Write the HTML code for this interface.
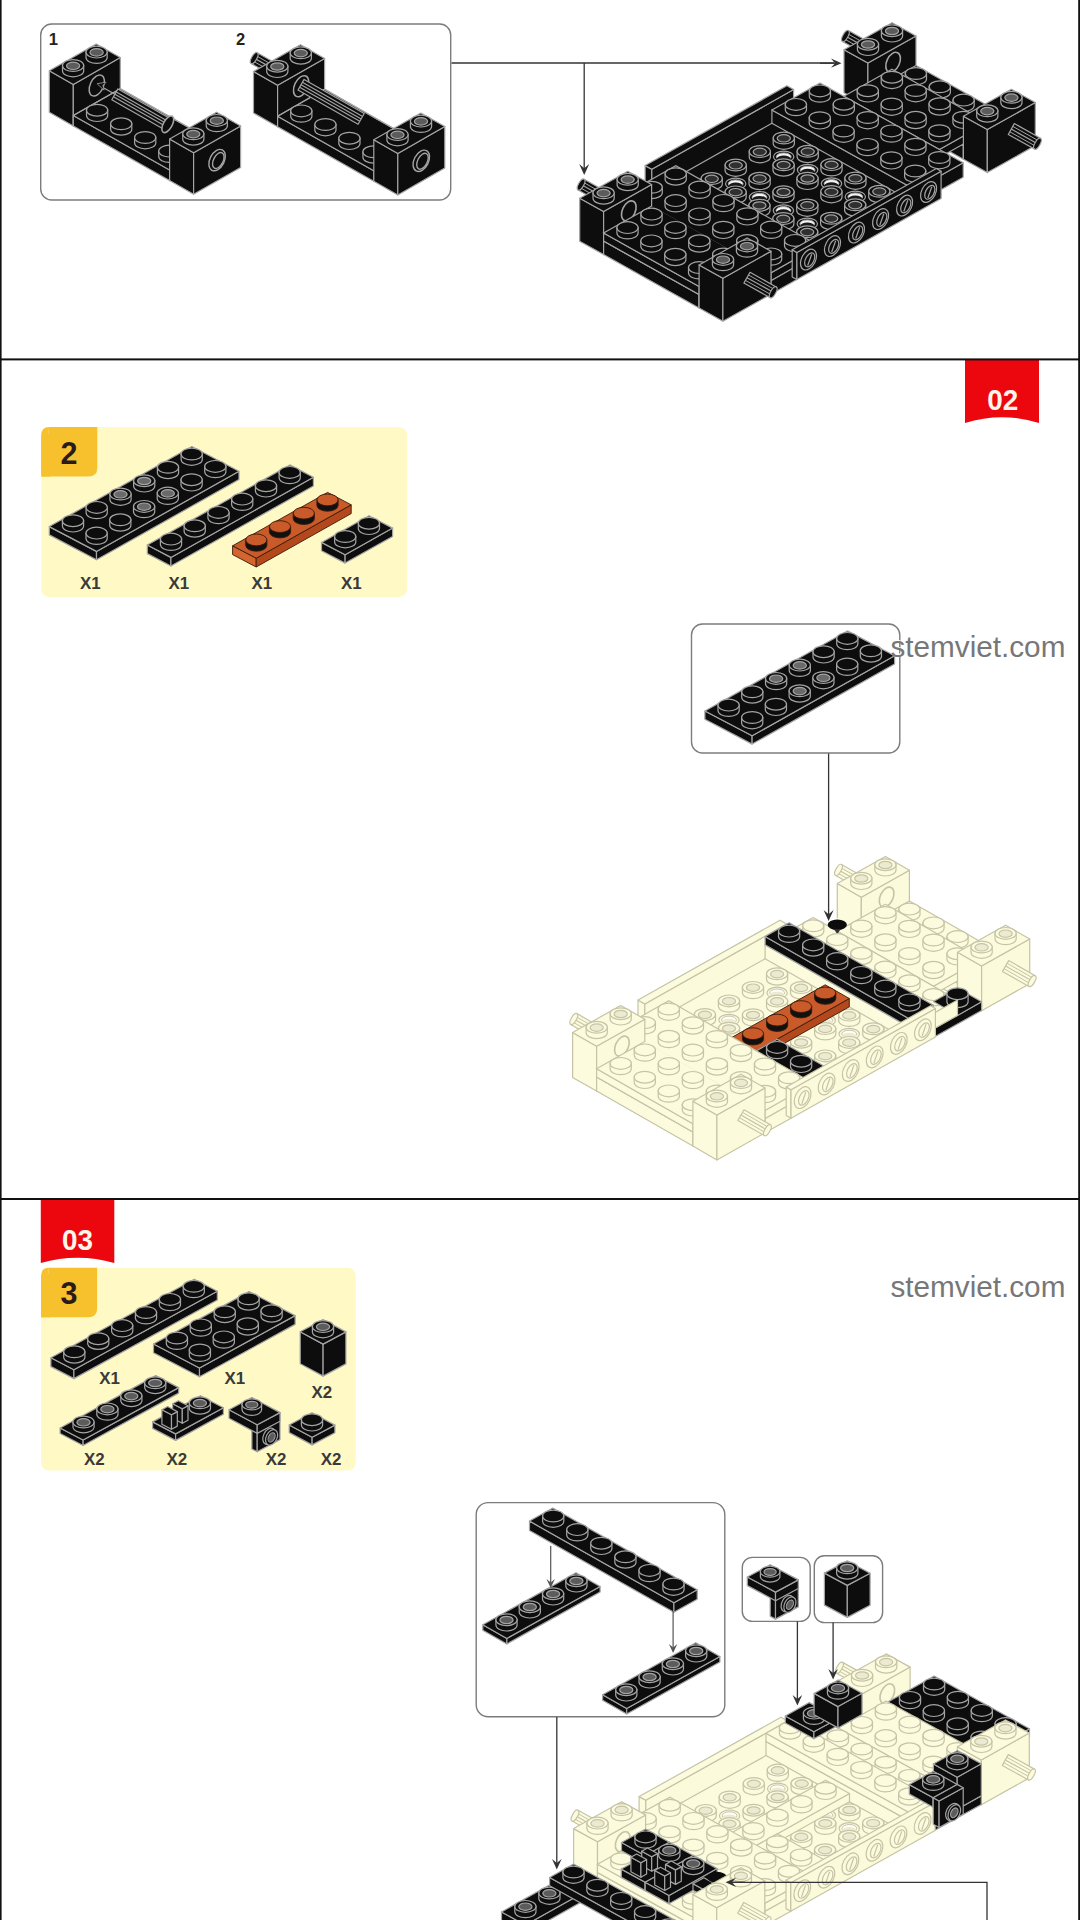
<!DOCTYPE html>
<html><head><meta charset="utf-8"><title>Build steps</title>
<style>
html,body{margin:0;padding:0;background:#fff;}
body{width:1080px;height:1920px;overflow:hidden;font-family:"Liberation Sans",sans-serif;}
svg{display:block;font-family:"Liberation Sans",sans-serif;}
</style></head><body>
<svg width="1080" height="1920" viewBox="0 0 1080 1920">
<rect x="0" y="0" width="1080" height="1920" fill="#fff"/>
<rect x="40.7" y="24" width="410" height="176" rx="11" fill="none" stroke="#7c7c7c" stroke-width="1.4"/>
<text x="48.8" y="45.3" font-size="16.5" font-weight="bold" fill="#222" text-anchor="start">1</text>
<text x="236" y="45.3" font-size="16.5" font-weight="bold" fill="#222" text-anchor="start">2</text>
<polygon points="49.3,70.8 73.3,84.5 73.3,126 49.3,112.3" fill="#0d0d0d" stroke="#a4a4a4" stroke-width="1.2" stroke-linejoin="round"/><polygon points="73.3,84.5 120.3,57.6 120.3,99.2 73.3,126" fill="#0d0d0d" stroke="#a4a4a4" stroke-width="1.2" stroke-linejoin="round"/><polygon points="49.3,70.8 96.3,44 120.3,57.6 73.3,84.5" fill="#0d0d0d" stroke="#a4a4a4" stroke-width="1.2" stroke-linejoin="round"/><path d="M86,52.1 L86,57.5 A10.6,5.9 0 0 0 107.2,57.5 L107.2,52.1 Z" fill="#0d0d0d" stroke="#a4a4a4" stroke-width="1.2"/><ellipse cx="96.6" cy="52.1" rx="10.6" ry="5.9" fill="#0d0d0d" stroke="#a4a4a4" stroke-width="1.2"/><ellipse cx="96.6" cy="52.4" rx="6.6" ry="3.7" fill="#5c5c5c" stroke="#a4a4a4" stroke-width="1.2"/><path d="M62.5,65.5 L62.5,70.9 A10.6,5.9 0 0 0 83.7,70.9 L83.7,65.5 Z" fill="#0d0d0d" stroke="#a4a4a4" stroke-width="1.2"/><ellipse cx="73.1" cy="65.5" rx="10.6" ry="5.9" fill="#0d0d0d" stroke="#a4a4a4" stroke-width="1.2"/><ellipse cx="73.1" cy="65.8" rx="6.6" ry="3.7" fill="#5c5c5c" stroke="#a4a4a4" stroke-width="1.2"/><ellipse cx="96.8" cy="85.5" rx="6.6" ry="11.2" transform="rotate(25 96.8 85.5)" fill="#0d0d0d" stroke="#a4a4a4" stroke-width="1.5"/><polygon points="73.3,115.5 169.6,170.1 169.6,180.6 73.3,126" fill="#0d0d0d" stroke="#a4a4a4" stroke-width="1.2" stroke-linejoin="round"/><polygon points="169.6,170.1 216.6,143.2 216.6,153.8 169.6,180.6" fill="#0d0d0d" stroke="#a4a4a4" stroke-width="1.2" stroke-linejoin="round"/><polygon points="73.3,115.5 120.3,88.7 216.6,143.2 169.6,170.1" fill="#0d0d0d" stroke="#a4a4a4" stroke-width="1.2" stroke-linejoin="round"/><polyline points="73.3,115.5 120.3,88.7 216.6,143.2" fill="none" stroke="#a4a4a4" stroke-width="1.2"/><path d="M86.5,110.2 L86.5,115.6 A10.6,5.9 0 0 0 107.7,115.6 L107.7,110.2 Z" fill="#0d0d0d" stroke="#a4a4a4" stroke-width="1.2"/><ellipse cx="97.1" cy="110.2" rx="10.6" ry="5.9" fill="#0d0d0d" stroke="#a4a4a4" stroke-width="1.2"/><path d="M110.6,123.8 L110.6,129.2 A10.6,5.9 0 0 0 131.8,129.2 L131.8,123.8 Z" fill="#0d0d0d" stroke="#a4a4a4" stroke-width="1.2"/><ellipse cx="121.2" cy="123.8" rx="10.6" ry="5.9" fill="#0d0d0d" stroke="#a4a4a4" stroke-width="1.2"/><path d="M134.6,137.5 L134.6,142.9 A10.6,5.9 0 0 0 155.8,142.9 L155.8,137.5 Z" fill="#0d0d0d" stroke="#a4a4a4" stroke-width="1.2"/><ellipse cx="145.2" cy="137.5" rx="10.6" ry="5.9" fill="#0d0d0d" stroke="#a4a4a4" stroke-width="1.2"/><path d="M158.7,151.1 L158.7,156.5 A10.6,5.9 0 0 0 179.9,156.5 L179.9,151.1 Z" fill="#0d0d0d" stroke="#a4a4a4" stroke-width="1.2"/><ellipse cx="169.3" cy="151.1" rx="10.6" ry="5.9" fill="#0d0d0d" stroke="#a4a4a4" stroke-width="1.2"/><polygon points="111.8,99.7 164.7,129.7 170.9,118.9 117.9,88.9" fill="#0d0d0d" stroke="#a4a4a4" stroke-width="1.2" stroke-linejoin="round"/><polyline points="116.3,91.9 169.2,121.9" fill="none" stroke="#a4a4a4" stroke-width="1.1"/><polyline points="114.9,94.3 167.8,124.3" fill="none" stroke="#a4a4a4" stroke-width="1.1"/><polyline points="113.5,96.7 166.4,126.7" fill="none" stroke="#a4a4a4" stroke-width="1.1"/><ellipse cx="167.8" cy="124.3" rx="4.4" ry="9.2" transform="rotate(29.6 167.8 124.3)" fill="#0d0d0d" stroke="#a4a4a4" stroke-width="1.6"/><polyline points="114.9,94.3 101.7,86.8" fill="none" stroke="#a4a4a4" stroke-width="1.2"/><path d="M97.1,83.7 l9,-1.5 l-3.2,3.2 l1.2,4.8 Z" fill="#0d0d0d" stroke="#a4a4a4" stroke-width="0.8"/><polygon points="169.6,139.1 193.6,152.7 193.6,194.2 169.6,180.6" fill="#0d0d0d" stroke="#a4a4a4" stroke-width="1.2" stroke-linejoin="round"/><polygon points="193.6,152.7 240.6,125.9 240.6,167.4 193.6,194.2" fill="#0d0d0d" stroke="#a4a4a4" stroke-width="1.2" stroke-linejoin="round"/><polygon points="169.6,139.1 216.6,112.2 240.6,125.9 193.6,152.7" fill="#0d0d0d" stroke="#a4a4a4" stroke-width="1.2" stroke-linejoin="round"/><path d="M206.2,120.4 L206.2,125.8 A10.6,5.9 0 0 0 227.4,125.8 L227.4,120.4 Z" fill="#0d0d0d" stroke="#a4a4a4" stroke-width="1.2"/><ellipse cx="216.8" cy="120.4" rx="10.6" ry="5.9" fill="#0d0d0d" stroke="#a4a4a4" stroke-width="1.2"/><ellipse cx="216.8" cy="120.7" rx="6.6" ry="3.7" fill="#5c5c5c" stroke="#a4a4a4" stroke-width="1.2"/><path d="M182.7,133.8 L182.7,139.2 A10.6,5.9 0 0 0 203.9,139.2 L203.9,133.8 Z" fill="#0d0d0d" stroke="#a4a4a4" stroke-width="1.2"/><ellipse cx="193.3" cy="133.8" rx="10.6" ry="5.9" fill="#0d0d0d" stroke="#a4a4a4" stroke-width="1.2"/><ellipse cx="193.3" cy="134.1" rx="6.6" ry="3.7" fill="#5c5c5c" stroke="#a4a4a4" stroke-width="1.2"/><ellipse cx="217.1" cy="160.1" rx="7.2" ry="11.4" transform="rotate(27 217.1 160.1)" fill="#0d0d0d" stroke="#a4a4a4" stroke-width="1.4"/><ellipse cx="218.3" cy="160.5" rx="4.8" ry="8.6" transform="rotate(27 218.3 160.5)" fill="#0d0d0d" stroke="#a4a4a4" stroke-width="1.4"/>
<polygon points="273.9,76.5 251.1,63.5 257.2,52.7 280.1,65.7" fill="#0d0d0d" stroke="#a4a4a4" stroke-width="1.2" stroke-linejoin="round"/><polyline points="277,71.1 254.2,58.1" fill="none" stroke="#a4a4a4" stroke-width="1.2"/><polyline points="275.5,73.8 252.6,60.8" fill="none" stroke="#a4a4a4" stroke-width="1"/><polyline points="278.5,68.4 255.7,55.4" fill="none" stroke="#a4a4a4" stroke-width="1"/><ellipse cx="254.2" cy="58.1" rx="2.6" ry="6.2" transform="rotate(29.6 254.2 58.1)" fill="#0d0d0d" stroke="#a4a4a4" stroke-width="1.2"/><polygon points="253.5,71.5 277.6,85.2 277.6,126.7 253.5,113" fill="#0d0d0d" stroke="#a4a4a4" stroke-width="1.2" stroke-linejoin="round"/><polygon points="277.6,85.2 324.6,58.4 324.6,99.8 277.6,126.7" fill="#0d0d0d" stroke="#a4a4a4" stroke-width="1.2" stroke-linejoin="round"/><polygon points="253.5,71.5 300.5,44.7 324.6,58.4 277.6,85.2" fill="#0d0d0d" stroke="#a4a4a4" stroke-width="1.2" stroke-linejoin="round"/><path d="M290.2,52.8 L290.2,58.2 A10.6,5.9 0 0 0 311.4,58.2 L311.4,52.8 Z" fill="#0d0d0d" stroke="#a4a4a4" stroke-width="1.2"/><ellipse cx="300.8" cy="52.8" rx="10.6" ry="5.9" fill="#0d0d0d" stroke="#a4a4a4" stroke-width="1.2"/><ellipse cx="300.8" cy="53.1" rx="6.6" ry="3.7" fill="#5c5c5c" stroke="#a4a4a4" stroke-width="1.2"/><path d="M266.7,66.2 L266.7,71.6 A10.6,5.9 0 0 0 287.9,71.6 L287.9,66.2 Z" fill="#0d0d0d" stroke="#a4a4a4" stroke-width="1.2"/><ellipse cx="277.3" cy="66.2" rx="10.6" ry="5.9" fill="#0d0d0d" stroke="#a4a4a4" stroke-width="1.2"/><ellipse cx="277.3" cy="66.5" rx="6.6" ry="3.7" fill="#5c5c5c" stroke="#a4a4a4" stroke-width="1.2"/><ellipse cx="301.1" cy="86.2" rx="6.6" ry="11.2" transform="rotate(25 301.1 86.2)" fill="#0d0d0d" stroke="#a4a4a4" stroke-width="1.5"/><polygon points="277.6,116.2 373.8,170.8 373.8,181.2 277.6,126.7" fill="#0d0d0d" stroke="#a4a4a4" stroke-width="1.2" stroke-linejoin="round"/><polygon points="373.8,170.8 420.8,143.9 420.8,154.4 373.8,181.2" fill="#0d0d0d" stroke="#a4a4a4" stroke-width="1.2" stroke-linejoin="round"/><polygon points="277.6,116.2 324.6,89.3 420.8,143.9 373.8,170.8" fill="#0d0d0d" stroke="#a4a4a4" stroke-width="1.2" stroke-linejoin="round"/><polyline points="277.6,116.2 324.6,89.3 420.8,143.9" fill="none" stroke="#a4a4a4" stroke-width="1.2"/><path d="M290.7,110.9 L290.7,116.3 A10.6,5.9 0 0 0 311.9,116.3 L311.9,110.9 Z" fill="#0d0d0d" stroke="#a4a4a4" stroke-width="1.2"/><ellipse cx="301.3" cy="110.9" rx="10.6" ry="5.9" fill="#0d0d0d" stroke="#a4a4a4" stroke-width="1.2"/><path d="M314.8,124.5 L314.8,129.9 A10.6,5.9 0 0 0 336,129.9 L336,124.5 Z" fill="#0d0d0d" stroke="#a4a4a4" stroke-width="1.2"/><ellipse cx="325.4" cy="124.5" rx="10.6" ry="5.9" fill="#0d0d0d" stroke="#a4a4a4" stroke-width="1.2"/><path d="M338.8,138.2 L338.8,143.6 A10.6,5.9 0 0 0 360,143.6 L360,138.2 Z" fill="#0d0d0d" stroke="#a4a4a4" stroke-width="1.2"/><ellipse cx="349.4" cy="138.2" rx="10.6" ry="5.9" fill="#0d0d0d" stroke="#a4a4a4" stroke-width="1.2"/><path d="M362.9,151.8 L362.9,157.2 A10.6,5.9 0 0 0 384.1,157.2 L384.1,151.8 Z" fill="#0d0d0d" stroke="#a4a4a4" stroke-width="1.2"/><ellipse cx="373.5" cy="151.8" rx="10.6" ry="5.9" fill="#0d0d0d" stroke="#a4a4a4" stroke-width="1.2"/><polygon points="298,90.1 358.1,124.3 364.2,113.5 304.1,79.4" fill="#0d0d0d" stroke="#a4a4a4" stroke-width="1.2" stroke-linejoin="round"/><polyline points="302.4,82.3 362.6,116.4" fill="none" stroke="#a4a4a4" stroke-width="1.1"/><polyline points="301.1,84.8 361.2,118.9" fill="none" stroke="#a4a4a4" stroke-width="1.1"/><polyline points="299.7,87.2 359.8,121.3" fill="none" stroke="#a4a4a4" stroke-width="1.1"/><polygon points="373.8,139.8 397.8,153.4 397.8,194.9 373.8,181.2" fill="#0d0d0d" stroke="#a4a4a4" stroke-width="1.2" stroke-linejoin="round"/><polygon points="397.8,153.4 444.8,126.6 444.8,168.1 397.8,194.9" fill="#0d0d0d" stroke="#a4a4a4" stroke-width="1.2" stroke-linejoin="round"/><polygon points="373.8,139.8 420.8,113 444.8,126.6 397.8,153.4" fill="#0d0d0d" stroke="#a4a4a4" stroke-width="1.2" stroke-linejoin="round"/><path d="M410.4,121.1 L410.4,126.5 A10.6,5.9 0 0 0 431.6,126.5 L431.6,121.1 Z" fill="#0d0d0d" stroke="#a4a4a4" stroke-width="1.2"/><ellipse cx="421" cy="121.1" rx="10.6" ry="5.9" fill="#0d0d0d" stroke="#a4a4a4" stroke-width="1.2"/><ellipse cx="421" cy="121.4" rx="6.6" ry="3.7" fill="#5c5c5c" stroke="#a4a4a4" stroke-width="1.2"/><path d="M386.9,134.5 L386.9,139.9 A10.6,5.9 0 0 0 408.1,139.9 L408.1,134.5 Z" fill="#0d0d0d" stroke="#a4a4a4" stroke-width="1.2"/><ellipse cx="397.5" cy="134.5" rx="10.6" ry="5.9" fill="#0d0d0d" stroke="#a4a4a4" stroke-width="1.2"/><ellipse cx="397.5" cy="134.8" rx="6.6" ry="3.7" fill="#5c5c5c" stroke="#a4a4a4" stroke-width="1.2"/><ellipse cx="421.3" cy="160.8" rx="7.2" ry="11.4" transform="rotate(27 421.3 160.8)" fill="#0d0d0d" stroke="#a4a4a4" stroke-width="1.4"/><ellipse cx="422.5" cy="161.2" rx="4.8" ry="8.6" transform="rotate(27 422.5 161.2)" fill="#0d0d0d" stroke="#a4a4a4" stroke-width="1.4"/>
<polyline points="451.5,63 834,63" fill="none" stroke="#333" stroke-width="1.3"/>
<polyline points="820,63.2 835.7,63.2" fill="none" stroke="#333" stroke-width="1.3"/><path d="M841.5,63.2 L831,58.6 L835,63.2 L831,67.8 Z" fill="#333"/>
<polyline points="584.2,63 584.2,168.9" fill="none" stroke="#333" stroke-width="1.3"/><path d="M584.2,175 L579.2,164 L584.2,168.2 L589.2,164 Z" fill="#333"/>
<polygon points="645.1,165.6 651.8,169.3 651.8,196.2 645.1,192.4" fill="#0d0d0d" stroke="#a4a4a4" stroke-width="1.2" stroke-linejoin="round"/><polygon points="651.8,169.3 793.6,89.6 793.6,116.5 651.8,196.2" fill="#0d0d0d" stroke="#a4a4a4" stroke-width="1.2" stroke-linejoin="round"/><polygon points="645.1,165.6 786.9,85.8 793.6,89.6 651.8,169.3" fill="#0d0d0d" stroke="#a4a4a4" stroke-width="1.2" stroke-linejoin="round"/><polygon points="865,54.1 842.4,41.4 848.4,30.6 871.1,43.2" fill="#0d0d0d" stroke="#a4a4a4" stroke-width="1.2" stroke-linejoin="round"/><polyline points="868.1,48.7 845.4,36" fill="none" stroke="#a4a4a4" stroke-width="1.2"/><polyline points="866.5,51.4 843.9,38.7" fill="none" stroke="#a4a4a4" stroke-width="1"/><polyline points="869.6,46 846.9,33.3" fill="none" stroke="#a4a4a4" stroke-width="1"/><ellipse cx="845.4" cy="36" rx="2.6" ry="6.2" transform="rotate(29.2 845.4 36)" fill="#0d0d0d" stroke="#a4a4a4" stroke-width="1.2"/><polygon points="844,49.7 867.9,63 867.9,106 844,92.7" fill="#0d0d0d" stroke="#a4a4a4" stroke-width="1.2" stroke-linejoin="round"/><polygon points="867.9,63 916,36 916,79 867.9,106" fill="#0d0d0d" stroke="#a4a4a4" stroke-width="1.2" stroke-linejoin="round"/><polygon points="844,49.7 892.1,22.7 916,36 867.9,63" fill="#0d0d0d" stroke="#a4a4a4" stroke-width="1.2" stroke-linejoin="round"/><path d="M881.4,30.7 L881.4,36.1 A10.6,5.9 0 0 0 902.6,36.1 L902.6,30.7 Z" fill="#0d0d0d" stroke="#a4a4a4" stroke-width="1.2"/><ellipse cx="892" cy="30.7" rx="10.6" ry="5.9" fill="#0d0d0d" stroke="#a4a4a4" stroke-width="1.2"/><ellipse cx="892" cy="31" rx="6.6" ry="3.7" fill="#5c5c5c" stroke="#a4a4a4" stroke-width="1.2"/><path d="M857.4,44.2 L857.4,49.6 A10.6,5.9 0 0 0 878.6,49.6 L878.6,44.2 Z" fill="#0d0d0d" stroke="#a4a4a4" stroke-width="1.2"/><ellipse cx="868" cy="44.2" rx="10.6" ry="5.9" fill="#0d0d0d" stroke="#a4a4a4" stroke-width="1.2"/><ellipse cx="868" cy="44.5" rx="6.6" ry="3.7" fill="#5c5c5c" stroke="#a4a4a4" stroke-width="1.2"/><ellipse cx="893.1" cy="62.3" rx="6.4" ry="10.6" transform="rotate(25 893.1 62.3)" fill="#0d0d0d" stroke="#a4a4a4" stroke-width="1.6"/><polygon points="867.9,92.5 963.4,145.8 963.4,159.3 867.9,106" fill="#0d0d0d" stroke="#a4a4a4" stroke-width="1.2" stroke-linejoin="round"/><polygon points="963.4,145.8 1011.4,118.7 1011.4,132.3 963.4,159.3" fill="#0d0d0d" stroke="#a4a4a4" stroke-width="1.2" stroke-linejoin="round"/><polygon points="867.9,92.5 916,65.5 1011.4,118.7 963.4,145.8" fill="#0d0d0d" stroke="#a4a4a4" stroke-width="1.2" stroke-linejoin="round"/><path d="M905.3,73.5 L905.3,78.9 A10.6,5.9 0 0 0 926.5,78.9 L926.5,73.5 Z" fill="#0d0d0d" stroke="#a4a4a4" stroke-width="1.2"/><ellipse cx="915.9" cy="73.5" rx="10.6" ry="5.9" fill="#0d0d0d" stroke="#a4a4a4" stroke-width="1.2"/><path d="M929.1,86.8 L929.1,92.2 A10.6,5.9 0 0 0 950.4,92.2 L950.4,86.8 Z" fill="#0d0d0d" stroke="#a4a4a4" stroke-width="1.2"/><ellipse cx="939.8" cy="86.8" rx="10.6" ry="5.9" fill="#0d0d0d" stroke="#a4a4a4" stroke-width="1.2"/><path d="M953,100.1 L953,105.5 A10.6,5.9 0 0 0 974.2,105.5 L974.2,100.1 Z" fill="#0d0d0d" stroke="#a4a4a4" stroke-width="1.2"/><ellipse cx="963.6" cy="100.1" rx="10.6" ry="5.9" fill="#0d0d0d" stroke="#a4a4a4" stroke-width="1.2"/><path d="M976.9,113.4 L976.9,118.8 A10.6,5.9 0 0 0 998.1,118.8 L998.1,113.4 Z" fill="#0d0d0d" stroke="#a4a4a4" stroke-width="1.2"/><ellipse cx="987.5" cy="113.4" rx="10.6" ry="5.9" fill="#0d0d0d" stroke="#a4a4a4" stroke-width="1.2"/><polygon points="843.9,96.2 939.4,149.5 939.4,157.4 843.9,104.2" fill="#0d0d0d" stroke="#a4a4a4" stroke-width="1.2" stroke-linejoin="round"/><polygon points="939.4,149.5 987.4,122.5 987.4,130.4 939.4,157.4" fill="#0d0d0d" stroke="#a4a4a4" stroke-width="1.2" stroke-linejoin="round"/><polygon points="843.9,96.2 891.9,69.2 987.4,122.5 939.4,149.5" fill="#0d0d0d" stroke="#a4a4a4" stroke-width="1.2" stroke-linejoin="round"/><polygon points="771.9,109.9 915.2,189.8 915.2,204.3 771.9,124.3" fill="#0d0d0d" stroke="#a4a4a4" stroke-width="1.2" stroke-linejoin="round"/><polygon points="915.2,189.8 963.2,162.8 963.2,177.2 915.2,204.3" fill="#0d0d0d" stroke="#a4a4a4" stroke-width="1.2" stroke-linejoin="round"/><polygon points="771.9,109.9 820,82.9 963.2,162.8 915.2,189.8" fill="#0d0d0d" stroke="#a4a4a4" stroke-width="1.2" stroke-linejoin="round"/><path d="M881.2,77.2 L881.2,82.6 A10.6,5.9 0 0 0 902.5,82.6 L902.5,77.2 Z" fill="#0d0d0d" stroke="#a4a4a4" stroke-width="1.2"/><ellipse cx="891.9" cy="77.2" rx="10.6" ry="5.9" fill="#0d0d0d" stroke="#a4a4a4" stroke-width="1.2"/><path d="M809.3,90.9 L809.3,96.3 A10.6,5.9 0 0 0 830.5,96.3 L830.5,90.9 Z" fill="#0d0d0d" stroke="#a4a4a4" stroke-width="1.2"/><ellipse cx="819.9" cy="90.9" rx="10.6" ry="5.9" fill="#0d0d0d" stroke="#a4a4a4" stroke-width="1.2"/><path d="M857.2,90.7 L857.2,96.1 A10.6,5.9 0 0 0 878.4,96.1 L878.4,90.7 Z" fill="#0d0d0d" stroke="#a4a4a4" stroke-width="1.2"/><ellipse cx="867.8" cy="90.7" rx="10.6" ry="5.9" fill="#0d0d0d" stroke="#a4a4a4" stroke-width="1.2"/><path d="M905.1,90.5 L905.1,95.9 A10.6,5.9 0 0 0 926.3,95.9 L926.3,90.5 Z" fill="#0d0d0d" stroke="#a4a4a4" stroke-width="1.2"/><ellipse cx="915.7" cy="90.5" rx="10.6" ry="5.9" fill="#0d0d0d" stroke="#a4a4a4" stroke-width="1.2"/><path d="M785.3,104.4 L785.3,109.8 A10.6,5.9 0 0 0 806.5,109.8 L806.5,104.4 Z" fill="#0d0d0d" stroke="#a4a4a4" stroke-width="1.2"/><ellipse cx="795.9" cy="104.4" rx="10.6" ry="5.9" fill="#0d0d0d" stroke="#a4a4a4" stroke-width="1.2"/><path d="M833.2,104.2 L833.2,109.6 A10.6,5.9 0 0 0 854.4,109.6 L854.4,104.2 Z" fill="#0d0d0d" stroke="#a4a4a4" stroke-width="1.2"/><ellipse cx="843.8" cy="104.2" rx="10.6" ry="5.9" fill="#0d0d0d" stroke="#a4a4a4" stroke-width="1.2"/><path d="M881.1,104 L881.1,109.4 A10.6,5.9 0 0 0 902.3,109.4 L902.3,104 Z" fill="#0d0d0d" stroke="#a4a4a4" stroke-width="1.2"/><ellipse cx="891.7" cy="104" rx="10.6" ry="5.9" fill="#0d0d0d" stroke="#a4a4a4" stroke-width="1.2"/><path d="M929,103.8 L929,109.2 A10.6,5.9 0 0 0 950.2,109.2 L950.2,103.8 Z" fill="#0d0d0d" stroke="#a4a4a4" stroke-width="1.2"/><ellipse cx="939.6" cy="103.8" rx="10.6" ry="5.9" fill="#0d0d0d" stroke="#a4a4a4" stroke-width="1.2"/><path d="M809.2,117.7 L809.2,123.1 A10.6,5.9 0 0 0 830.4,123.1 L830.4,117.7 Z" fill="#0d0d0d" stroke="#a4a4a4" stroke-width="1.2"/><ellipse cx="819.8" cy="117.7" rx="10.6" ry="5.9" fill="#0d0d0d" stroke="#a4a4a4" stroke-width="1.2"/><path d="M857.1,117.5 L857.1,122.9 A10.6,5.9 0 0 0 878.3,122.9 L878.3,117.5 Z" fill="#0d0d0d" stroke="#a4a4a4" stroke-width="1.2"/><ellipse cx="867.7" cy="117.5" rx="10.6" ry="5.9" fill="#0d0d0d" stroke="#a4a4a4" stroke-width="1.2"/><path d="M905,117.3 L905,122.7 A10.6,5.9 0 0 0 926.2,122.7 L926.2,117.3 Z" fill="#0d0d0d" stroke="#a4a4a4" stroke-width="1.2"/><ellipse cx="915.6" cy="117.3" rx="10.6" ry="5.9" fill="#0d0d0d" stroke="#a4a4a4" stroke-width="1.2"/><path d="M952.9,117.2 L952.9,122.6 A10.6,5.9 0 0 0 974.1,122.6 L974.1,117.2 Z" fill="#0d0d0d" stroke="#a4a4a4" stroke-width="1.2"/><ellipse cx="963.5" cy="117.2" rx="10.6" ry="5.9" fill="#0d0d0d" stroke="#a4a4a4" stroke-width="1.2"/><path d="M833,131 L833,136.4 A10.6,5.9 0 0 0 854.2,136.4 L854.2,131 Z" fill="#0d0d0d" stroke="#a4a4a4" stroke-width="1.2"/><ellipse cx="843.6" cy="131" rx="10.6" ry="5.9" fill="#0d0d0d" stroke="#a4a4a4" stroke-width="1.2"/><path d="M880.9,130.9 L880.9,136.3 A10.6,5.9 0 0 0 902.1,136.3 L902.1,130.9 Z" fill="#0d0d0d" stroke="#a4a4a4" stroke-width="1.2"/><ellipse cx="891.5" cy="130.9" rx="10.6" ry="5.9" fill="#0d0d0d" stroke="#a4a4a4" stroke-width="1.2"/><path d="M928.8,130.7 L928.8,136.1 A10.6,5.9 0 0 0 950,136.1 L950,130.7 Z" fill="#0d0d0d" stroke="#a4a4a4" stroke-width="1.2"/><ellipse cx="939.4" cy="130.7" rx="10.6" ry="5.9" fill="#0d0d0d" stroke="#a4a4a4" stroke-width="1.2"/><path d="M856.9,144.4 L856.9,149.8 A10.6,5.9 0 0 0 878.1,149.8 L878.1,144.4 Z" fill="#0d0d0d" stroke="#a4a4a4" stroke-width="1.2"/><ellipse cx="867.5" cy="144.4" rx="10.6" ry="5.9" fill="#0d0d0d" stroke="#a4a4a4" stroke-width="1.2"/><path d="M904.8,144.2 L904.8,149.6 A10.6,5.9 0 0 0 926,149.6 L926,144.2 Z" fill="#0d0d0d" stroke="#a4a4a4" stroke-width="1.2"/><ellipse cx="915.4" cy="144.2" rx="10.6" ry="5.9" fill="#0d0d0d" stroke="#a4a4a4" stroke-width="1.2"/><path d="M880.8,157.7 L880.8,163.1 A10.6,5.9 0 0 0 902,163.1 L902,157.7 Z" fill="#0d0d0d" stroke="#a4a4a4" stroke-width="1.2"/><ellipse cx="891.4" cy="157.7" rx="10.6" ry="5.9" fill="#0d0d0d" stroke="#a4a4a4" stroke-width="1.2"/><path d="M928.7,157.5 L928.7,162.9 A10.6,5.9 0 0 0 949.9,162.9 L949.9,157.5 Z" fill="#0d0d0d" stroke="#a4a4a4" stroke-width="1.2"/><ellipse cx="939.3" cy="157.5" rx="10.6" ry="5.9" fill="#0d0d0d" stroke="#a4a4a4" stroke-width="1.2"/><path d="M904.6,171 L904.6,176.4 A10.6,5.9 0 0 0 925.8,176.4 L925.8,171 Z" fill="#0d0d0d" stroke="#a4a4a4" stroke-width="1.2"/><ellipse cx="915.2" cy="171" rx="10.6" ry="5.9" fill="#0d0d0d" stroke="#a4a4a4" stroke-width="1.2"/><polygon points="963.4,116.3 987.3,129.6 987.3,172.6 963.4,159.3" fill="#0d0d0d" stroke="#a4a4a4" stroke-width="1.2" stroke-linejoin="round"/><polygon points="987.3,129.6 1035.3,102.6 1035.3,145.6 987.3,172.6" fill="#0d0d0d" stroke="#a4a4a4" stroke-width="1.2" stroke-linejoin="round"/><polygon points="963.4,116.3 1011.4,89.3 1035.3,102.6 987.3,129.6" fill="#0d0d0d" stroke="#a4a4a4" stroke-width="1.2" stroke-linejoin="round"/><path d="M1000.8,97.3 L1000.8,102.7 A10.6,5.9 0 0 0 1022,102.7 L1022,97.3 Z" fill="#0d0d0d" stroke="#a4a4a4" stroke-width="1.2"/><ellipse cx="1011.4" cy="97.3" rx="10.6" ry="5.9" fill="#0d0d0d" stroke="#a4a4a4" stroke-width="1.2"/><ellipse cx="1011.4" cy="97.6" rx="6.6" ry="3.7" fill="#5c5c5c" stroke="#a4a4a4" stroke-width="1.2"/><path d="M976.7,110.8 L976.7,116.2 A10.6,5.9 0 0 0 997.9,116.2 L997.9,110.8 Z" fill="#0d0d0d" stroke="#a4a4a4" stroke-width="1.2"/><ellipse cx="987.3" cy="110.8" rx="10.6" ry="5.9" fill="#0d0d0d" stroke="#a4a4a4" stroke-width="1.2"/><ellipse cx="987.3" cy="111.1" rx="6.6" ry="3.7" fill="#5c5c5c" stroke="#a4a4a4" stroke-width="1.2"/><polygon points="1008.3,134.5 1034.5,149.1 1040.6,138.3 1014.3,123.6" fill="#0d0d0d" stroke="#a4a4a4" stroke-width="1.2" stroke-linejoin="round"/><polyline points="1011.3,129.1 1037.5,143.7" fill="none" stroke="#a4a4a4" stroke-width="1.2"/><polyline points="1009.8,131.8 1036,146.4" fill="none" stroke="#a4a4a4" stroke-width="1"/><polyline points="1012.8,126.4 1039,141" fill="none" stroke="#a4a4a4" stroke-width="1"/><ellipse cx="1037.5" cy="143.7" rx="2.6" ry="6.2" transform="rotate(29.2 1037.5 143.7)" fill="#0d0d0d" stroke="#a4a4a4" stroke-width="1.2"/><polygon points="675.8,177.4 819,257.3 819,265.3 675.8,185.3" fill="#0d0d0d" stroke="#a4a4a4" stroke-width="1.2" stroke-linejoin="round"/><polygon points="819,257.3 915.2,203.3 915.2,211.2 819,265.3" fill="#0d0d0d" stroke="#a4a4a4" stroke-width="1.2" stroke-linejoin="round"/><polygon points="675.8,177.4 771.9,123.3 915.2,203.3 819,257.3" fill="#0d0d0d" stroke="#a4a4a4" stroke-width="1.2" stroke-linejoin="round"/><ellipse cx="735.7" cy="183.8" rx="10.2" ry="5.7" fill="#0d0d0d" stroke="#a4a4a4" stroke-width="1.2"/><ellipse cx="735.7" cy="183.8" rx="7.4" ry="3.9" fill="#f6f6f6" stroke="#a4a4a4" stroke-width="1"/><ellipse cx="735.7" cy="185.7" rx="6.9" ry="3.2" fill="#1a1a1a"/><ellipse cx="759.5" cy="197.2" rx="10.2" ry="5.7" fill="#0d0d0d" stroke="#a4a4a4" stroke-width="1.2"/><ellipse cx="759.5" cy="197.2" rx="7.4" ry="3.9" fill="#f6f6f6" stroke="#a4a4a4" stroke-width="1"/><ellipse cx="759.5" cy="199.1" rx="6.9" ry="3.2" fill="#1a1a1a"/><ellipse cx="783.4" cy="210.5" rx="10.2" ry="5.7" fill="#0d0d0d" stroke="#a4a4a4" stroke-width="1.2"/><ellipse cx="783.4" cy="210.5" rx="7.4" ry="3.9" fill="#f6f6f6" stroke="#a4a4a4" stroke-width="1"/><ellipse cx="783.4" cy="212.4" rx="6.9" ry="3.2" fill="#1a1a1a"/><ellipse cx="807.3" cy="223.8" rx="10.2" ry="5.7" fill="#0d0d0d" stroke="#a4a4a4" stroke-width="1.2"/><ellipse cx="807.3" cy="223.8" rx="7.4" ry="3.9" fill="#f6f6f6" stroke="#a4a4a4" stroke-width="1"/><ellipse cx="807.3" cy="225.7" rx="6.9" ry="3.2" fill="#1a1a1a"/><ellipse cx="783.7" cy="156.8" rx="10.2" ry="5.7" fill="#0d0d0d" stroke="#a4a4a4" stroke-width="1.2"/><ellipse cx="783.7" cy="156.8" rx="7.4" ry="3.9" fill="#f6f6f6" stroke="#a4a4a4" stroke-width="1"/><ellipse cx="783.7" cy="158.7" rx="6.9" ry="3.2" fill="#1a1a1a"/><ellipse cx="807.6" cy="170.1" rx="10.2" ry="5.7" fill="#0d0d0d" stroke="#a4a4a4" stroke-width="1.2"/><ellipse cx="807.6" cy="170.1" rx="7.4" ry="3.9" fill="#f6f6f6" stroke="#a4a4a4" stroke-width="1"/><ellipse cx="807.6" cy="172" rx="6.9" ry="3.2" fill="#1a1a1a"/><ellipse cx="831.5" cy="183.5" rx="10.2" ry="5.7" fill="#0d0d0d" stroke="#a4a4a4" stroke-width="1.2"/><ellipse cx="831.5" cy="183.5" rx="7.4" ry="3.9" fill="#f6f6f6" stroke="#a4a4a4" stroke-width="1"/><ellipse cx="831.5" cy="185.4" rx="6.9" ry="3.2" fill="#1a1a1a"/><ellipse cx="855.3" cy="196.8" rx="10.2" ry="5.7" fill="#0d0d0d" stroke="#a4a4a4" stroke-width="1.2"/><ellipse cx="855.3" cy="196.8" rx="7.4" ry="3.9" fill="#f6f6f6" stroke="#a4a4a4" stroke-width="1"/><ellipse cx="855.3" cy="198.7" rx="6.9" ry="3.2" fill="#1a1a1a"/><path d="M773.2,138 L773.2,143.4 A10.6,5.9 0 0 0 794.4,143.4 L794.4,138 Z" fill="#0d0d0d" stroke="#a4a4a4" stroke-width="1.2"/><ellipse cx="783.8" cy="138" rx="10.6" ry="5.9" fill="#0d0d0d" stroke="#a4a4a4" stroke-width="1.2"/><ellipse cx="783.8" cy="138.3" rx="6.6" ry="3.7" fill="#303030" stroke="#a4a4a4" stroke-width="1.2"/><path d="M749.2,151.5 L749.2,156.9 A10.6,5.9 0 0 0 770.4,156.9 L770.4,151.5 Z" fill="#0d0d0d" stroke="#a4a4a4" stroke-width="1.2"/><ellipse cx="759.8" cy="151.5" rx="10.6" ry="5.9" fill="#0d0d0d" stroke="#a4a4a4" stroke-width="1.2"/><ellipse cx="759.8" cy="151.8" rx="6.6" ry="3.7" fill="#303030" stroke="#a4a4a4" stroke-width="1.2"/><path d="M797.1,151.3 L797.1,156.7 A10.6,5.9 0 0 0 818.3,156.7 L818.3,151.3 Z" fill="#0d0d0d" stroke="#a4a4a4" stroke-width="1.2"/><ellipse cx="807.7" cy="151.3" rx="10.6" ry="5.9" fill="#0d0d0d" stroke="#a4a4a4" stroke-width="1.2"/><ellipse cx="807.7" cy="151.6" rx="6.6" ry="3.7" fill="#303030" stroke="#a4a4a4" stroke-width="1.2"/><path d="M725.1,165 L725.1,170.4 A10.6,5.9 0 0 0 746.3,170.4 L746.3,165 Z" fill="#0d0d0d" stroke="#a4a4a4" stroke-width="1.2"/><ellipse cx="735.7" cy="165" rx="10.6" ry="5.9" fill="#0d0d0d" stroke="#a4a4a4" stroke-width="1.2"/><ellipse cx="735.7" cy="165.3" rx="6.6" ry="3.7" fill="#303030" stroke="#a4a4a4" stroke-width="1.2"/><path d="M773,164.8 L773,170.2 A10.6,5.9 0 0 0 794.2,170.2 L794.2,164.8 Z" fill="#0d0d0d" stroke="#a4a4a4" stroke-width="1.2"/><ellipse cx="783.6" cy="164.8" rx="10.6" ry="5.9" fill="#0d0d0d" stroke="#a4a4a4" stroke-width="1.2"/><ellipse cx="783.6" cy="165.1" rx="6.6" ry="3.7" fill="#303030" stroke="#a4a4a4" stroke-width="1.2"/><path d="M820.9,164.6 L820.9,170 A10.6,5.9 0 0 0 842.1,170 L842.1,164.6 Z" fill="#0d0d0d" stroke="#a4a4a4" stroke-width="1.2"/><ellipse cx="831.5" cy="164.6" rx="10.6" ry="5.9" fill="#0d0d0d" stroke="#a4a4a4" stroke-width="1.2"/><ellipse cx="831.5" cy="164.9" rx="6.6" ry="3.7" fill="#303030" stroke="#a4a4a4" stroke-width="1.2"/><path d="M701.1,178.5 L701.1,183.9 A10.6,5.9 0 0 0 722.3,183.9 L722.3,178.5 Z" fill="#0d0d0d" stroke="#a4a4a4" stroke-width="1.2"/><ellipse cx="711.7" cy="178.5" rx="10.6" ry="5.9" fill="#0d0d0d" stroke="#a4a4a4" stroke-width="1.2"/><ellipse cx="711.7" cy="178.8" rx="6.6" ry="3.7" fill="#303030" stroke="#a4a4a4" stroke-width="1.2"/><path d="M749,178.3 L749,183.7 A10.6,5.9 0 0 0 770.2,183.7 L770.2,178.3 Z" fill="#0d0d0d" stroke="#a4a4a4" stroke-width="1.2"/><ellipse cx="759.6" cy="178.3" rx="10.6" ry="5.9" fill="#0d0d0d" stroke="#a4a4a4" stroke-width="1.2"/><ellipse cx="759.6" cy="178.6" rx="6.6" ry="3.7" fill="#303030" stroke="#a4a4a4" stroke-width="1.2"/><path d="M796.9,178.2 L796.9,183.6 A10.6,5.9 0 0 0 818.1,183.6 L818.1,178.2 Z" fill="#0d0d0d" stroke="#a4a4a4" stroke-width="1.2"/><ellipse cx="807.5" cy="178.2" rx="10.6" ry="5.9" fill="#0d0d0d" stroke="#a4a4a4" stroke-width="1.2"/><ellipse cx="807.5" cy="178.5" rx="6.6" ry="3.7" fill="#303030" stroke="#a4a4a4" stroke-width="1.2"/><path d="M844.8,178 L844.8,183.4 A10.6,5.9 0 0 0 866,183.4 L866,178 Z" fill="#0d0d0d" stroke="#a4a4a4" stroke-width="1.2"/><ellipse cx="855.4" cy="178" rx="10.6" ry="5.9" fill="#0d0d0d" stroke="#a4a4a4" stroke-width="1.2"/><ellipse cx="855.4" cy="178.3" rx="6.6" ry="3.7" fill="#303030" stroke="#a4a4a4" stroke-width="1.2"/><path d="M725,191.9 L725,197.3 A10.6,5.9 0 0 0 746.2,197.3 L746.2,191.9 Z" fill="#0d0d0d" stroke="#a4a4a4" stroke-width="1.2"/><ellipse cx="735.6" cy="191.9" rx="10.6" ry="5.9" fill="#0d0d0d" stroke="#a4a4a4" stroke-width="1.2"/><ellipse cx="735.6" cy="192.2" rx="6.6" ry="3.7" fill="#303030" stroke="#a4a4a4" stroke-width="1.2"/><path d="M772.9,191.7 L772.9,197.1 A10.6,5.9 0 0 0 794.1,197.1 L794.1,191.7 Z" fill="#0d0d0d" stroke="#a4a4a4" stroke-width="1.2"/><ellipse cx="783.5" cy="191.7" rx="10.6" ry="5.9" fill="#0d0d0d" stroke="#a4a4a4" stroke-width="1.2"/><ellipse cx="783.5" cy="192" rx="6.6" ry="3.7" fill="#303030" stroke="#a4a4a4" stroke-width="1.2"/><path d="M820.8,191.5 L820.8,196.9 A10.6,5.9 0 0 0 842,196.9 L842,191.5 Z" fill="#0d0d0d" stroke="#a4a4a4" stroke-width="1.2"/><ellipse cx="831.4" cy="191.5" rx="10.6" ry="5.9" fill="#0d0d0d" stroke="#a4a4a4" stroke-width="1.2"/><ellipse cx="831.4" cy="191.8" rx="6.6" ry="3.7" fill="#303030" stroke="#a4a4a4" stroke-width="1.2"/><path d="M868.7,191.3 L868.7,196.7 A10.6,5.9 0 0 0 889.9,196.7 L889.9,191.3 Z" fill="#0d0d0d" stroke="#a4a4a4" stroke-width="1.2"/><ellipse cx="879.3" cy="191.3" rx="10.6" ry="5.9" fill="#0d0d0d" stroke="#a4a4a4" stroke-width="1.2"/><ellipse cx="879.3" cy="191.6" rx="6.6" ry="3.7" fill="#303030" stroke="#a4a4a4" stroke-width="1.2"/><path d="M748.8,205.2 L748.8,210.6 A10.6,5.9 0 0 0 770,210.6 L770,205.2 Z" fill="#0d0d0d" stroke="#a4a4a4" stroke-width="1.2"/><ellipse cx="759.4" cy="205.2" rx="10.6" ry="5.9" fill="#0d0d0d" stroke="#a4a4a4" stroke-width="1.2"/><ellipse cx="759.4" cy="205.5" rx="6.6" ry="3.7" fill="#303030" stroke="#a4a4a4" stroke-width="1.2"/><path d="M796.7,205 L796.7,210.4 A10.6,5.9 0 0 0 817.9,210.4 L817.9,205 Z" fill="#0d0d0d" stroke="#a4a4a4" stroke-width="1.2"/><ellipse cx="807.3" cy="205" rx="10.6" ry="5.9" fill="#0d0d0d" stroke="#a4a4a4" stroke-width="1.2"/><ellipse cx="807.3" cy="205.3" rx="6.6" ry="3.7" fill="#303030" stroke="#a4a4a4" stroke-width="1.2"/><path d="M844.6,204.8 L844.6,210.2 A10.6,5.9 0 0 0 865.8,210.2 L865.8,204.8 Z" fill="#0d0d0d" stroke="#a4a4a4" stroke-width="1.2"/><ellipse cx="855.2" cy="204.8" rx="10.6" ry="5.9" fill="#0d0d0d" stroke="#a4a4a4" stroke-width="1.2"/><ellipse cx="855.2" cy="205.1" rx="6.6" ry="3.7" fill="#303030" stroke="#a4a4a4" stroke-width="1.2"/><path d="M772.7,218.5 L772.7,223.9 A10.6,5.9 0 0 0 793.9,223.9 L793.9,218.5 Z" fill="#0d0d0d" stroke="#a4a4a4" stroke-width="1.2"/><ellipse cx="783.3" cy="218.5" rx="10.6" ry="5.9" fill="#0d0d0d" stroke="#a4a4a4" stroke-width="1.2"/><ellipse cx="783.3" cy="218.8" rx="6.6" ry="3.7" fill="#303030" stroke="#a4a4a4" stroke-width="1.2"/><path d="M820.6,218.3 L820.6,223.7 A10.6,5.9 0 0 0 841.8,223.7 L841.8,218.3 Z" fill="#0d0d0d" stroke="#a4a4a4" stroke-width="1.2"/><ellipse cx="831.2" cy="218.3" rx="10.6" ry="5.9" fill="#0d0d0d" stroke="#a4a4a4" stroke-width="1.2"/><ellipse cx="831.2" cy="218.6" rx="6.6" ry="3.7" fill="#303030" stroke="#a4a4a4" stroke-width="1.2"/><path d="M796.6,231.8 L796.6,237.2 A10.6,5.9 0 0 0 817.8,237.2 L817.8,231.8 Z" fill="#0d0d0d" stroke="#a4a4a4" stroke-width="1.2"/><ellipse cx="807.2" cy="231.8" rx="10.6" ry="5.9" fill="#0d0d0d" stroke="#a4a4a4" stroke-width="1.2"/><ellipse cx="807.2" cy="232.1" rx="6.6" ry="3.7" fill="#303030" stroke="#a4a4a4" stroke-width="1.2"/><polygon points="627.8,192.8 771,272.7 771,280.7 627.8,200.7" fill="#0d0d0d" stroke="#a4a4a4" stroke-width="1.2" stroke-linejoin="round"/><polygon points="771,272.7 819,245.7 819,253.6 771,280.7" fill="#0d0d0d" stroke="#a4a4a4" stroke-width="1.2" stroke-linejoin="round"/><polygon points="627.8,192.8 675.8,165.8 819,245.7 771,272.7" fill="#0d0d0d"/><polyline points="651.6,206.1 627.8,192.8 675.8,165.8 819,245.7 771,272.7 747.1,259.4" fill="none" stroke="#a4a4a4" stroke-width="1.2"/><path d="M665.1,173.8 L665.1,179.2 A10.6,5.9 0 0 0 686.3,179.2 L686.3,173.8 Z" fill="#0d0d0d" stroke="#a4a4a4" stroke-width="1.2"/><ellipse cx="675.7" cy="173.8" rx="10.6" ry="5.9" fill="#0d0d0d" stroke="#a4a4a4" stroke-width="1.2"/><path d="M641.1,187.3 L641.1,192.7 A10.6,5.9 0 0 0 662.3,192.7 L662.3,187.3 Z" fill="#0d0d0d" stroke="#a4a4a4" stroke-width="1.2"/><ellipse cx="651.7" cy="187.3" rx="10.6" ry="5.9" fill="#0d0d0d" stroke="#a4a4a4" stroke-width="1.2"/><path d="M689,187.1 L689,192.5 A10.6,5.9 0 0 0 710.2,192.5 L710.2,187.1 Z" fill="#0d0d0d" stroke="#a4a4a4" stroke-width="1.2"/><ellipse cx="699.6" cy="187.1" rx="10.6" ry="5.9" fill="#0d0d0d" stroke="#a4a4a4" stroke-width="1.2"/><path d="M665,200.6 L665,206 A10.6,5.9 0 0 0 686.2,206 L686.2,200.6 Z" fill="#0d0d0d" stroke="#a4a4a4" stroke-width="1.2"/><ellipse cx="675.6" cy="200.6" rx="10.6" ry="5.9" fill="#0d0d0d" stroke="#a4a4a4" stroke-width="1.2"/><path d="M712.9,200.4 L712.9,205.8 A10.6,5.9 0 0 0 734.1,205.8 L734.1,200.4 Z" fill="#0d0d0d" stroke="#a4a4a4" stroke-width="1.2"/><ellipse cx="723.5" cy="200.4" rx="10.6" ry="5.9" fill="#0d0d0d" stroke="#a4a4a4" stroke-width="1.2"/><path d="M688.9,213.9 L688.9,219.3 A10.6,5.9 0 0 0 710.1,219.3 L710.1,213.9 Z" fill="#0d0d0d" stroke="#a4a4a4" stroke-width="1.2"/><ellipse cx="699.5" cy="213.9" rx="10.6" ry="5.9" fill="#0d0d0d" stroke="#a4a4a4" stroke-width="1.2"/><path d="M736.8,213.7 L736.8,219.1 A10.6,5.9 0 0 0 758,219.1 L758,213.7 Z" fill="#0d0d0d" stroke="#a4a4a4" stroke-width="1.2"/><ellipse cx="747.4" cy="213.7" rx="10.6" ry="5.9" fill="#0d0d0d" stroke="#a4a4a4" stroke-width="1.2"/><path d="M712.7,227.2 L712.7,232.6 A10.6,5.9 0 0 0 733.9,232.6 L733.9,227.2 Z" fill="#0d0d0d" stroke="#a4a4a4" stroke-width="1.2"/><ellipse cx="723.3" cy="227.2" rx="10.6" ry="5.9" fill="#0d0d0d" stroke="#a4a4a4" stroke-width="1.2"/><path d="M760.6,227.1 L760.6,232.5 A10.6,5.9 0 0 0 781.8,232.5 L781.8,227.1 Z" fill="#0d0d0d" stroke="#a4a4a4" stroke-width="1.2"/><ellipse cx="771.2" cy="227.1" rx="10.6" ry="5.9" fill="#0d0d0d" stroke="#a4a4a4" stroke-width="1.2"/><path d="M736.6,240.6 L736.6,246 A10.6,5.9 0 0 0 757.8,246 L757.8,240.6 Z" fill="#0d0d0d" stroke="#a4a4a4" stroke-width="1.2"/><ellipse cx="747.2" cy="240.6" rx="10.6" ry="5.9" fill="#0d0d0d" stroke="#a4a4a4" stroke-width="1.2"/><path d="M784.5,240.4 L784.5,245.8 A10.6,5.9 0 0 0 805.7,245.8 L805.7,240.4 Z" fill="#0d0d0d" stroke="#a4a4a4" stroke-width="1.2"/><ellipse cx="795.1" cy="240.4" rx="10.6" ry="5.9" fill="#0d0d0d" stroke="#a4a4a4" stroke-width="1.2"/><path d="M760.5,253.9 L760.5,259.3 A10.6,5.9 0 0 0 781.7,259.3 L781.7,253.9 Z" fill="#0d0d0d" stroke="#a4a4a4" stroke-width="1.2"/><ellipse cx="771.1" cy="253.9" rx="10.6" ry="5.9" fill="#0d0d0d" stroke="#a4a4a4" stroke-width="1.2"/><polygon points="771,280.7 796.9,266.1 796.9,279.6 771,294.2" fill="#0d0d0d" stroke="#a4a4a4" stroke-width="1.2" stroke-linejoin="round"/><polygon points="792.2,249.7 796.9,252.4 796.9,279.6 792.2,276.9" fill="#0d0d0d" stroke="#a4a4a4" stroke-width="1.2" stroke-linejoin="round"/><polygon points="796.9,252.4 941.1,171.3 941.1,198.5 796.9,279.6" fill="#0d0d0d" stroke="#a4a4a4" stroke-width="1.2" stroke-linejoin="round"/><polygon points="792.2,249.7 936.3,168.6 941.1,171.3 796.9,252.4" fill="#0d0d0d" stroke="#a4a4a4" stroke-width="1.2" stroke-linejoin="round"/><ellipse cx="808.5" cy="259.6" rx="7" ry="11.1" transform="rotate(27 808.5 259.6)" fill="#0d0d0d" stroke="#a4a4a4" stroke-width="1.2"/><ellipse cx="809.7" cy="259.9" rx="4.2" ry="7.5" transform="rotate(27 809.7 259.9)" fill="#0d0d0d" stroke="#a4a4a4" stroke-width="1.2"/><polyline points="811.7,254.3 807.7,265.5" fill="none" stroke="#a4a4a4" stroke-width="1.2"/><ellipse cx="832.5" cy="246.1" rx="7" ry="11.1" transform="rotate(27 832.5 246.1)" fill="#0d0d0d" stroke="#a4a4a4" stroke-width="1.2"/><ellipse cx="833.7" cy="246.4" rx="4.2" ry="7.5" transform="rotate(27 833.7 246.4)" fill="#0d0d0d" stroke="#a4a4a4" stroke-width="1.2"/><polyline points="835.7,240.8 831.7,252" fill="none" stroke="#a4a4a4" stroke-width="1.2"/><ellipse cx="856.5" cy="232.6" rx="7" ry="11.1" transform="rotate(27 856.5 232.6)" fill="#0d0d0d" stroke="#a4a4a4" stroke-width="1.2"/><ellipse cx="857.7" cy="232.9" rx="4.2" ry="7.5" transform="rotate(27 857.7 232.9)" fill="#0d0d0d" stroke="#a4a4a4" stroke-width="1.2"/><polyline points="859.7,227.3 855.7,238.5" fill="none" stroke="#a4a4a4" stroke-width="1.2"/><ellipse cx="880.6" cy="219.1" rx="7" ry="11.1" transform="rotate(27 880.6 219.1)" fill="#0d0d0d" stroke="#a4a4a4" stroke-width="1.2"/><ellipse cx="881.8" cy="219.4" rx="4.2" ry="7.5" transform="rotate(27 881.8 219.4)" fill="#0d0d0d" stroke="#a4a4a4" stroke-width="1.2"/><polyline points="883.8,213.8 879.8,225" fill="none" stroke="#a4a4a4" stroke-width="1.2"/><ellipse cx="904.6" cy="205.6" rx="7" ry="11.1" transform="rotate(27 904.6 205.6)" fill="#0d0d0d" stroke="#a4a4a4" stroke-width="1.2"/><ellipse cx="905.8" cy="205.9" rx="4.2" ry="7.5" transform="rotate(27 905.8 205.9)" fill="#0d0d0d" stroke="#a4a4a4" stroke-width="1.2"/><polyline points="907.8,200.3 903.8,211.5" fill="none" stroke="#a4a4a4" stroke-width="1.2"/><ellipse cx="928.6" cy="192" rx="7" ry="11.1" transform="rotate(27 928.6 192)" fill="#0d0d0d" stroke="#a4a4a4" stroke-width="1.2"/><ellipse cx="929.8" cy="192.3" rx="4.2" ry="7.5" transform="rotate(27 929.8 192.3)" fill="#0d0d0d" stroke="#a4a4a4" stroke-width="1.2"/><polyline points="931.8,186.8 927.8,198" fill="none" stroke="#a4a4a4" stroke-width="1.2"/><polygon points="600.7,202.7 578,190 584.1,179.2 606.8,191.9" fill="#0d0d0d" stroke="#a4a4a4" stroke-width="1.2" stroke-linejoin="round"/><polyline points="603.7,197.3 581.1,184.6" fill="none" stroke="#a4a4a4" stroke-width="1.2"/><polyline points="602.2,200 579.5,187.3" fill="none" stroke="#a4a4a4" stroke-width="1"/><polyline points="605.2,194.6 582.6,181.9" fill="none" stroke="#a4a4a4" stroke-width="1"/><ellipse cx="581.1" cy="184.6" rx="2.6" ry="6.2" transform="rotate(29.2 581.1 184.6)" fill="#0d0d0d" stroke="#a4a4a4" stroke-width="1.2"/><polygon points="579.7,198.3 603.6,211.6 603.6,254.6 579.7,241.3" fill="#0d0d0d" stroke="#a4a4a4" stroke-width="1.2" stroke-linejoin="round"/><polygon points="603.6,211.6 651.6,184.6 651.6,227.6 603.6,254.6" fill="#0d0d0d" stroke="#a4a4a4" stroke-width="1.2" stroke-linejoin="round"/><polygon points="579.7,198.3 627.8,171.3 651.6,184.6 603.6,211.6" fill="#0d0d0d" stroke="#a4a4a4" stroke-width="1.2" stroke-linejoin="round"/><path d="M617.1,179.3 L617.1,184.7 A10.6,5.9 0 0 0 638.3,184.7 L638.3,179.3 Z" fill="#0d0d0d" stroke="#a4a4a4" stroke-width="1.2"/><ellipse cx="627.7" cy="179.3" rx="10.6" ry="5.9" fill="#0d0d0d" stroke="#a4a4a4" stroke-width="1.2"/><ellipse cx="627.7" cy="179.6" rx="6.6" ry="3.7" fill="#5c5c5c" stroke="#a4a4a4" stroke-width="1.2"/><path d="M593,192.8 L593,198.2 A10.6,5.9 0 0 0 614.2,198.2 L614.2,192.8 Z" fill="#0d0d0d" stroke="#a4a4a4" stroke-width="1.2"/><ellipse cx="603.6" cy="192.8" rx="10.6" ry="5.9" fill="#0d0d0d" stroke="#a4a4a4" stroke-width="1.2"/><ellipse cx="603.6" cy="193.1" rx="6.6" ry="3.7" fill="#5c5c5c" stroke="#a4a4a4" stroke-width="1.2"/><ellipse cx="628.8" cy="210.9" rx="6.4" ry="10.6" transform="rotate(25 628.8 210.9)" fill="#0d0d0d" stroke="#a4a4a4" stroke-width="1.6"/><polygon points="603.6,241.1 699.1,294.4 699.1,307.9 603.6,254.6" fill="#0d0d0d" stroke="#a4a4a4" stroke-width="1.2" stroke-linejoin="round"/><polygon points="699.1,294.4 747.1,267.3 747.1,280.9 699.1,307.9" fill="#0d0d0d" stroke="#a4a4a4" stroke-width="1.2" stroke-linejoin="round"/><polygon points="603.6,241.1 651.6,214.1 747.1,267.3 699.1,294.4" fill="#0d0d0d" stroke="#a4a4a4" stroke-width="1.2" stroke-linejoin="round"/><polygon points="603.6,233.1 699.1,286.4 699.1,294.4 603.6,241.1" fill="#0d0d0d" stroke="#a4a4a4" stroke-width="1.2" stroke-linejoin="round"/><polygon points="603.6,233.1 651.6,206.1 747.1,259.4 699.1,286.4" fill="#0d0d0d"/><polyline points="651.6,206.1 603.6,233.1 699.1,286.4" fill="none" stroke="#a4a4a4" stroke-width="1.2"/><path d="M640.9,214.1 L640.9,219.5 A10.6,5.9 0 0 0 662.1,219.5 L662.1,214.1 Z" fill="#0d0d0d" stroke="#a4a4a4" stroke-width="1.2"/><ellipse cx="651.5" cy="214.1" rx="10.6" ry="5.9" fill="#0d0d0d" stroke="#a4a4a4" stroke-width="1.2"/><path d="M616.9,227.6 L616.9,233 A10.6,5.9 0 0 0 638.1,233 L638.1,227.6 Z" fill="#0d0d0d" stroke="#a4a4a4" stroke-width="1.2"/><ellipse cx="627.5" cy="227.6" rx="10.6" ry="5.9" fill="#0d0d0d" stroke="#a4a4a4" stroke-width="1.2"/><path d="M664.8,227.4 L664.8,232.8 A10.6,5.9 0 0 0 686,232.8 L686,227.4 Z" fill="#0d0d0d" stroke="#a4a4a4" stroke-width="1.2"/><ellipse cx="675.4" cy="227.4" rx="10.6" ry="5.9" fill="#0d0d0d" stroke="#a4a4a4" stroke-width="1.2"/><path d="M640.8,240.9 L640.8,246.3 A10.6,5.9 0 0 0 662,246.3 L662,240.9 Z" fill="#0d0d0d" stroke="#a4a4a4" stroke-width="1.2"/><ellipse cx="651.4" cy="240.9" rx="10.6" ry="5.9" fill="#0d0d0d" stroke="#a4a4a4" stroke-width="1.2"/><path d="M688.7,240.8 L688.7,246.2 A10.6,5.9 0 0 0 709.9,246.2 L709.9,240.8 Z" fill="#0d0d0d" stroke="#a4a4a4" stroke-width="1.2"/><ellipse cx="699.3" cy="240.8" rx="10.6" ry="5.9" fill="#0d0d0d" stroke="#a4a4a4" stroke-width="1.2"/><path d="M664.7,254.3 L664.7,259.7 A10.6,5.9 0 0 0 685.9,259.7 L685.9,254.3 Z" fill="#0d0d0d" stroke="#a4a4a4" stroke-width="1.2"/><ellipse cx="675.3" cy="254.3" rx="10.6" ry="5.9" fill="#0d0d0d" stroke="#a4a4a4" stroke-width="1.2"/><path d="M712.6,254.1 L712.6,259.5 A10.6,5.9 0 0 0 733.8,259.5 L733.8,254.1 Z" fill="#0d0d0d" stroke="#a4a4a4" stroke-width="1.2"/><ellipse cx="723.2" cy="254.1" rx="10.6" ry="5.9" fill="#0d0d0d" stroke="#a4a4a4" stroke-width="1.2"/><path d="M688.5,267.6 L688.5,273 A10.6,5.9 0 0 0 709.7,273 L709.7,267.6 Z" fill="#0d0d0d" stroke="#a4a4a4" stroke-width="1.2"/><ellipse cx="699.1" cy="267.6" rx="10.6" ry="5.9" fill="#0d0d0d" stroke="#a4a4a4" stroke-width="1.2"/><polygon points="699.1,264.9 722.9,278.2 722.9,321.2 699.1,307.9" fill="#0d0d0d" stroke="#a4a4a4" stroke-width="1.2" stroke-linejoin="round"/><polygon points="722.9,278.2 771,251.2 771,294.2 722.9,321.2" fill="#0d0d0d" stroke="#a4a4a4" stroke-width="1.2" stroke-linejoin="round"/><polygon points="699.1,264.9 747.1,237.9 771,251.2 722.9,278.2" fill="#0d0d0d" stroke="#a4a4a4" stroke-width="1.2" stroke-linejoin="round"/><path d="M736.4,245.9 L736.4,251.3 A10.6,5.9 0 0 0 757.6,251.3 L757.6,245.9 Z" fill="#0d0d0d" stroke="#a4a4a4" stroke-width="1.2"/><ellipse cx="747" cy="245.9" rx="10.6" ry="5.9" fill="#0d0d0d" stroke="#a4a4a4" stroke-width="1.2"/><ellipse cx="747" cy="246.2" rx="6.6" ry="3.7" fill="#5c5c5c" stroke="#a4a4a4" stroke-width="1.2"/><path d="M712.4,259.4 L712.4,264.8 A10.6,5.9 0 0 0 733.6,264.8 L733.6,259.4 Z" fill="#0d0d0d" stroke="#a4a4a4" stroke-width="1.2"/><ellipse cx="723" cy="259.4" rx="10.6" ry="5.9" fill="#0d0d0d" stroke="#a4a4a4" stroke-width="1.2"/><ellipse cx="723" cy="259.7" rx="6.6" ry="3.7" fill="#5c5c5c" stroke="#a4a4a4" stroke-width="1.2"/><polygon points="743.9,283.1 770.2,297.7 776.2,286.9 750,272.3" fill="#0d0d0d" stroke="#a4a4a4" stroke-width="1.2" stroke-linejoin="round"/><polyline points="747,277.7 773.2,292.3" fill="none" stroke="#a4a4a4" stroke-width="1.2"/><polyline points="745.4,280.4 771.7,295" fill="none" stroke="#a4a4a4" stroke-width="1"/><polyline points="748.5,275 774.7,289.6" fill="none" stroke="#a4a4a4" stroke-width="1"/><ellipse cx="773.2" cy="292.3" rx="2.6" ry="6.2" transform="rotate(29.2 773.2 292.3)" fill="#0d0d0d" stroke="#a4a4a4" stroke-width="1.2"/>
<path d="M965,360 L1039,360 L1039,423 Q1002,411.6 965,423 Z" fill="#ec060e"/><text x="1002.7" y="409.5" font-size="29.5" font-weight="bold" fill="#fff5ea" text-anchor="middle" textLength="31" lengthAdjust="spacingAndGlyphs">02</text>
<rect x="41.3" y="427" width="365.7" height="170.2" rx="8" fill="#fff9c6" stroke="none" stroke-width="0"/><path d="M49.3,427 L97.3,427 L97.3,468 Q97.3,476.5 88.3,476.5 L41.3,476.5 Z" fill="#f7c12d"/><path d="M41.3,435 Q41.3,427 49.3,427 L41.3,476.5 Z" fill="#f7c12d"/><rect x="41.3" y="434.5" width="9" height="42" fill="#f7c12d"/><text x="69" y="464" font-size="30.5" font-weight="bold" fill="#2a1a1c" text-anchor="middle">2</text>
<polygon points="49.3,526.6 96.5,551.4 96.5,559.7 49.3,534.9" fill="#0d0d0d" stroke="#a4a4a4" stroke-width="1.2" stroke-linejoin="round"/><polygon points="96.5,551.4 239,471.3 239,479.6 96.5,559.7" fill="#0d0d0d" stroke="#a4a4a4" stroke-width="1.2" stroke-linejoin="round"/><polygon points="49.3,526.6 191.8,446.5 239,471.3 96.5,551.4" fill="#0d0d0d" stroke="#a4a4a4" stroke-width="1.2" stroke-linejoin="round"/><path d="M181.1,454 L181.1,459.4 A10.6,5.9 0 0 0 202.3,459.4 L202.3,454 Z" fill="#0d0d0d" stroke="#a4a4a4" stroke-width="1.2"/><ellipse cx="191.7" cy="454" rx="10.6" ry="5.9" fill="#0d0d0d" stroke="#a4a4a4" stroke-width="1.2"/><path d="M157.4,467.3 L157.4,472.7 A10.6,5.9 0 0 0 178.6,472.7 L178.6,467.3 Z" fill="#0d0d0d" stroke="#a4a4a4" stroke-width="1.2"/><ellipse cx="168" cy="467.3" rx="10.6" ry="5.9" fill="#0d0d0d" stroke="#a4a4a4" stroke-width="1.2"/><path d="M204.7,466.4 L204.7,471.8 A10.6,5.9 0 0 0 225.9,471.8 L225.9,466.4 Z" fill="#0d0d0d" stroke="#a4a4a4" stroke-width="1.2"/><ellipse cx="215.3" cy="466.4" rx="10.6" ry="5.9" fill="#0d0d0d" stroke="#a4a4a4" stroke-width="1.2"/><path d="M133.6,480.7 L133.6,486.1 A10.6,5.9 0 0 0 154.8,486.1 L154.8,480.7 Z" fill="#0d0d0d" stroke="#a4a4a4" stroke-width="1.2"/><ellipse cx="144.2" cy="480.7" rx="10.6" ry="5.9" fill="#0d0d0d" stroke="#a4a4a4" stroke-width="1.2"/><ellipse cx="144.2" cy="481" rx="6.6" ry="3.7" fill="#6a6a6a" stroke="#a4a4a4" stroke-width="1.2"/><path d="M181,479.7 L181,485.1 A10.6,5.9 0 0 0 202.2,485.1 L202.2,479.7 Z" fill="#0d0d0d" stroke="#a4a4a4" stroke-width="1.2"/><ellipse cx="191.6" cy="479.7" rx="10.6" ry="5.9" fill="#0d0d0d" stroke="#a4a4a4" stroke-width="1.2"/><path d="M109.9,494 L109.9,499.4 A10.6,5.9 0 0 0 131.1,499.4 L131.1,494 Z" fill="#0d0d0d" stroke="#a4a4a4" stroke-width="1.2"/><ellipse cx="120.5" cy="494" rx="10.6" ry="5.9" fill="#0d0d0d" stroke="#a4a4a4" stroke-width="1.2"/><ellipse cx="120.5" cy="494.3" rx="6.6" ry="3.7" fill="#6a6a6a" stroke="#a4a4a4" stroke-width="1.2"/><path d="M157.2,493.1 L157.2,498.5 A10.6,5.9 0 0 0 178.4,498.5 L178.4,493.1 Z" fill="#0d0d0d" stroke="#a4a4a4" stroke-width="1.2"/><ellipse cx="167.8" cy="493.1" rx="10.6" ry="5.9" fill="#0d0d0d" stroke="#a4a4a4" stroke-width="1.2"/><ellipse cx="167.8" cy="493.4" rx="6.6" ry="3.7" fill="#6a6a6a" stroke="#a4a4a4" stroke-width="1.2"/><path d="M86.1,507.4 L86.1,512.8 A10.6,5.9 0 0 0 107.3,512.8 L107.3,507.4 Z" fill="#0d0d0d" stroke="#a4a4a4" stroke-width="1.2"/><ellipse cx="96.7" cy="507.4" rx="10.6" ry="5.9" fill="#0d0d0d" stroke="#a4a4a4" stroke-width="1.2"/><path d="M133.5,506.4 L133.5,511.8 A10.6,5.9 0 0 0 154.7,511.8 L154.7,506.4 Z" fill="#0d0d0d" stroke="#a4a4a4" stroke-width="1.2"/><ellipse cx="144.1" cy="506.4" rx="10.6" ry="5.9" fill="#0d0d0d" stroke="#a4a4a4" stroke-width="1.2"/><ellipse cx="144.1" cy="506.7" rx="6.6" ry="3.7" fill="#6a6a6a" stroke="#a4a4a4" stroke-width="1.2"/><path d="M62.4,520.7 L62.4,526.1 A10.6,5.9 0 0 0 83.6,526.1 L83.6,520.7 Z" fill="#0d0d0d" stroke="#a4a4a4" stroke-width="1.2"/><ellipse cx="73" cy="520.7" rx="10.6" ry="5.9" fill="#0d0d0d" stroke="#a4a4a4" stroke-width="1.2"/><path d="M109.7,519.8 L109.7,525.2 A10.6,5.9 0 0 0 130.9,525.2 L130.9,519.8 Z" fill="#0d0d0d" stroke="#a4a4a4" stroke-width="1.2"/><ellipse cx="120.3" cy="519.8" rx="10.6" ry="5.9" fill="#0d0d0d" stroke="#a4a4a4" stroke-width="1.2"/><path d="M86,533.1 L86,538.5 A10.6,5.9 0 0 0 107.2,538.5 L107.2,533.1 Z" fill="#0d0d0d" stroke="#a4a4a4" stroke-width="1.2"/><ellipse cx="96.6" cy="533.1" rx="10.6" ry="5.9" fill="#0d0d0d" stroke="#a4a4a4" stroke-width="1.2"/>
<polygon points="147.3,545 170.9,557.4 170.9,566 147.3,553.6" fill="#0d0d0d" stroke="#a4a4a4" stroke-width="1.2" stroke-linejoin="round"/><polygon points="170.9,557.4 313.4,477.3 313.4,485.9 170.9,566" fill="#0d0d0d" stroke="#a4a4a4" stroke-width="1.2" stroke-linejoin="round"/><polygon points="147.3,545 289.8,464.9 313.4,477.3 170.9,557.4" fill="#0d0d0d" stroke="#a4a4a4" stroke-width="1.2" stroke-linejoin="round"/><path d="M279.1,472.4 L279.1,477.8 A10.6,5.9 0 0 0 300.3,477.8 L300.3,472.4 Z" fill="#0d0d0d" stroke="#a4a4a4" stroke-width="1.2"/><ellipse cx="289.7" cy="472.4" rx="10.6" ry="5.9" fill="#0d0d0d" stroke="#a4a4a4" stroke-width="1.2"/><path d="M255.4,485.7 L255.4,491.1 A10.6,5.9 0 0 0 276.6,491.1 L276.6,485.7 Z" fill="#0d0d0d" stroke="#a4a4a4" stroke-width="1.2"/><ellipse cx="266" cy="485.7" rx="10.6" ry="5.9" fill="#0d0d0d" stroke="#a4a4a4" stroke-width="1.2"/><path d="M231.6,499.1 L231.6,504.5 A10.6,5.9 0 0 0 252.8,504.5 L252.8,499.1 Z" fill="#0d0d0d" stroke="#a4a4a4" stroke-width="1.2"/><ellipse cx="242.2" cy="499.1" rx="10.6" ry="5.9" fill="#0d0d0d" stroke="#a4a4a4" stroke-width="1.2"/><path d="M207.9,512.4 L207.9,517.8 A10.6,5.9 0 0 0 229.1,517.8 L229.1,512.4 Z" fill="#0d0d0d" stroke="#a4a4a4" stroke-width="1.2"/><ellipse cx="218.5" cy="512.4" rx="10.6" ry="5.9" fill="#0d0d0d" stroke="#a4a4a4" stroke-width="1.2"/><path d="M184.1,525.8 L184.1,531.2 A10.6,5.9 0 0 0 205.3,531.2 L205.3,525.8 Z" fill="#0d0d0d" stroke="#a4a4a4" stroke-width="1.2"/><ellipse cx="194.7" cy="525.8" rx="10.6" ry="5.9" fill="#0d0d0d" stroke="#a4a4a4" stroke-width="1.2"/><path d="M160.4,539.1 L160.4,544.5 A10.6,5.9 0 0 0 181.6,544.5 L181.6,539.1 Z" fill="#0d0d0d" stroke="#a4a4a4" stroke-width="1.2"/><ellipse cx="171" cy="539.1" rx="10.6" ry="5.9" fill="#0d0d0d" stroke="#a4a4a4" stroke-width="1.2"/>
<polygon points="232.6,545.8 256.2,558.2 256.2,567 232.6,554.6" fill="#d5652f" stroke="#3a1a0a" stroke-width="0.9" stroke-linejoin="round"/><polygon points="256.2,558.2 351.2,504.8 351.2,513.6 256.2,567" fill="#b3481c" stroke="#3a1a0a" stroke-width="0.9" stroke-linejoin="round"/><polygon points="232.6,545.8 327.6,492.4 351.2,504.8 256.2,558.2" fill="#c95a29" stroke="#3a1a0a" stroke-width="0.9" stroke-linejoin="round"/><path d="M316.9,499.9 L316.9,505.3 A10.6,5.9 0 0 0 338.1,505.3 L338.1,499.9 Z" fill="#111" stroke="#3a1a0a" stroke-width="0.9"/><ellipse cx="327.5" cy="499.9" rx="10.6" ry="5.9" fill="#c95a29" stroke="#3a1a0a" stroke-width="0.9"/><path d="M293.2,513.2 L293.2,518.6 A10.6,5.9 0 0 0 314.4,518.6 L314.4,513.2 Z" fill="#111" stroke="#3a1a0a" stroke-width="0.9"/><ellipse cx="303.8" cy="513.2" rx="10.6" ry="5.9" fill="#c95a29" stroke="#3a1a0a" stroke-width="0.9"/><path d="M269.4,526.6 L269.4,532 A10.6,5.9 0 0 0 290.6,532 L290.6,526.6 Z" fill="#111" stroke="#3a1a0a" stroke-width="0.9"/><ellipse cx="280" cy="526.6" rx="10.6" ry="5.9" fill="#c95a29" stroke="#3a1a0a" stroke-width="0.9"/><path d="M245.7,539.9 L245.7,545.3 A10.6,5.9 0 0 0 266.9,545.3 L266.9,539.9 Z" fill="#111" stroke="#3a1a0a" stroke-width="0.9"/><ellipse cx="256.3" cy="539.9" rx="10.6" ry="5.9" fill="#c95a29" stroke="#3a1a0a" stroke-width="0.9"/>
<polygon points="321.5,542.4 345.1,554.8 345.1,563.1 321.5,550.7" fill="#0d0d0d" stroke="#a4a4a4" stroke-width="1.2" stroke-linejoin="round"/><polygon points="345.1,554.8 392.6,528.1 392.6,536.4 345.1,563.1" fill="#0d0d0d" stroke="#a4a4a4" stroke-width="1.2" stroke-linejoin="round"/><polygon points="321.5,542.4 369,515.7 392.6,528.1 345.1,554.8" fill="#0d0d0d" stroke="#a4a4a4" stroke-width="1.2" stroke-linejoin="round"/><path d="M358.3,523.2 L358.3,528.6 A10.6,5.9 0 0 0 379.5,528.6 L379.5,523.2 Z" fill="#0d0d0d" stroke="#a4a4a4" stroke-width="1.2"/><ellipse cx="368.9" cy="523.2" rx="10.6" ry="5.9" fill="#0d0d0d" stroke="#a4a4a4" stroke-width="1.2"/><path d="M334.6,536.5 L334.6,541.9 A10.6,5.9 0 0 0 355.8,541.9 L355.8,536.5 Z" fill="#0d0d0d" stroke="#a4a4a4" stroke-width="1.2"/><ellipse cx="345.2" cy="536.5" rx="10.6" ry="5.9" fill="#0d0d0d" stroke="#a4a4a4" stroke-width="1.2"/>
<text x="80" y="589.2" font-size="16.9" font-weight="bold" fill="#3a3a3a" text-anchor="start">X1</text>
<text x="168.5" y="589.2" font-size="16.9" font-weight="bold" fill="#3a3a3a" text-anchor="start">X1</text>
<text x="251.5" y="589.2" font-size="16.9" font-weight="bold" fill="#3a3a3a" text-anchor="start">X1</text>
<text x="341" y="589.2" font-size="16.9" font-weight="bold" fill="#3a3a3a" text-anchor="start">X1</text>
<rect x="691.5" y="624" width="208.3" height="129" rx="11" fill="none" stroke="#7c7c7c" stroke-width="1.4"/>
<polygon points="704.9,711 752.1,735.8 752.1,744.1 704.9,719.3" fill="#0d0d0d" stroke="#a4a4a4" stroke-width="1.2" stroke-linejoin="round"/><polygon points="752.1,735.8 894.6,655.7 894.6,664 752.1,744.1" fill="#0d0d0d" stroke="#a4a4a4" stroke-width="1.2" stroke-linejoin="round"/><polygon points="704.9,711 847.4,630.9 894.6,655.7 752.1,735.8" fill="#0d0d0d" stroke="#a4a4a4" stroke-width="1.2" stroke-linejoin="round"/><path d="M836.7,638.4 L836.7,643.8 A10.6,5.9 0 0 0 857.9,643.8 L857.9,638.4 Z" fill="#0d0d0d" stroke="#a4a4a4" stroke-width="1.2"/><ellipse cx="847.3" cy="638.4" rx="10.6" ry="5.9" fill="#0d0d0d" stroke="#a4a4a4" stroke-width="1.2"/><path d="M813,651.7 L813,657.1 A10.6,5.9 0 0 0 834.2,657.1 L834.2,651.7 Z" fill="#0d0d0d" stroke="#a4a4a4" stroke-width="1.2"/><ellipse cx="823.6" cy="651.7" rx="10.6" ry="5.9" fill="#0d0d0d" stroke="#a4a4a4" stroke-width="1.2"/><path d="M860.3,650.8 L860.3,656.2 A10.6,5.9 0 0 0 881.5,656.2 L881.5,650.8 Z" fill="#0d0d0d" stroke="#a4a4a4" stroke-width="1.2"/><ellipse cx="870.9" cy="650.8" rx="10.6" ry="5.9" fill="#0d0d0d" stroke="#a4a4a4" stroke-width="1.2"/><path d="M789.2,665.1 L789.2,670.5 A10.6,5.9 0 0 0 810.4,670.5 L810.4,665.1 Z" fill="#0d0d0d" stroke="#a4a4a4" stroke-width="1.2"/><ellipse cx="799.8" cy="665.1" rx="10.6" ry="5.9" fill="#0d0d0d" stroke="#a4a4a4" stroke-width="1.2"/><ellipse cx="799.8" cy="665.4" rx="6.6" ry="3.7" fill="#6a6a6a" stroke="#a4a4a4" stroke-width="1.2"/><path d="M836.6,664.1 L836.6,669.5 A10.6,5.9 0 0 0 857.8,669.5 L857.8,664.1 Z" fill="#0d0d0d" stroke="#a4a4a4" stroke-width="1.2"/><ellipse cx="847.2" cy="664.1" rx="10.6" ry="5.9" fill="#0d0d0d" stroke="#a4a4a4" stroke-width="1.2"/><path d="M765.5,678.4 L765.5,683.8 A10.6,5.9 0 0 0 786.7,683.8 L786.7,678.4 Z" fill="#0d0d0d" stroke="#a4a4a4" stroke-width="1.2"/><ellipse cx="776.1" cy="678.4" rx="10.6" ry="5.9" fill="#0d0d0d" stroke="#a4a4a4" stroke-width="1.2"/><ellipse cx="776.1" cy="678.7" rx="6.6" ry="3.7" fill="#6a6a6a" stroke="#a4a4a4" stroke-width="1.2"/><path d="M812.8,677.5 L812.8,682.9 A10.6,5.9 0 0 0 834,682.9 L834,677.5 Z" fill="#0d0d0d" stroke="#a4a4a4" stroke-width="1.2"/><ellipse cx="823.4" cy="677.5" rx="10.6" ry="5.9" fill="#0d0d0d" stroke="#a4a4a4" stroke-width="1.2"/><ellipse cx="823.4" cy="677.8" rx="6.6" ry="3.7" fill="#6a6a6a" stroke="#a4a4a4" stroke-width="1.2"/><path d="M741.7,691.8 L741.7,697.2 A10.6,5.9 0 0 0 762.9,697.2 L762.9,691.8 Z" fill="#0d0d0d" stroke="#a4a4a4" stroke-width="1.2"/><ellipse cx="752.3" cy="691.8" rx="10.6" ry="5.9" fill="#0d0d0d" stroke="#a4a4a4" stroke-width="1.2"/><path d="M789.1,690.8 L789.1,696.2 A10.6,5.9 0 0 0 810.3,696.2 L810.3,690.8 Z" fill="#0d0d0d" stroke="#a4a4a4" stroke-width="1.2"/><ellipse cx="799.7" cy="690.8" rx="10.6" ry="5.9" fill="#0d0d0d" stroke="#a4a4a4" stroke-width="1.2"/><ellipse cx="799.7" cy="691.1" rx="6.6" ry="3.7" fill="#6a6a6a" stroke="#a4a4a4" stroke-width="1.2"/><path d="M718,705.1 L718,710.5 A10.6,5.9 0 0 0 739.2,710.5 L739.2,705.1 Z" fill="#0d0d0d" stroke="#a4a4a4" stroke-width="1.2"/><ellipse cx="728.6" cy="705.1" rx="10.6" ry="5.9" fill="#0d0d0d" stroke="#a4a4a4" stroke-width="1.2"/><path d="M765.3,704.2 L765.3,709.6 A10.6,5.9 0 0 0 786.5,709.6 L786.5,704.2 Z" fill="#0d0d0d" stroke="#a4a4a4" stroke-width="1.2"/><ellipse cx="775.9" cy="704.2" rx="10.6" ry="5.9" fill="#0d0d0d" stroke="#a4a4a4" stroke-width="1.2"/><path d="M741.6,717.5 L741.6,722.9 A10.6,5.9 0 0 0 762.8,722.9 L762.8,717.5 Z" fill="#0d0d0d" stroke="#a4a4a4" stroke-width="1.2"/><ellipse cx="752.2" cy="717.5" rx="10.6" ry="5.9" fill="#0d0d0d" stroke="#a4a4a4" stroke-width="1.2"/>
<polygon points="638,1000.1 644.8,1003.9 644.8,1031.9 638,1028.1" fill="#fcfbde" stroke="#c6c4a6" stroke-width="1.2" stroke-linejoin="round"/><polygon points="644.8,1003.9 786.7,924 786.7,952 644.8,1031.9" fill="#fbfada" stroke="#c6c4a6" stroke-width="1.2" stroke-linejoin="round"/><polygon points="638,1000.1 780,920.2 786.7,924 644.8,1003.9" fill="#fcfbde" stroke="#c6c4a6" stroke-width="1.2" stroke-linejoin="round"/><polygon points="858.2,888.4 835.4,875.3 841.5,864.6 864.4,877.6" fill="#fcfbde" stroke="#c6c4a6" stroke-width="1.2" stroke-linejoin="round"/><polyline points="861.3,883 838.5,869.9" fill="none" stroke="#c6c4a6" stroke-width="1.2"/><polyline points="859.8,885.7 836.9,872.6" fill="none" stroke="#c6c4a6" stroke-width="1"/><polyline points="862.9,880.3 840,867.2" fill="none" stroke="#c6c4a6" stroke-width="1"/><ellipse cx="838.5" cy="869.9" rx="2.6" ry="6.2" transform="rotate(29.8 838.5 869.9)" fill="#fcfbde" stroke="#c6c4a6" stroke-width="1.2"/><polygon points="837.3,883.5 861.3,897.3 861.3,942.1 837.3,928.3" fill="#fcfbde" stroke="#c6c4a6" stroke-width="1.2" stroke-linejoin="round"/><polygon points="861.3,897.3 909.4,870.2 909.4,915 861.3,942.1" fill="#fbfada" stroke="#c6c4a6" stroke-width="1.2" stroke-linejoin="round"/><polygon points="837.3,883.5 885.4,856.4 909.4,870.2 861.3,897.3" fill="#fcfbde" stroke="#c6c4a6" stroke-width="1.2" stroke-linejoin="round"/><path d="M874.8,864.7 L874.8,870.1 A10.6,5.9 0 0 0 896,870.1 L896,864.7 Z" fill="#fcfbde" stroke="#c6c4a6" stroke-width="1.2"/><ellipse cx="885.4" cy="864.7" rx="10.6" ry="5.9" fill="#fcfbde" stroke="#c6c4a6" stroke-width="1.2"/><ellipse cx="885.4" cy="865" rx="6.6" ry="3.7" fill="#ecebd2" stroke="#c6c4a6" stroke-width="1.2"/><path d="M850.7,878.2 L850.7,883.6 A10.6,5.9 0 0 0 871.9,883.6 L871.9,878.2 Z" fill="#fcfbde" stroke="#c6c4a6" stroke-width="1.2"/><ellipse cx="861.3" cy="878.2" rx="10.6" ry="5.9" fill="#fcfbde" stroke="#c6c4a6" stroke-width="1.2"/><ellipse cx="861.3" cy="878.5" rx="6.6" ry="3.7" fill="#ecebd2" stroke="#c6c4a6" stroke-width="1.2"/><ellipse cx="886.6" cy="897.1" rx="6.4" ry="10.6" transform="rotate(25 886.6 897.1)" fill="#fcfbde" stroke="#c6c4a6" stroke-width="1.6"/><polygon points="861.3,928 957.5,983 957.5,997.1 861.3,942.1" fill="#fcfbde" stroke="#c6c4a6" stroke-width="1.2" stroke-linejoin="round"/><polygon points="957.5,983 1005.6,955.9 1005.6,970 957.5,997.1" fill="#fbfada" stroke="#c6c4a6" stroke-width="1.2" stroke-linejoin="round"/><polygon points="861.3,928 909.4,900.9 1005.6,955.9 957.5,983" fill="#fcfbde" stroke="#c6c4a6" stroke-width="1.2" stroke-linejoin="round"/><path d="M898.8,909.1 L898.8,914.5 A10.6,5.9 0 0 0 920,914.5 L920,909.1 Z" fill="#fcfbde" stroke="#c6c4a6" stroke-width="1.2"/><ellipse cx="909.4" cy="909.1" rx="10.6" ry="5.9" fill="#fcfbde" stroke="#c6c4a6" stroke-width="1.2"/><path d="M922.9,922.9 L922.9,928.3 A10.6,5.9 0 0 0 944.1,928.3 L944.1,922.9 Z" fill="#fcfbde" stroke="#c6c4a6" stroke-width="1.2"/><ellipse cx="933.5" cy="922.9" rx="10.6" ry="5.9" fill="#fcfbde" stroke="#c6c4a6" stroke-width="1.2"/><path d="M946.9,936.6 L946.9,942 A10.6,5.9 0 0 0 968.1,942 L968.1,936.6 Z" fill="#fcfbde" stroke="#c6c4a6" stroke-width="1.2"/><ellipse cx="957.5" cy="936.6" rx="10.6" ry="5.9" fill="#fcfbde" stroke="#c6c4a6" stroke-width="1.2"/><path d="M971,950.4 L971,955.8 A10.6,5.9 0 0 0 992.2,955.8 L992.2,950.4 Z" fill="#fcfbde" stroke="#c6c4a6" stroke-width="1.2"/><ellipse cx="981.6" cy="950.4" rx="10.6" ry="5.9" fill="#fcfbde" stroke="#c6c4a6" stroke-width="1.2"/><polygon points="813.2,931.6 837.3,918 861.3,931.8 837.2,945.3" fill="#fcfbde"/><polygon points="837.2,931.3 933.5,986.3 933.5,994.6 837.2,939.6" fill="#fcfbde" stroke="#c6c4a6" stroke-width="1.2" stroke-linejoin="round"/><polygon points="933.5,986.3 981.6,959.2 981.6,967.5 933.5,994.6" fill="#fbfada" stroke="#c6c4a6" stroke-width="1.2" stroke-linejoin="round"/><polygon points="837.2,931.3 885.4,904.2 981.6,959.2 933.5,986.3" fill="#fcfbde" stroke="#c6c4a6" stroke-width="1.2" stroke-linejoin="round"/><polygon points="765.1,944.7 909.4,1027.2 909.4,1042.2 765.1,959.7" fill="#fcfbde" stroke="#c6c4a6" stroke-width="1.2" stroke-linejoin="round"/><polygon points="909.4,1027.2 957.5,1000.1 957.5,1015.1 909.4,1042.2" fill="#fbfada" stroke="#c6c4a6" stroke-width="1.2" stroke-linejoin="round"/><polygon points="765.1,944.7 813.2,917.6 957.5,1000.1 909.4,1027.2" fill="#fcfbde" stroke="#c6c4a6" stroke-width="1.2" stroke-linejoin="round"/><ellipse cx="837.3" cy="924.7" rx="9.6" ry="5.2" fill="#0c0c0c"/><path d="M834.1,929.3 l3.2,5 l3.2,-5 Z" fill="#333"/><path d="M874.8,912.5 L874.8,917.9 A10.6,5.9 0 0 0 896,917.9 L896,912.5 Z" fill="#fcfbde" stroke="#c6c4a6" stroke-width="1.2"/><ellipse cx="885.4" cy="912.5" rx="10.6" ry="5.9" fill="#fcfbde" stroke="#c6c4a6" stroke-width="1.2"/><path d="M802.6,925.8 L802.6,931.2 A10.6,5.9 0 0 0 823.8,931.2 L823.8,925.8 Z" fill="#fcfbde" stroke="#c6c4a6" stroke-width="1.2"/><ellipse cx="813.2" cy="925.8" rx="10.6" ry="5.9" fill="#fcfbde" stroke="#c6c4a6" stroke-width="1.2"/><path d="M850.7,926 L850.7,931.4 A10.6,5.9 0 0 0 871.9,931.4 L871.9,926 Z" fill="#fcfbde" stroke="#c6c4a6" stroke-width="1.2"/><ellipse cx="861.3" cy="926" rx="10.6" ry="5.9" fill="#fcfbde" stroke="#c6c4a6" stroke-width="1.2"/><path d="M898.8,926.2 L898.8,931.6 A10.6,5.9 0 0 0 920,931.6 L920,926.2 Z" fill="#fcfbde" stroke="#c6c4a6" stroke-width="1.2"/><ellipse cx="909.4" cy="926.2" rx="10.6" ry="5.9" fill="#fcfbde" stroke="#c6c4a6" stroke-width="1.2"/><path d="M826.6,939.6 L826.6,945 A10.6,5.9 0 0 0 847.8,945 L847.8,939.6 Z" fill="#fcfbde" stroke="#c6c4a6" stroke-width="1.2"/><ellipse cx="837.2" cy="939.6" rx="10.6" ry="5.9" fill="#fcfbde" stroke="#c6c4a6" stroke-width="1.2"/><path d="M874.8,939.8 L874.8,945.2 A10.6,5.9 0 0 0 896,945.2 L896,939.8 Z" fill="#fcfbde" stroke="#c6c4a6" stroke-width="1.2"/><ellipse cx="885.4" cy="939.8" rx="10.6" ry="5.9" fill="#fcfbde" stroke="#c6c4a6" stroke-width="1.2"/><path d="M922.9,940 L922.9,945.4 A10.6,5.9 0 0 0 944.1,945.4 L944.1,940 Z" fill="#fcfbde" stroke="#c6c4a6" stroke-width="1.2"/><ellipse cx="933.5" cy="940" rx="10.6" ry="5.9" fill="#fcfbde" stroke="#c6c4a6" stroke-width="1.2"/><path d="M850.7,953.3 L850.7,958.7 A10.6,5.9 0 0 0 871.9,958.7 L871.9,953.3 Z" fill="#fcfbde" stroke="#c6c4a6" stroke-width="1.2"/><ellipse cx="861.3" cy="953.3" rx="10.6" ry="5.9" fill="#fcfbde" stroke="#c6c4a6" stroke-width="1.2"/><path d="M898.8,953.5 L898.8,958.9 A10.6,5.9 0 0 0 920,958.9 L920,953.5 Z" fill="#fcfbde" stroke="#c6c4a6" stroke-width="1.2"/><ellipse cx="909.4" cy="953.5" rx="10.6" ry="5.9" fill="#fcfbde" stroke="#c6c4a6" stroke-width="1.2"/><path d="M946.9,953.7 L946.9,959.1 A10.6,5.9 0 0 0 968.1,959.1 L968.1,953.7 Z" fill="#fcfbde" stroke="#c6c4a6" stroke-width="1.2"/><ellipse cx="957.5" cy="953.7" rx="10.6" ry="5.9" fill="#fcfbde" stroke="#c6c4a6" stroke-width="1.2"/><path d="M874.7,967.1 L874.7,972.5 A10.6,5.9 0 0 0 895.9,972.5 L895.9,967.1 Z" fill="#fcfbde" stroke="#c6c4a6" stroke-width="1.2"/><ellipse cx="885.3" cy="967.1" rx="10.6" ry="5.9" fill="#fcfbde" stroke="#c6c4a6" stroke-width="1.2"/><path d="M922.9,967.3 L922.9,972.7 A10.6,5.9 0 0 0 944.1,972.7 L944.1,967.3 Z" fill="#fcfbde" stroke="#c6c4a6" stroke-width="1.2"/><ellipse cx="933.5" cy="967.3" rx="10.6" ry="5.9" fill="#fcfbde" stroke="#c6c4a6" stroke-width="1.2"/><path d="M898.8,980.8 L898.8,986.2 A10.6,5.9 0 0 0 920,986.2 L920,980.8 Z" fill="#fcfbde" stroke="#c6c4a6" stroke-width="1.2"/><ellipse cx="909.4" cy="980.8" rx="10.6" ry="5.9" fill="#fcfbde" stroke="#c6c4a6" stroke-width="1.2"/><path d="M922.8,994.6 L922.8,1000 A10.6,5.9 0 0 0 944,1000 L944,994.6 Z" fill="#fcfbde" stroke="#c6c4a6" stroke-width="1.2"/><ellipse cx="933.4" cy="994.6" rx="10.6" ry="5.9" fill="#fcfbde" stroke="#c6c4a6" stroke-width="1.2"/><polygon points="765.1,936.4 909.4,1018.9 909.4,1027.2 765.1,944.7" fill="#0d0d0d" stroke="#a4a4a4" stroke-width="1.2" stroke-linejoin="round"/><polygon points="909.4,1018.9 933.4,1005.3 933.4,1013.6 909.4,1027.2" fill="#0d0d0d" stroke="#a4a4a4" stroke-width="1.2" stroke-linejoin="round"/><polygon points="765.1,936.4 789.1,922.8 933.4,1005.3 909.4,1018.9" fill="#0d0d0d" stroke="#a4a4a4" stroke-width="1.2" stroke-linejoin="round"/><path d="M778.5,931.1 L778.5,936.5 A10.6,5.9 0 0 0 799.7,936.5 L799.7,931.1 Z" fill="#0d0d0d" stroke="#a4a4a4" stroke-width="1.2"/><ellipse cx="789.1" cy="931.1" rx="10.6" ry="5.9" fill="#0d0d0d" stroke="#a4a4a4" stroke-width="1.2"/><path d="M802.6,944.9 L802.6,950.2 A10.6,5.9 0 0 0 823.8,950.2 L823.8,944.9 Z" fill="#0d0d0d" stroke="#a4a4a4" stroke-width="1.2"/><ellipse cx="813.2" cy="944.9" rx="10.6" ry="5.9" fill="#0d0d0d" stroke="#a4a4a4" stroke-width="1.2"/><path d="M826.6,958.6 L826.6,964 A10.6,5.9 0 0 0 847.8,964 L847.8,958.6 Z" fill="#0d0d0d" stroke="#a4a4a4" stroke-width="1.2"/><ellipse cx="837.2" cy="958.6" rx="10.6" ry="5.9" fill="#0d0d0d" stroke="#a4a4a4" stroke-width="1.2"/><path d="M850.7,972.4 L850.7,977.8 A10.6,5.9 0 0 0 871.9,977.8 L871.9,972.4 Z" fill="#0d0d0d" stroke="#a4a4a4" stroke-width="1.2"/><ellipse cx="861.3" cy="972.4" rx="10.6" ry="5.9" fill="#0d0d0d" stroke="#a4a4a4" stroke-width="1.2"/><path d="M874.7,986.1 L874.7,991.5 A10.6,5.9 0 0 0 895.9,991.5 L895.9,986.1 Z" fill="#0d0d0d" stroke="#a4a4a4" stroke-width="1.2"/><ellipse cx="885.3" cy="986.1" rx="10.6" ry="5.9" fill="#0d0d0d" stroke="#a4a4a4" stroke-width="1.2"/><path d="M898.8,999.9 L898.8,1005.2 A10.6,5.9 0 0 0 920,1005.2 L920,999.9 Z" fill="#0d0d0d" stroke="#a4a4a4" stroke-width="1.2"/><ellipse cx="909.4" cy="999.9" rx="10.6" ry="5.9" fill="#0d0d0d" stroke="#a4a4a4" stroke-width="1.2"/><polygon points="957.5,952.3 981.6,966 981.6,1010.8 957.5,997.1" fill="#fcfbde" stroke="#c6c4a6" stroke-width="1.2" stroke-linejoin="round"/><polygon points="981.6,966 1029.7,938.9 1029.7,983.7 981.6,1010.8" fill="#fbfada" stroke="#c6c4a6" stroke-width="1.2" stroke-linejoin="round"/><polygon points="957.5,952.3 1005.6,925.2 1029.7,938.9 981.6,966" fill="#fcfbde" stroke="#c6c4a6" stroke-width="1.2" stroke-linejoin="round"/><path d="M995,933.4 L995,938.8 A10.6,5.9 0 0 0 1016.2,938.8 L1016.2,933.4 Z" fill="#fcfbde" stroke="#c6c4a6" stroke-width="1.2"/><ellipse cx="1005.6" cy="933.4" rx="10.6" ry="5.9" fill="#fcfbde" stroke="#c6c4a6" stroke-width="1.2"/><ellipse cx="1005.6" cy="933.7" rx="6.6" ry="3.7" fill="#ecebd2" stroke="#c6c4a6" stroke-width="1.2"/><path d="M971,947 L971,952.4 A10.6,5.9 0 0 0 992.2,952.4 L992.2,947 Z" fill="#fcfbde" stroke="#c6c4a6" stroke-width="1.2"/><ellipse cx="981.6" cy="947" rx="10.6" ry="5.9" fill="#fcfbde" stroke="#c6c4a6" stroke-width="1.2"/><ellipse cx="981.6" cy="947.3" rx="6.6" ry="3.7" fill="#ecebd2" stroke="#c6c4a6" stroke-width="1.2"/><polygon points="1002.5,971.4 1029,986.5 1035.2,975.7 1008.7,960.6" fill="#fcfbde" stroke="#c6c4a6" stroke-width="1.2" stroke-linejoin="round"/><polyline points="1005.6,966 1032.1,981.1" fill="none" stroke="#c6c4a6" stroke-width="1.2"/><polyline points="1004.1,968.7 1030.5,983.8" fill="none" stroke="#c6c4a6" stroke-width="1"/><polyline points="1007.2,963.3 1033.6,978.4" fill="none" stroke="#c6c4a6" stroke-width="1"/><ellipse cx="1032.1" cy="981.1" rx="2.6" ry="6.2" transform="rotate(29.8 1032.1 981.1)" fill="#fcfbde" stroke="#c6c4a6" stroke-width="1.2"/><polygon points="933.4,1028.9 981.6,1001.8 981.6,1010.5 933.4,1037.6" fill="#0d0d0d" stroke="#a4a4a4" stroke-width="1.2" stroke-linejoin="round"/><polygon points="933.5,1001.6 957.5,988.1 981.6,1001.8 957.5,1015.4" fill="#0d0d0d" stroke="#a4a4a4" stroke-width="1.2" stroke-linejoin="round"/><path d="M946.9,993.7 L946.9,1001.7 A10.6,5.9 0 0 0 968.1,1001.7 L968.1,993.7 Z" fill="#0d0d0d" stroke="#a4a4a4" stroke-width="1.2"/><ellipse cx="957.5" cy="993.7" rx="10.6" ry="5.9" fill="#0d0d0d" stroke="#a4a4a4" stroke-width="1.2"/><polygon points="933.4,1013.6 957.5,1000.1 957.5,1015.4 933.4,1028.9" fill="#fbfada" stroke="#c6c4a6" stroke-width="1.2" stroke-linejoin="round"/><polygon points="668.8,1012.9 813.1,1095.4 813.1,1103.7 668.8,1021.2" fill="#fcfbde" stroke="#c6c4a6" stroke-width="1.2" stroke-linejoin="round"/><polygon points="813.1,1095.4 909.4,1041.2 909.4,1049.5 813.1,1103.7" fill="#fbfada" stroke="#c6c4a6" stroke-width="1.2" stroke-linejoin="round"/><polygon points="668.8,1012.9 765.1,958.7 909.4,1041.2 813.1,1095.4" fill="#fcfbde" stroke="#c6c4a6" stroke-width="1.2" stroke-linejoin="round"/><ellipse cx="729" cy="1020" rx="10.2" ry="5.7" fill="#fcfbde" stroke="#c6c4a6" stroke-width="1.2"/><ellipse cx="729" cy="1020" rx="7.4" ry="3.9" fill="#ffffff" stroke="#c6c4a6" stroke-width="1"/><ellipse cx="729" cy="1021.9" rx="6.9" ry="3.2" fill="#ecebcf"/><ellipse cx="753" cy="1033.7" rx="10.2" ry="5.7" fill="#fcfbde" stroke="#c6c4a6" stroke-width="1.2"/><ellipse cx="753" cy="1033.7" rx="7.4" ry="3.9" fill="#ffffff" stroke="#c6c4a6" stroke-width="1"/><ellipse cx="753" cy="1035.6" rx="6.9" ry="3.2" fill="#ecebcf"/><ellipse cx="777.1" cy="1047.5" rx="10.2" ry="5.7" fill="#fcfbde" stroke="#c6c4a6" stroke-width="1.2"/><ellipse cx="777.1" cy="1047.5" rx="7.4" ry="3.9" fill="#ffffff" stroke="#c6c4a6" stroke-width="1"/><ellipse cx="777.1" cy="1049.4" rx="6.9" ry="3.2" fill="#ecebcf"/><ellipse cx="801.1" cy="1061.2" rx="10.2" ry="5.7" fill="#fcfbde" stroke="#c6c4a6" stroke-width="1.2"/><ellipse cx="801.1" cy="1061.2" rx="7.4" ry="3.9" fill="#ffffff" stroke="#c6c4a6" stroke-width="1"/><ellipse cx="801.1" cy="1063.1" rx="6.9" ry="3.2" fill="#ecebcf"/><ellipse cx="777.1" cy="992.9" rx="10.2" ry="5.7" fill="#fcfbde" stroke="#c6c4a6" stroke-width="1.2"/><ellipse cx="777.1" cy="992.9" rx="7.4" ry="3.9" fill="#ffffff" stroke="#c6c4a6" stroke-width="1"/><ellipse cx="777.1" cy="994.8" rx="6.9" ry="3.2" fill="#ecebcf"/><ellipse cx="801.1" cy="1006.6" rx="10.2" ry="5.7" fill="#fcfbde" stroke="#c6c4a6" stroke-width="1.2"/><ellipse cx="801.1" cy="1006.6" rx="7.4" ry="3.9" fill="#ffffff" stroke="#c6c4a6" stroke-width="1"/><ellipse cx="801.1" cy="1008.5" rx="6.9" ry="3.2" fill="#ecebcf"/><ellipse cx="825.2" cy="1020.4" rx="10.2" ry="5.7" fill="#fcfbde" stroke="#c6c4a6" stroke-width="1.2"/><ellipse cx="825.2" cy="1020.4" rx="7.4" ry="3.9" fill="#ffffff" stroke="#c6c4a6" stroke-width="1"/><ellipse cx="825.2" cy="1022.3" rx="6.9" ry="3.2" fill="#ecebcf"/><ellipse cx="849.2" cy="1034.1" rx="10.2" ry="5.7" fill="#fcfbde" stroke="#c6c4a6" stroke-width="1.2"/><ellipse cx="849.2" cy="1034.1" rx="7.4" ry="3.9" fill="#ffffff" stroke="#c6c4a6" stroke-width="1"/><ellipse cx="849.2" cy="1036" rx="6.9" ry="3.2" fill="#ecebcf"/><path d="M766.5,973.8 L766.5,979.2 A10.6,5.9 0 0 0 787.7,979.2 L787.7,973.8 Z" fill="#fcfbde" stroke="#c6c4a6" stroke-width="1.2"/><ellipse cx="777.1" cy="973.8" rx="10.6" ry="5.9" fill="#fcfbde" stroke="#c6c4a6" stroke-width="1.2"/><ellipse cx="777.1" cy="974.1" rx="6.6" ry="3.7" fill="#ecebd2" stroke="#c6c4a6" stroke-width="1.2"/><path d="M742.4,987.4 L742.4,992.8 A10.6,5.9 0 0 0 763.6,992.8 L763.6,987.4 Z" fill="#fcfbde" stroke="#c6c4a6" stroke-width="1.2"/><ellipse cx="753" cy="987.4" rx="10.6" ry="5.9" fill="#fcfbde" stroke="#c6c4a6" stroke-width="1.2"/><ellipse cx="753" cy="987.7" rx="6.6" ry="3.7" fill="#ecebd2" stroke="#c6c4a6" stroke-width="1.2"/><path d="M790.5,987.6 L790.5,993 A10.6,5.9 0 0 0 811.8,993 L811.8,987.6 Z" fill="#fcfbde" stroke="#c6c4a6" stroke-width="1.2"/><ellipse cx="801.1" cy="987.6" rx="10.6" ry="5.9" fill="#fcfbde" stroke="#c6c4a6" stroke-width="1.2"/><ellipse cx="801.1" cy="987.9" rx="6.6" ry="3.7" fill="#ecebd2" stroke="#c6c4a6" stroke-width="1.2"/><path d="M718.4,1000.9 L718.4,1006.3 A10.6,5.9 0 0 0 739.6,1006.3 L739.6,1000.9 Z" fill="#fcfbde" stroke="#c6c4a6" stroke-width="1.2"/><ellipse cx="729" cy="1000.9" rx="10.6" ry="5.9" fill="#fcfbde" stroke="#c6c4a6" stroke-width="1.2"/><ellipse cx="729" cy="1001.2" rx="6.6" ry="3.7" fill="#ecebd2" stroke="#c6c4a6" stroke-width="1.2"/><path d="M766.5,1001.1 L766.5,1006.5 A10.6,5.9 0 0 0 787.7,1006.5 L787.7,1001.1 Z" fill="#fcfbde" stroke="#c6c4a6" stroke-width="1.2"/><ellipse cx="777.1" cy="1001.1" rx="10.6" ry="5.9" fill="#fcfbde" stroke="#c6c4a6" stroke-width="1.2"/><ellipse cx="777.1" cy="1001.4" rx="6.6" ry="3.7" fill="#ecebd2" stroke="#c6c4a6" stroke-width="1.2"/><path d="M814.6,1001.3 L814.6,1006.7 A10.6,5.9 0 0 0 835.8,1006.7 L835.8,1001.3 Z" fill="#fcfbde" stroke="#c6c4a6" stroke-width="1.2"/><ellipse cx="825.2" cy="1001.3" rx="10.6" ry="5.9" fill="#fcfbde" stroke="#c6c4a6" stroke-width="1.2"/><ellipse cx="825.2" cy="1001.6" rx="6.6" ry="3.7" fill="#ecebd2" stroke="#c6c4a6" stroke-width="1.2"/><path d="M694.3,1014.5 L694.3,1019.9 A10.6,5.9 0 0 0 715.5,1019.9 L715.5,1014.5 Z" fill="#fcfbde" stroke="#c6c4a6" stroke-width="1.2"/><ellipse cx="704.9" cy="1014.5" rx="10.6" ry="5.9" fill="#fcfbde" stroke="#c6c4a6" stroke-width="1.2"/><ellipse cx="704.9" cy="1014.8" rx="6.6" ry="3.7" fill="#ecebd2" stroke="#c6c4a6" stroke-width="1.2"/><path d="M742.4,1014.7 L742.4,1020.1 A10.6,5.9 0 0 0 763.6,1020.1 L763.6,1014.7 Z" fill="#fcfbde" stroke="#c6c4a6" stroke-width="1.2"/><ellipse cx="753" cy="1014.7" rx="10.6" ry="5.9" fill="#fcfbde" stroke="#c6c4a6" stroke-width="1.2"/><ellipse cx="753" cy="1015" rx="6.6" ry="3.7" fill="#ecebd2" stroke="#c6c4a6" stroke-width="1.2"/><path d="M790.5,1014.9 L790.5,1020.3 A10.6,5.9 0 0 0 811.7,1020.3 L811.7,1014.9 Z" fill="#fcfbde" stroke="#c6c4a6" stroke-width="1.2"/><ellipse cx="801.1" cy="1014.9" rx="10.6" ry="5.9" fill="#fcfbde" stroke="#c6c4a6" stroke-width="1.2"/><ellipse cx="801.1" cy="1015.2" rx="6.6" ry="3.7" fill="#ecebd2" stroke="#c6c4a6" stroke-width="1.2"/><path d="M838.6,1015.1 L838.6,1020.5 A10.6,5.9 0 0 0 859.9,1020.5 L859.9,1015.1 Z" fill="#fcfbde" stroke="#c6c4a6" stroke-width="1.2"/><ellipse cx="849.2" cy="1015.1" rx="10.6" ry="5.9" fill="#fcfbde" stroke="#c6c4a6" stroke-width="1.2"/><ellipse cx="849.2" cy="1015.4" rx="6.6" ry="3.7" fill="#ecebd2" stroke="#c6c4a6" stroke-width="1.2"/><path d="M718.4,1028.2 L718.4,1033.6 A10.6,5.9 0 0 0 739.6,1033.6 L739.6,1028.2 Z" fill="#fcfbde" stroke="#c6c4a6" stroke-width="1.2"/><ellipse cx="729" cy="1028.2" rx="10.6" ry="5.9" fill="#fcfbde" stroke="#c6c4a6" stroke-width="1.2"/><ellipse cx="729" cy="1028.5" rx="6.6" ry="3.7" fill="#ecebd2" stroke="#c6c4a6" stroke-width="1.2"/><path d="M766.5,1028.4 L766.5,1033.8 A10.6,5.9 0 0 0 787.7,1033.8 L787.7,1028.4 Z" fill="#fcfbde" stroke="#c6c4a6" stroke-width="1.2"/><ellipse cx="777.1" cy="1028.4" rx="10.6" ry="5.9" fill="#fcfbde" stroke="#c6c4a6" stroke-width="1.2"/><ellipse cx="777.1" cy="1028.7" rx="6.6" ry="3.7" fill="#ecebd2" stroke="#c6c4a6" stroke-width="1.2"/><path d="M814.6,1028.6 L814.6,1034 A10.6,5.9 0 0 0 835.8,1034 L835.8,1028.6 Z" fill="#fcfbde" stroke="#c6c4a6" stroke-width="1.2"/><ellipse cx="825.2" cy="1028.6" rx="10.6" ry="5.9" fill="#fcfbde" stroke="#c6c4a6" stroke-width="1.2"/><ellipse cx="825.2" cy="1028.9" rx="6.6" ry="3.7" fill="#ecebd2" stroke="#c6c4a6" stroke-width="1.2"/><path d="M862.7,1028.8 L862.7,1034.2 A10.6,5.9 0 0 0 883.9,1034.2 L883.9,1028.8 Z" fill="#fcfbde" stroke="#c6c4a6" stroke-width="1.2"/><ellipse cx="873.3" cy="1028.8" rx="10.6" ry="5.9" fill="#fcfbde" stroke="#c6c4a6" stroke-width="1.2"/><ellipse cx="873.3" cy="1029.1" rx="6.6" ry="3.7" fill="#ecebd2" stroke="#c6c4a6" stroke-width="1.2"/><path d="M742.4,1042 L742.4,1047.4 A10.6,5.9 0 0 0 763.6,1047.4 L763.6,1042 Z" fill="#fcfbde" stroke="#c6c4a6" stroke-width="1.2"/><ellipse cx="753" cy="1042" rx="10.6" ry="5.9" fill="#fcfbde" stroke="#c6c4a6" stroke-width="1.2"/><ellipse cx="753" cy="1042.3" rx="6.6" ry="3.7" fill="#ecebd2" stroke="#c6c4a6" stroke-width="1.2"/><path d="M790.5,1042.2 L790.5,1047.6 A10.6,5.9 0 0 0 811.7,1047.6 L811.7,1042.2 Z" fill="#fcfbde" stroke="#c6c4a6" stroke-width="1.2"/><ellipse cx="801.1" cy="1042.2" rx="10.6" ry="5.9" fill="#fcfbde" stroke="#c6c4a6" stroke-width="1.2"/><ellipse cx="801.1" cy="1042.5" rx="6.6" ry="3.7" fill="#ecebd2" stroke="#c6c4a6" stroke-width="1.2"/><path d="M838.6,1042.4 L838.6,1047.8 A10.6,5.9 0 0 0 859.8,1047.8 L859.8,1042.4 Z" fill="#fcfbde" stroke="#c6c4a6" stroke-width="1.2"/><ellipse cx="849.2" cy="1042.4" rx="10.6" ry="5.9" fill="#fcfbde" stroke="#c6c4a6" stroke-width="1.2"/><ellipse cx="849.2" cy="1042.7" rx="6.6" ry="3.7" fill="#ecebd2" stroke="#c6c4a6" stroke-width="1.2"/><path d="M766.5,1055.7 L766.5,1061.1 A10.6,5.9 0 0 0 787.7,1061.1 L787.7,1055.7 Z" fill="#fcfbde" stroke="#c6c4a6" stroke-width="1.2"/><ellipse cx="777.1" cy="1055.7" rx="10.6" ry="5.9" fill="#fcfbde" stroke="#c6c4a6" stroke-width="1.2"/><ellipse cx="777.1" cy="1056" rx="6.6" ry="3.7" fill="#ecebd2" stroke="#c6c4a6" stroke-width="1.2"/><path d="M814.6,1055.9 L814.6,1061.3 A10.6,5.9 0 0 0 835.8,1061.3 L835.8,1055.9 Z" fill="#fcfbde" stroke="#c6c4a6" stroke-width="1.2"/><ellipse cx="825.2" cy="1055.9" rx="10.6" ry="5.9" fill="#fcfbde" stroke="#c6c4a6" stroke-width="1.2"/><ellipse cx="825.2" cy="1056.2" rx="6.6" ry="3.7" fill="#ecebd2" stroke="#c6c4a6" stroke-width="1.2"/><path d="M790.5,1069.5 L790.5,1074.9 A10.6,5.9 0 0 0 811.7,1074.9 L811.7,1069.5 Z" fill="#fcfbde" stroke="#c6c4a6" stroke-width="1.2"/><ellipse cx="801.1" cy="1069.5" rx="10.6" ry="5.9" fill="#fcfbde" stroke="#c6c4a6" stroke-width="1.2"/><ellipse cx="801.1" cy="1069.8" rx="6.6" ry="3.7" fill="#ecebd2" stroke="#c6c4a6" stroke-width="1.2"/><polygon points="729,1039 753,1052.7 753,1061 729,1047.3" fill="#d5652f" stroke="#3a1a0a" stroke-width="0.9" stroke-linejoin="round"/><polygon points="753,1052.7 849.3,998.5 849.3,1006.8 753,1061" fill="#b3481c" stroke="#3a1a0a" stroke-width="0.9" stroke-linejoin="round"/><polygon points="729,1039 825.2,984.8 849.3,998.5 753,1052.7" fill="#c95a29" stroke="#3a1a0a" stroke-width="0.9" stroke-linejoin="round"/><path d="M814.6,993 L814.6,998.4 A10.6,5.9 0 0 0 835.8,998.4 L835.8,993 Z" fill="#111" stroke="#3a1a0a" stroke-width="0.9"/><ellipse cx="825.2" cy="993" rx="10.6" ry="5.9" fill="#c95a29" stroke="#3a1a0a" stroke-width="0.9"/><path d="M790.5,1006.6 L790.5,1012 A10.6,5.9 0 0 0 811.7,1012 L811.7,1006.6 Z" fill="#111" stroke="#3a1a0a" stroke-width="0.9"/><ellipse cx="801.1" cy="1006.6" rx="10.6" ry="5.9" fill="#c95a29" stroke="#3a1a0a" stroke-width="0.9"/><path d="M766.5,1020.1 L766.5,1025.5 A10.6,5.9 0 0 0 787.7,1025.5 L787.7,1020.1 Z" fill="#111" stroke="#3a1a0a" stroke-width="0.9"/><ellipse cx="777.1" cy="1020.1" rx="10.6" ry="5.9" fill="#c95a29" stroke="#3a1a0a" stroke-width="0.9"/><path d="M742.4,1033.7 L742.4,1039.1 A10.6,5.9 0 0 0 763.6,1039.1 L763.6,1033.7 Z" fill="#111" stroke="#3a1a0a" stroke-width="0.9"/><ellipse cx="753" cy="1033.7" rx="10.6" ry="5.9" fill="#c95a29" stroke="#3a1a0a" stroke-width="0.9"/><polygon points="753,1052.7 801.1,1080.2 801.1,1088.5 753,1061" fill="#0d0d0d" stroke="#a4a4a4" stroke-width="1.2" stroke-linejoin="round"/><polygon points="801.1,1080.2 825.2,1066.7 825.2,1075 801.1,1088.5" fill="#0d0d0d" stroke="#a4a4a4" stroke-width="1.2" stroke-linejoin="round"/><polygon points="753,1052.7 777.1,1039.2 825.2,1066.7 801.1,1080.2" fill="#0d0d0d" stroke="#a4a4a4" stroke-width="1.2" stroke-linejoin="round"/><path d="M766.5,1047.4 L766.5,1052.8 A10.6,5.9 0 0 0 787.7,1052.8 L787.7,1047.4 Z" fill="#0d0d0d" stroke="#a4a4a4" stroke-width="1.2"/><ellipse cx="777.1" cy="1047.4" rx="10.6" ry="5.9" fill="#0d0d0d" stroke="#a4a4a4" stroke-width="1.2"/><path d="M790.5,1061.2 L790.5,1066.6 A10.6,5.9 0 0 0 811.7,1066.6 L811.7,1061.2 Z" fill="#0d0d0d" stroke="#a4a4a4" stroke-width="1.2"/><ellipse cx="801.1" cy="1061.2" rx="10.6" ry="5.9" fill="#0d0d0d" stroke="#a4a4a4" stroke-width="1.2"/><polygon points="620.7,1027.9 765,1110.4 765,1118.7 620.7,1036.2" fill="#fcfbde" stroke="#c6c4a6" stroke-width="1.2" stroke-linejoin="round"/><polygon points="765,1110.4 813.1,1083.3 813.1,1091.6 765,1118.7" fill="#fbfada" stroke="#c6c4a6" stroke-width="1.2" stroke-linejoin="round"/><polygon points="620.7,1027.9 668.8,1000.8 813.1,1083.3 765,1110.4" fill="#fcfbde"/><polyline points="644.8,1041.6 620.7,1027.9 668.8,1000.8 813.1,1083.3 765,1110.4 741,1096.7" fill="none" stroke="#c6c4a6" stroke-width="1.2"/><path d="M658.2,1009 L658.2,1014.4 A10.6,5.9 0 0 0 679.4,1014.4 L679.4,1009 Z" fill="#fcfbde" stroke="#c6c4a6" stroke-width="1.2"/><ellipse cx="668.8" cy="1009" rx="10.6" ry="5.9" fill="#fcfbde" stroke="#c6c4a6" stroke-width="1.2"/><path d="M634.2,1022.6 L634.2,1028 A10.6,5.9 0 0 0 655.4,1028 L655.4,1022.6 Z" fill="#fcfbde" stroke="#c6c4a6" stroke-width="1.2"/><ellipse cx="644.8" cy="1022.6" rx="10.6" ry="5.9" fill="#fcfbde" stroke="#c6c4a6" stroke-width="1.2"/><path d="M682.3,1022.8 L682.3,1028.2 A10.6,5.9 0 0 0 703.5,1028.2 L703.5,1022.8 Z" fill="#fcfbde" stroke="#c6c4a6" stroke-width="1.2"/><ellipse cx="692.9" cy="1022.8" rx="10.6" ry="5.9" fill="#fcfbde" stroke="#c6c4a6" stroke-width="1.2"/><path d="M658.2,1036.3 L658.2,1041.8 A10.6,5.9 0 0 0 679.4,1041.8 L679.4,1036.3 Z" fill="#fcfbde" stroke="#c6c4a6" stroke-width="1.2"/><ellipse cx="668.8" cy="1036.3" rx="10.6" ry="5.9" fill="#fcfbde" stroke="#c6c4a6" stroke-width="1.2"/><path d="M706.3,1036.5 L706.3,1042 A10.6,5.9 0 0 0 727.5,1042 L727.5,1036.5 Z" fill="#fcfbde" stroke="#c6c4a6" stroke-width="1.2"/><ellipse cx="716.9" cy="1036.5" rx="10.6" ry="5.9" fill="#fcfbde" stroke="#c6c4a6" stroke-width="1.2"/><path d="M682.3,1050.1 L682.3,1055.5 A10.6,5.9 0 0 0 703.5,1055.5 L703.5,1050.1 Z" fill="#fcfbde" stroke="#c6c4a6" stroke-width="1.2"/><ellipse cx="692.9" cy="1050.1" rx="10.6" ry="5.9" fill="#fcfbde" stroke="#c6c4a6" stroke-width="1.2"/><path d="M730.4,1050.3 L730.4,1055.7 A10.6,5.9 0 0 0 751.6,1055.7 L751.6,1050.3 Z" fill="#fcfbde" stroke="#c6c4a6" stroke-width="1.2"/><ellipse cx="741" cy="1050.3" rx="10.6" ry="5.9" fill="#fcfbde" stroke="#c6c4a6" stroke-width="1.2"/><path d="M706.3,1063.8 L706.3,1069.2 A10.6,5.9 0 0 0 727.5,1069.2 L727.5,1063.8 Z" fill="#fcfbde" stroke="#c6c4a6" stroke-width="1.2"/><ellipse cx="716.9" cy="1063.8" rx="10.6" ry="5.9" fill="#fcfbde" stroke="#c6c4a6" stroke-width="1.2"/><path d="M754.4,1064 L754.4,1069.5 A10.6,5.9 0 0 0 775.6,1069.5 L775.6,1064 Z" fill="#fcfbde" stroke="#c6c4a6" stroke-width="1.2"/><ellipse cx="765" cy="1064" rx="10.6" ry="5.9" fill="#fcfbde" stroke="#c6c4a6" stroke-width="1.2"/><path d="M730.4,1077.6 L730.4,1083 A10.6,5.9 0 0 0 751.6,1083 L751.6,1077.6 Z" fill="#fcfbde" stroke="#c6c4a6" stroke-width="1.2"/><ellipse cx="741" cy="1077.6" rx="10.6" ry="5.9" fill="#fcfbde" stroke="#c6c4a6" stroke-width="1.2"/><path d="M778.5,1077.8 L778.5,1083.2 A10.6,5.9 0 0 0 799.7,1083.2 L799.7,1077.8 Z" fill="#fcfbde" stroke="#c6c4a6" stroke-width="1.2"/><ellipse cx="789.1" cy="1077.8" rx="10.6" ry="5.9" fill="#fcfbde" stroke="#c6c4a6" stroke-width="1.2"/><path d="M754.4,1091.3 L754.4,1096.8 A10.6,5.9 0 0 0 775.6,1096.8 L775.6,1091.3 Z" fill="#fcfbde" stroke="#c6c4a6" stroke-width="1.2"/><ellipse cx="765" cy="1091.3" rx="10.6" ry="5.9" fill="#fcfbde" stroke="#c6c4a6" stroke-width="1.2"/><polygon points="765,1118.7 791,1104.1 791,1118.2 765,1132.8" fill="#fbfada" stroke="#c6c4a6" stroke-width="1.2" stroke-linejoin="round"/><polygon points="786.2,1087 791,1089.8 791,1118.2 786.2,1115.4" fill="#fcfbde" stroke="#c6c4a6" stroke-width="1.2" stroke-linejoin="round"/><polygon points="791,1089.8 935.4,1008.5 935.4,1036.9 791,1118.2" fill="#fbfada" stroke="#c6c4a6" stroke-width="1.2" stroke-linejoin="round"/><polygon points="786.2,1087 930.6,1005.7 935.4,1008.5 791,1089.8" fill="#fcfbde" stroke="#c6c4a6" stroke-width="1.2" stroke-linejoin="round"/><ellipse cx="802.6" cy="1097.6" rx="7.3" ry="11.6" transform="rotate(27 802.6 1097.6)" fill="#fcfbde" stroke="#c6c4a6" stroke-width="1.2"/><ellipse cx="803.8" cy="1097.9" rx="4.4" ry="7.8" transform="rotate(27 803.8 1097.9)" fill="#fcfbde" stroke="#c6c4a6" stroke-width="1.2"/><polyline points="805.8,1092.1 801.8,1103.8" fill="none" stroke="#c6c4a6" stroke-width="1.2"/><ellipse cx="826.6" cy="1084" rx="7.3" ry="11.6" transform="rotate(27 826.6 1084)" fill="#fcfbde" stroke="#c6c4a6" stroke-width="1.2"/><ellipse cx="827.8" cy="1084.3" rx="4.4" ry="7.8" transform="rotate(27 827.8 1084.3)" fill="#fcfbde" stroke="#c6c4a6" stroke-width="1.2"/><polyline points="829.8,1078.5 825.8,1090.2" fill="none" stroke="#c6c4a6" stroke-width="1.2"/><ellipse cx="850.7" cy="1070.5" rx="7.3" ry="11.6" transform="rotate(27 850.7 1070.5)" fill="#fcfbde" stroke="#c6c4a6" stroke-width="1.2"/><ellipse cx="851.9" cy="1070.8" rx="4.4" ry="7.8" transform="rotate(27 851.9 1070.8)" fill="#fcfbde" stroke="#c6c4a6" stroke-width="1.2"/><polyline points="853.9,1065 849.9,1076.7" fill="none" stroke="#c6c4a6" stroke-width="1.2"/><ellipse cx="874.7" cy="1056.9" rx="7.3" ry="11.6" transform="rotate(27 874.7 1056.9)" fill="#fcfbde" stroke="#c6c4a6" stroke-width="1.2"/><ellipse cx="875.9" cy="1057.2" rx="4.4" ry="7.8" transform="rotate(27 875.9 1057.2)" fill="#fcfbde" stroke="#c6c4a6" stroke-width="1.2"/><polyline points="877.9,1051.4 873.9,1063.1" fill="none" stroke="#c6c4a6" stroke-width="1.2"/><ellipse cx="898.8" cy="1043.4" rx="7.3" ry="11.6" transform="rotate(27 898.8 1043.4)" fill="#fcfbde" stroke="#c6c4a6" stroke-width="1.2"/><ellipse cx="900" cy="1043.7" rx="4.4" ry="7.8" transform="rotate(27 900 1043.7)" fill="#fcfbde" stroke="#c6c4a6" stroke-width="1.2"/><polyline points="902,1037.9 898,1049.6" fill="none" stroke="#c6c4a6" stroke-width="1.2"/><ellipse cx="922.9" cy="1029.8" rx="7.3" ry="11.6" transform="rotate(27 922.9 1029.8)" fill="#fcfbde" stroke="#c6c4a6" stroke-width="1.2"/><ellipse cx="924.1" cy="1030.1" rx="4.4" ry="7.8" transform="rotate(27 924.1 1030.1)" fill="#fcfbde" stroke="#c6c4a6" stroke-width="1.2"/><polyline points="926.1,1024.3 922.1,1036" fill="none" stroke="#c6c4a6" stroke-width="1.2"/><polygon points="593.6,1037.4 570.7,1024.4 576.9,1013.6 599.7,1026.7" fill="#fcfbde" stroke="#c6c4a6" stroke-width="1.2" stroke-linejoin="round"/><polyline points="596.7,1032 573.8,1019" fill="none" stroke="#c6c4a6" stroke-width="1.2"/><polyline points="595.1,1034.7 572.3,1021.7" fill="none" stroke="#c6c4a6" stroke-width="1"/><polyline points="598.2,1029.4 575.4,1016.3" fill="none" stroke="#c6c4a6" stroke-width="1"/><ellipse cx="573.8" cy="1019" rx="2.6" ry="6.2" transform="rotate(29.8 573.8 1019)" fill="#fcfbde" stroke="#c6c4a6" stroke-width="1.2"/><polygon points="572.6,1032.6 596.6,1046.3 596.6,1091.1 572.6,1077.4" fill="#fcfbde" stroke="#c6c4a6" stroke-width="1.2" stroke-linejoin="round"/><polygon points="596.6,1046.3 644.8,1019.2 644.8,1064 596.6,1091.1" fill="#fbfada" stroke="#c6c4a6" stroke-width="1.2" stroke-linejoin="round"/><polygon points="572.6,1032.6 620.7,1005.5 644.8,1019.2 596.6,1046.3" fill="#fcfbde" stroke="#c6c4a6" stroke-width="1.2" stroke-linejoin="round"/><path d="M610.1,1013.7 L610.1,1019.1 A10.6,5.9 0 0 0 631.3,1019.1 L631.3,1013.7 Z" fill="#fcfbde" stroke="#c6c4a6" stroke-width="1.2"/><ellipse cx="620.7" cy="1013.7" rx="10.6" ry="5.9" fill="#fcfbde" stroke="#c6c4a6" stroke-width="1.2"/><ellipse cx="620.7" cy="1014" rx="6.6" ry="3.7" fill="#ecebd2" stroke="#c6c4a6" stroke-width="1.2"/><path d="M586.1,1027.3 L586.1,1032.7 A10.6,5.9 0 0 0 607.3,1032.7 L607.3,1027.3 Z" fill="#fcfbde" stroke="#c6c4a6" stroke-width="1.2"/><ellipse cx="596.7" cy="1027.3" rx="10.6" ry="5.9" fill="#fcfbde" stroke="#c6c4a6" stroke-width="1.2"/><ellipse cx="596.7" cy="1027.6" rx="6.6" ry="3.7" fill="#ecebd2" stroke="#c6c4a6" stroke-width="1.2"/><ellipse cx="621.9" cy="1046.1" rx="6.4" ry="10.6" transform="rotate(25 621.9 1046.1)" fill="#fcfbde" stroke="#c6c4a6" stroke-width="1.6"/><polygon points="596.6,1077 692.9,1132 692.9,1146.1 596.6,1091.1" fill="#fcfbde" stroke="#c6c4a6" stroke-width="1.2" stroke-linejoin="round"/><polygon points="692.9,1132 741,1105 741,1119 692.9,1146.1" fill="#fbfada" stroke="#c6c4a6" stroke-width="1.2" stroke-linejoin="round"/><polygon points="596.6,1077 644.8,1049.9 741,1105 692.9,1132" fill="#fcfbde" stroke="#c6c4a6" stroke-width="1.2" stroke-linejoin="round"/><polygon points="596.6,1068.8 692.9,1123.8 692.9,1132 596.6,1077" fill="#fcfbde" stroke="#c6c4a6" stroke-width="1.2" stroke-linejoin="round"/><polygon points="596.6,1068.8 644.8,1041.6 741,1096.7 692.9,1123.8" fill="#fcfbde"/><polyline points="644.8,1041.6 596.6,1068.8 692.9,1123.8" fill="none" stroke="#c6c4a6" stroke-width="1.2"/><path d="M634.2,1049.9 L634.2,1055.3 A10.6,5.9 0 0 0 655.4,1055.3 L655.4,1049.9 Z" fill="#fcfbde" stroke="#c6c4a6" stroke-width="1.2"/><ellipse cx="644.8" cy="1049.9" rx="10.6" ry="5.9" fill="#fcfbde" stroke="#c6c4a6" stroke-width="1.2"/><path d="M610.1,1063.4 L610.1,1068.8 A10.6,5.9 0 0 0 631.3,1068.8 L631.3,1063.4 Z" fill="#fcfbde" stroke="#c6c4a6" stroke-width="1.2"/><ellipse cx="620.7" cy="1063.4" rx="10.6" ry="5.9" fill="#fcfbde" stroke="#c6c4a6" stroke-width="1.2"/><path d="M658.2,1063.6 L658.2,1069 A10.6,5.9 0 0 0 679.4,1069 L679.4,1063.6 Z" fill="#fcfbde" stroke="#c6c4a6" stroke-width="1.2"/><ellipse cx="668.8" cy="1063.6" rx="10.6" ry="5.9" fill="#fcfbde" stroke="#c6c4a6" stroke-width="1.2"/><path d="M634.2,1077.2 L634.2,1082.6 A10.6,5.9 0 0 0 655.4,1082.6 L655.4,1077.2 Z" fill="#fcfbde" stroke="#c6c4a6" stroke-width="1.2"/><ellipse cx="644.8" cy="1077.2" rx="10.6" ry="5.9" fill="#fcfbde" stroke="#c6c4a6" stroke-width="1.2"/><path d="M682.3,1077.4 L682.3,1082.8 A10.6,5.9 0 0 0 703.5,1082.8 L703.5,1077.4 Z" fill="#fcfbde" stroke="#c6c4a6" stroke-width="1.2"/><ellipse cx="692.9" cy="1077.4" rx="10.6" ry="5.9" fill="#fcfbde" stroke="#c6c4a6" stroke-width="1.2"/><path d="M658.2,1090.9 L658.2,1096.3 A10.6,5.9 0 0 0 679.4,1096.3 L679.4,1090.9 Z" fill="#fcfbde" stroke="#c6c4a6" stroke-width="1.2"/><ellipse cx="668.8" cy="1090.9" rx="10.6" ry="5.9" fill="#fcfbde" stroke="#c6c4a6" stroke-width="1.2"/><path d="M706.3,1091.1 L706.3,1096.5 A10.6,5.9 0 0 0 727.5,1096.5 L727.5,1091.1 Z" fill="#fcfbde" stroke="#c6c4a6" stroke-width="1.2"/><ellipse cx="716.9" cy="1091.1" rx="10.6" ry="5.9" fill="#fcfbde" stroke="#c6c4a6" stroke-width="1.2"/><path d="M682.3,1104.7 L682.3,1110.1 A10.6,5.9 0 0 0 703.5,1110.1 L703.5,1104.7 Z" fill="#fcfbde" stroke="#c6c4a6" stroke-width="1.2"/><ellipse cx="692.9" cy="1104.7" rx="10.6" ry="5.9" fill="#fcfbde" stroke="#c6c4a6" stroke-width="1.2"/><polygon points="692.9,1101.3 716.9,1115.1 716.9,1159.9 692.9,1146.1" fill="#fcfbde" stroke="#c6c4a6" stroke-width="1.2" stroke-linejoin="round"/><polygon points="716.9,1115.1 765,1088 765,1132.8 716.9,1159.9" fill="#fbfada" stroke="#c6c4a6" stroke-width="1.2" stroke-linejoin="round"/><polygon points="692.9,1101.3 741,1074.2 765,1088 716.9,1115.1" fill="#fcfbde" stroke="#c6c4a6" stroke-width="1.2" stroke-linejoin="round"/><path d="M730.4,1082.5 L730.4,1087.9 A10.6,5.9 0 0 0 751.6,1087.9 L751.6,1082.5 Z" fill="#fcfbde" stroke="#c6c4a6" stroke-width="1.2"/><ellipse cx="741" cy="1082.5" rx="10.6" ry="5.9" fill="#fcfbde" stroke="#c6c4a6" stroke-width="1.2"/><ellipse cx="741" cy="1082.8" rx="6.6" ry="3.7" fill="#ecebd2" stroke="#c6c4a6" stroke-width="1.2"/><path d="M706.3,1096 L706.3,1101.4 A10.6,5.9 0 0 0 727.5,1101.4 L727.5,1096 Z" fill="#fcfbde" stroke="#c6c4a6" stroke-width="1.2"/><ellipse cx="716.9" cy="1096" rx="10.6" ry="5.9" fill="#fcfbde" stroke="#c6c4a6" stroke-width="1.2"/><ellipse cx="716.9" cy="1096.3" rx="6.6" ry="3.7" fill="#ecebd2" stroke="#c6c4a6" stroke-width="1.2"/><polygon points="737.9,1120.4 764.3,1135.6 770.5,1124.8 744,1109.7" fill="#fcfbde" stroke="#c6c4a6" stroke-width="1.2" stroke-linejoin="round"/><polyline points="741,1115 767.4,1130.2" fill="none" stroke="#c6c4a6" stroke-width="1.2"/><polyline points="739.4,1117.7 765.9,1132.9" fill="none" stroke="#c6c4a6" stroke-width="1"/><polyline points="742.5,1112.4 769,1127.5" fill="none" stroke="#c6c4a6" stroke-width="1"/><ellipse cx="767.4" cy="1130.2" rx="2.6" ry="6.2" transform="rotate(29.8 767.4 1130.2)" fill="#fcfbde" stroke="#c6c4a6" stroke-width="1.2"/>
<polyline points="828.6,753.5 828.6,915" fill="none" stroke="#333" stroke-width="1.3"/><path d="M828.6,921 L823.6,910 L828.6,914.2 L833.6,910 Z" fill="#333"/>
<text x="889.4" y="656" font-size="29.6" font-weight="normal" fill="#ffffff" text-anchor="start" textLength="175" lengthAdjust="spacingAndGlyphs">stemviet.com</text><text x="890.4" y="657" font-size="29.6" font-weight="normal" fill="#777777" text-anchor="start" textLength="175" lengthAdjust="spacingAndGlyphs">stemviet.com</text>
<path d="M40.8,1199 L114.3,1199 L114.3,1263 Q77.5,1252.4 40.8,1263 Z" fill="#ec060e"/><text x="77.5" y="1249.5" font-size="29.5" font-weight="bold" fill="#fff5ea" text-anchor="middle" textLength="31" lengthAdjust="spacingAndGlyphs">03</text>
<rect x="41.1" y="1267.8" width="314.7" height="202.8" rx="8" fill="#fff9c6" stroke="none" stroke-width="0"/><path d="M49.1,1267.8 L97.1,1267.8 L97.1,1308.8 Q97.1,1317.3 88.1,1317.3 L41.1,1317.3 Z" fill="#f7c12d"/><path d="M41.1,1275.8 Q41.1,1267.8 49.1,1267.8 L41.1,1317.3 Z" fill="#f7c12d"/><rect x="41.1" y="1275.3" width="9" height="42" fill="#f7c12d"/><text x="69" y="1304.2" font-size="30.5" font-weight="bold" fill="#2a1a1c" text-anchor="middle">3</text>
<polygon points="639.1,1796.6 645.8,1800.3 645.8,1828.3 639.1,1824.6" fill="#fcfbde" stroke="#c6c4a6" stroke-width="1.2" stroke-linejoin="round"/><polygon points="645.8,1800.3 787.6,1721 787.6,1749 645.8,1828.3" fill="#fbfada" stroke="#c6c4a6" stroke-width="1.2" stroke-linejoin="round"/><polygon points="639.1,1796.6 781,1717.3 787.6,1721 645.8,1800.3" fill="#fcfbde" stroke="#c6c4a6" stroke-width="1.2" stroke-linejoin="round"/><polygon points="859.2,1685.7 836.5,1673.2 842.5,1662.4 865.2,1674.9" fill="#fcfbde" stroke="#c6c4a6" stroke-width="1.2" stroke-linejoin="round"/><polyline points="862.2,1680.3 839.5,1667.8" fill="none" stroke="#c6c4a6" stroke-width="1.2"/><polyline points="860.7,1683 838,1670.5" fill="none" stroke="#c6c4a6" stroke-width="1"/><polyline points="863.7,1677.6 841,1665.1" fill="none" stroke="#c6c4a6" stroke-width="1"/><ellipse cx="839.5" cy="1667.8" rx="2.6" ry="6.2" transform="rotate(29 839.5 1667.8)" fill="#fcfbde" stroke="#c6c4a6" stroke-width="1.2"/><polygon points="838.2,1680.8 862,1694 862,1738.8 838.2,1725.6" fill="#fcfbde" stroke="#c6c4a6" stroke-width="1.2" stroke-linejoin="round"/><polygon points="862,1694 910.1,1667.1 910.1,1711.9 862,1738.8" fill="#fbfada" stroke="#c6c4a6" stroke-width="1.2" stroke-linejoin="round"/><polygon points="838.2,1680.8 886.2,1653.9 910.1,1667.1 862,1694" fill="#fcfbde" stroke="#c6c4a6" stroke-width="1.2" stroke-linejoin="round"/><path d="M875.5,1661.8 L875.5,1667.2 A10.6,5.9 0 0 0 896.8,1667.2 L896.8,1661.8 Z" fill="#fcfbde" stroke="#c6c4a6" stroke-width="1.2"/><ellipse cx="886.1" cy="1661.8" rx="10.6" ry="5.9" fill="#fcfbde" stroke="#c6c4a6" stroke-width="1.2"/><ellipse cx="886.1" cy="1662.1" rx="6.6" ry="3.7" fill="#ecebd2" stroke="#c6c4a6" stroke-width="1.2"/><path d="M851.5,1675.2 L851.5,1680.6 A10.6,5.9 0 0 0 872.7,1680.6 L872.7,1675.2 Z" fill="#fcfbde" stroke="#c6c4a6" stroke-width="1.2"/><ellipse cx="862.1" cy="1675.2" rx="10.6" ry="5.9" fill="#fcfbde" stroke="#c6c4a6" stroke-width="1.2"/><ellipse cx="862.1" cy="1675.5" rx="6.6" ry="3.7" fill="#ecebd2" stroke="#c6c4a6" stroke-width="1.2"/><ellipse cx="887.3" cy="1693.8" rx="6.4" ry="10.6" transform="rotate(25 887.3 1693.8)" fill="#fcfbde" stroke="#c6c4a6" stroke-width="1.6"/><polygon points="862,1724.7 957.4,1777.5 957.4,1791.6 862,1738.8" fill="#fcfbde" stroke="#c6c4a6" stroke-width="1.2" stroke-linejoin="round"/><polygon points="957.4,1777.5 1005.5,1750.6 1005.5,1764.7 957.4,1791.6" fill="#fbfada" stroke="#c6c4a6" stroke-width="1.2" stroke-linejoin="round"/><polygon points="862,1724.7 910.1,1697.8 1005.5,1750.6 957.4,1777.5" fill="#fcfbde" stroke="#c6c4a6" stroke-width="1.2" stroke-linejoin="round"/><path d="M899.4,1705.7 L899.4,1711.1 A10.6,5.9 0 0 0 920.6,1711.1 L920.6,1705.7 Z" fill="#fcfbde" stroke="#c6c4a6" stroke-width="1.2"/><ellipse cx="910" cy="1705.7" rx="10.6" ry="5.9" fill="#fcfbde" stroke="#c6c4a6" stroke-width="1.2"/><path d="M923.2,1718.9 L923.2,1724.3 A10.6,5.9 0 0 0 944.5,1724.3 L944.5,1718.9 Z" fill="#fcfbde" stroke="#c6c4a6" stroke-width="1.2"/><ellipse cx="933.9" cy="1718.9" rx="10.6" ry="5.9" fill="#fcfbde" stroke="#c6c4a6" stroke-width="1.2"/><path d="M947.1,1732.1 L947.1,1737.5 A10.6,5.9 0 0 0 968.3,1737.5 L968.3,1732.1 Z" fill="#fcfbde" stroke="#c6c4a6" stroke-width="1.2"/><ellipse cx="957.7" cy="1732.1" rx="10.6" ry="5.9" fill="#fcfbde" stroke="#c6c4a6" stroke-width="1.2"/><path d="M971,1745.3 L971,1750.7 A10.6,5.9 0 0 0 992.2,1750.7 L992.2,1745.3 Z" fill="#fcfbde" stroke="#c6c4a6" stroke-width="1.2"/><ellipse cx="981.6" cy="1745.3" rx="10.6" ry="5.9" fill="#fcfbde" stroke="#c6c4a6" stroke-width="1.2"/><polygon points="886.1,1702.9 981.5,1755.7 981.5,1764 886.1,1711.2" fill="#0d0d0d" stroke="#a4a4a4" stroke-width="1.2" stroke-linejoin="round"/><polygon points="981.5,1755.7 1029.5,1728.8 1029.5,1737.1 981.5,1764" fill="#0d0d0d" stroke="#a4a4a4" stroke-width="1.2" stroke-linejoin="round"/><polygon points="886.1,1702.9 934.1,1676 1029.5,1728.8 981.5,1755.7" fill="#0d0d0d" stroke="#a4a4a4" stroke-width="1.2" stroke-linejoin="round"/><path d="M923.5,1684 L923.5,1689.4 A10.6,5.9 0 0 0 944.7,1689.4 L944.7,1684 Z" fill="#0d0d0d" stroke="#a4a4a4" stroke-width="1.2"/><ellipse cx="934.1" cy="1684" rx="10.6" ry="5.9" fill="#0d0d0d" stroke="#a4a4a4" stroke-width="1.2"/><path d="M899.4,1697.4 L899.4,1702.8 A10.6,5.9 0 0 0 920.6,1702.8 L920.6,1697.4 Z" fill="#0d0d0d" stroke="#a4a4a4" stroke-width="1.2"/><ellipse cx="910" cy="1697.4" rx="10.6" ry="5.9" fill="#0d0d0d" stroke="#a4a4a4" stroke-width="1.2"/><path d="M947.3,1697.2 L947.3,1702.6 A10.6,5.9 0 0 0 968.5,1702.6 L968.5,1697.2 Z" fill="#0d0d0d" stroke="#a4a4a4" stroke-width="1.2"/><ellipse cx="957.9" cy="1697.2" rx="10.6" ry="5.9" fill="#0d0d0d" stroke="#a4a4a4" stroke-width="1.2"/><path d="M923.2,1710.6 L923.2,1716 A10.6,5.9 0 0 0 944.5,1716 L944.5,1710.6 Z" fill="#0d0d0d" stroke="#a4a4a4" stroke-width="1.2"/><ellipse cx="933.9" cy="1710.6" rx="10.6" ry="5.9" fill="#0d0d0d" stroke="#a4a4a4" stroke-width="1.2"/><path d="M971.2,1710.4 L971.2,1715.8 A10.6,5.9 0 0 0 992.4,1715.8 L992.4,1710.4 Z" fill="#0d0d0d" stroke="#a4a4a4" stroke-width="1.2"/><ellipse cx="981.8" cy="1710.4" rx="10.6" ry="5.9" fill="#0d0d0d" stroke="#a4a4a4" stroke-width="1.2"/><path d="M947.1,1723.8 L947.1,1729.2 A10.6,5.9 0 0 0 968.3,1729.2 L968.3,1723.8 Z" fill="#0d0d0d" stroke="#a4a4a4" stroke-width="1.2"/><ellipse cx="957.7" cy="1723.8" rx="10.6" ry="5.9" fill="#0d0d0d" stroke="#a4a4a4" stroke-width="1.2"/><path d="M995,1723.6 L995,1729 A10.6,5.9 0 0 0 1016.2,1729 L1016.2,1723.6 Z" fill="#0d0d0d" stroke="#a4a4a4" stroke-width="1.2"/><ellipse cx="1005.6" cy="1723.6" rx="10.6" ry="5.9" fill="#0d0d0d" stroke="#a4a4a4" stroke-width="1.2"/><path d="M971,1737 L971,1742.4 A10.6,5.9 0 0 0 992.2,1742.4 L992.2,1737 Z" fill="#0d0d0d" stroke="#a4a4a4" stroke-width="1.2"/><ellipse cx="981.6" cy="1737" rx="10.6" ry="5.9" fill="#0d0d0d" stroke="#a4a4a4" stroke-width="1.2"/><polygon points="814.1,1728.7 838.2,1715.3 862,1728.5 838,1741.9" fill="#fcfbde"/><polygon points="838,1727.9 933.4,1780.7 933.4,1789 838,1736.2" fill="#fcfbde" stroke="#c6c4a6" stroke-width="1.2" stroke-linejoin="round"/><polygon points="933.4,1780.7 981.5,1753.8 981.5,1762.1 933.4,1789" fill="#fbfada" stroke="#c6c4a6" stroke-width="1.2" stroke-linejoin="round"/><polygon points="838,1727.9 886.1,1701 981.5,1753.8 933.4,1780.7" fill="#fcfbde" stroke="#c6c4a6" stroke-width="1.2" stroke-linejoin="round"/><polygon points="766,1741.6 909.1,1820.8 909.1,1835.8 766,1756.6" fill="#fcfbde" stroke="#c6c4a6" stroke-width="1.2" stroke-linejoin="round"/><polygon points="909.1,1820.8 957.2,1793.9 957.2,1808.9 909.1,1835.8" fill="#fbfada" stroke="#c6c4a6" stroke-width="1.2" stroke-linejoin="round"/><polygon points="766,1741.6 814.1,1714.7 957.2,1793.9 909.1,1820.8" fill="#fcfbde" stroke="#c6c4a6" stroke-width="1.2" stroke-linejoin="round"/><path d="M875.3,1708.9 L875.3,1714.3 A10.6,5.9 0 0 0 896.5,1714.3 L896.5,1708.9 Z" fill="#fcfbde" stroke="#c6c4a6" stroke-width="1.2"/><ellipse cx="885.9" cy="1708.9" rx="10.6" ry="5.9" fill="#fcfbde" stroke="#c6c4a6" stroke-width="1.2"/><path d="M851.3,1722.4 L851.3,1727.8 A10.6,5.9 0 0 0 872.5,1727.8 L872.5,1722.4 Z" fill="#fcfbde" stroke="#c6c4a6" stroke-width="1.2"/><ellipse cx="861.9" cy="1722.4" rx="10.6" ry="5.9" fill="#fcfbde" stroke="#c6c4a6" stroke-width="1.2"/><path d="M899.2,1722.1 L899.2,1727.5 A10.6,5.9 0 0 0 920.4,1727.5 L920.4,1722.1 Z" fill="#fcfbde" stroke="#c6c4a6" stroke-width="1.2"/><ellipse cx="909.8" cy="1722.1" rx="10.6" ry="5.9" fill="#fcfbde" stroke="#c6c4a6" stroke-width="1.2"/><path d="M827.2,1735.8 L827.2,1741.2 A10.6,5.9 0 0 0 848.5,1741.2 L848.5,1735.8 Z" fill="#fcfbde" stroke="#c6c4a6" stroke-width="1.2"/><ellipse cx="837.9" cy="1735.8" rx="10.6" ry="5.9" fill="#fcfbde" stroke="#c6c4a6" stroke-width="1.2"/><path d="M875.1,1735.6 L875.1,1741 A10.6,5.9 0 0 0 896.4,1741 L896.4,1735.6 Z" fill="#fcfbde" stroke="#c6c4a6" stroke-width="1.2"/><ellipse cx="885.8" cy="1735.6" rx="10.6" ry="5.9" fill="#fcfbde" stroke="#c6c4a6" stroke-width="1.2"/><path d="M923,1735.3 L923,1740.7 A10.6,5.9 0 0 0 944.2,1740.7 L944.2,1735.3 Z" fill="#fcfbde" stroke="#c6c4a6" stroke-width="1.2"/><ellipse cx="933.6" cy="1735.3" rx="10.6" ry="5.9" fill="#fcfbde" stroke="#c6c4a6" stroke-width="1.2"/><path d="M851.1,1749 L851.1,1754.4 A10.6,5.9 0 0 0 872.3,1754.4 L872.3,1749 Z" fill="#fcfbde" stroke="#c6c4a6" stroke-width="1.2"/><ellipse cx="861.7" cy="1749" rx="10.6" ry="5.9" fill="#fcfbde" stroke="#c6c4a6" stroke-width="1.2"/><path d="M899,1748.8 L899,1754.2 A10.6,5.9 0 0 0 920.2,1754.2 L920.2,1748.8 Z" fill="#fcfbde" stroke="#c6c4a6" stroke-width="1.2"/><ellipse cx="909.6" cy="1748.8" rx="10.6" ry="5.9" fill="#fcfbde" stroke="#c6c4a6" stroke-width="1.2"/><path d="M946.9,1748.5 L946.9,1753.9 A10.6,5.9 0 0 0 968.1,1753.9 L968.1,1748.5 Z" fill="#fcfbde" stroke="#c6c4a6" stroke-width="1.2"/><ellipse cx="957.5" cy="1748.5" rx="10.6" ry="5.9" fill="#fcfbde" stroke="#c6c4a6" stroke-width="1.2"/><path d="M875,1762.2 L875,1767.6 A10.6,5.9 0 0 0 896.2,1767.6 L896.2,1762.2 Z" fill="#fcfbde" stroke="#c6c4a6" stroke-width="1.2"/><ellipse cx="885.6" cy="1762.2" rx="10.6" ry="5.9" fill="#fcfbde" stroke="#c6c4a6" stroke-width="1.2"/><path d="M922.9,1762 L922.9,1767.4 A10.6,5.9 0 0 0 944.1,1767.4 L944.1,1762 Z" fill="#fcfbde" stroke="#c6c4a6" stroke-width="1.2"/><ellipse cx="933.5" cy="1762" rx="10.6" ry="5.9" fill="#fcfbde" stroke="#c6c4a6" stroke-width="1.2"/><path d="M898.8,1775.4 L898.8,1780.8 A10.6,5.9 0 0 0 920,1780.8 L920,1775.4 Z" fill="#fcfbde" stroke="#c6c4a6" stroke-width="1.2"/><ellipse cx="909.4" cy="1775.4" rx="10.6" ry="5.9" fill="#fcfbde" stroke="#c6c4a6" stroke-width="1.2"/><path d="M922.6,1788.6 L922.6,1794 A10.6,5.9 0 0 0 943.9,1794 L943.9,1788.6 Z" fill="#fcfbde" stroke="#c6c4a6" stroke-width="1.2"/><ellipse cx="933.2" cy="1788.6" rx="10.6" ry="5.9" fill="#fcfbde" stroke="#c6c4a6" stroke-width="1.2"/><polygon points="766,1733.3 909.1,1812.5 909.1,1820.8 766,1741.6" fill="#fcfbde" stroke="#c6c4a6" stroke-width="1.2" stroke-linejoin="round"/><polygon points="909.1,1812.5 933.2,1799 933.2,1807.3 909.1,1820.8" fill="#fbfada" stroke="#c6c4a6" stroke-width="1.2" stroke-linejoin="round"/><polygon points="766,1733.3 790.1,1719.8 933.2,1799 909.1,1812.5" fill="#fcfbde" stroke="#c6c4a6" stroke-width="1.2" stroke-linejoin="round"/><path d="M779.4,1727.8 L779.4,1733.2 A10.6,5.9 0 0 0 800.6,1733.2 L800.6,1727.8 Z" fill="#fcfbde" stroke="#c6c4a6" stroke-width="1.2"/><ellipse cx="790" cy="1727.8" rx="10.6" ry="5.9" fill="#fcfbde" stroke="#c6c4a6" stroke-width="1.2"/><path d="M803.2,1741 L803.2,1746.4 A10.6,5.9 0 0 0 824.4,1746.4 L824.4,1741 Z" fill="#fcfbde" stroke="#c6c4a6" stroke-width="1.2"/><ellipse cx="813.8" cy="1741" rx="10.6" ry="5.9" fill="#fcfbde" stroke="#c6c4a6" stroke-width="1.2"/><path d="M827.1,1754.2 L827.1,1759.6 A10.6,5.9 0 0 0 848.3,1759.6 L848.3,1754.2 Z" fill="#fcfbde" stroke="#c6c4a6" stroke-width="1.2"/><ellipse cx="837.7" cy="1754.2" rx="10.6" ry="5.9" fill="#fcfbde" stroke="#c6c4a6" stroke-width="1.2"/><path d="M850.9,1767.4 L850.9,1772.8 A10.6,5.9 0 0 0 872.1,1772.8 L872.1,1767.4 Z" fill="#fcfbde" stroke="#c6c4a6" stroke-width="1.2"/><ellipse cx="861.5" cy="1767.4" rx="10.6" ry="5.9" fill="#fcfbde" stroke="#c6c4a6" stroke-width="1.2"/><path d="M874.8,1780.6 L874.8,1786 A10.6,5.9 0 0 0 896,1786 L896,1780.6 Z" fill="#fcfbde" stroke="#c6c4a6" stroke-width="1.2"/><ellipse cx="885.4" cy="1780.6" rx="10.6" ry="5.9" fill="#fcfbde" stroke="#c6c4a6" stroke-width="1.2"/><path d="M898.6,1793.8 L898.6,1799.2 A10.6,5.9 0 0 0 919.8,1799.2 L919.8,1793.8 Z" fill="#fcfbde" stroke="#c6c4a6" stroke-width="1.2"/><ellipse cx="909.2" cy="1793.8" rx="10.6" ry="5.9" fill="#fcfbde" stroke="#c6c4a6" stroke-width="1.2"/><polygon points="785.3,1716 813.9,1731.8 813.9,1738.8 785.3,1723" fill="#0d0d0d" stroke="#a4a4a4" stroke-width="1.2" stroke-linejoin="round"/><polygon points="813.9,1731.8 838,1718.4 838,1725.4 813.9,1738.8" fill="#0d0d0d" stroke="#a4a4a4" stroke-width="1.2" stroke-linejoin="round"/><polygon points="785.3,1716 809.3,1702.6 838,1718.4 813.9,1731.8" fill="#0d0d0d" stroke="#a4a4a4" stroke-width="1.2" stroke-linejoin="round"/><path d="M803.4,1713.1 L803.4,1718.5 A10.6,5.9 0 0 0 824.6,1718.5 L824.6,1713.1 Z" fill="#0d0d0d" stroke="#a4a4a4" stroke-width="1.2"/><ellipse cx="814" cy="1713.1" rx="10.6" ry="5.9" fill="#0d0d0d" stroke="#a4a4a4" stroke-width="1.2"/><ellipse cx="814" cy="1713.4" rx="6.6" ry="3.7" fill="#5c5c5c" stroke="#a4a4a4" stroke-width="1.2"/><polygon points="814.1,1693.4 838,1706.6 838,1727.9 814.1,1714.7" fill="#0d0d0d" stroke="#a4a4a4" stroke-width="1.2" stroke-linejoin="round"/><polygon points="838,1706.6 862,1693.2 862,1714.5 838,1727.9" fill="#0d0d0d" stroke="#a4a4a4" stroke-width="1.2" stroke-linejoin="round"/><polygon points="814.1,1693.4 838.2,1680 862,1693.2 838,1706.6" fill="#0d0d0d" stroke="#a4a4a4" stroke-width="1.2" stroke-linejoin="round"/><path d="M827.4,1687.9 L827.4,1693.3 A10.6,5.9 0 0 0 848.6,1693.3 L848.6,1687.9 Z" fill="#0d0d0d" stroke="#a4a4a4" stroke-width="1.2"/><ellipse cx="838" cy="1687.9" rx="10.6" ry="5.9" fill="#0d0d0d" stroke="#a4a4a4" stroke-width="1.2"/><ellipse cx="838" cy="1688.2" rx="6.6" ry="3.7" fill="#5c5c5c" stroke="#a4a4a4" stroke-width="1.2"/><polygon points="957.4,1746.8 981.3,1760 981.3,1804.8 957.4,1791.6" fill="#fcfbde" stroke="#c6c4a6" stroke-width="1.2" stroke-linejoin="round"/><polygon points="981.3,1760 1029.3,1733.1 1029.3,1777.9 981.3,1804.8" fill="#fbfada" stroke="#c6c4a6" stroke-width="1.2" stroke-linejoin="round"/><polygon points="957.4,1746.8 1005.5,1719.9 1029.3,1733.1 981.3,1760" fill="#fcfbde" stroke="#c6c4a6" stroke-width="1.2" stroke-linejoin="round"/><path d="M994.8,1727.8 L994.8,1733.2 A10.6,5.9 0 0 0 1016,1733.2 L1016,1727.8 Z" fill="#fcfbde" stroke="#c6c4a6" stroke-width="1.2"/><ellipse cx="1005.4" cy="1727.8" rx="10.6" ry="5.9" fill="#fcfbde" stroke="#c6c4a6" stroke-width="1.2"/><ellipse cx="1005.4" cy="1728.1" rx="6.6" ry="3.7" fill="#ecebd2" stroke="#c6c4a6" stroke-width="1.2"/><path d="M970.7,1741.2 L970.7,1746.6 A10.6,5.9 0 0 0 991.9,1746.6 L991.9,1741.2 Z" fill="#fcfbde" stroke="#c6c4a6" stroke-width="1.2"/><ellipse cx="981.3" cy="1741.2" rx="10.6" ry="5.9" fill="#fcfbde" stroke="#c6c4a6" stroke-width="1.2"/><ellipse cx="981.3" cy="1741.5" rx="6.6" ry="3.7" fill="#ecebd2" stroke="#c6c4a6" stroke-width="1.2"/><polygon points="1002.3,1765.4 1028.5,1780 1034.5,1769.1 1008.3,1754.6" fill="#fcfbde" stroke="#c6c4a6" stroke-width="1.2" stroke-linejoin="round"/><polyline points="1005.3,1760 1031.5,1774.5" fill="none" stroke="#c6c4a6" stroke-width="1.2"/><polyline points="1003.8,1762.7 1030,1777.3" fill="none" stroke="#c6c4a6" stroke-width="1"/><polyline points="1006.8,1757.3 1033,1771.8" fill="none" stroke="#c6c4a6" stroke-width="1"/><ellipse cx="1031.5" cy="1774.5" rx="2.6" ry="6.2" transform="rotate(29 1031.5 1774.5)" fill="#fcfbde" stroke="#c6c4a6" stroke-width="1.2"/><polygon points="933.2,1822.6 981.3,1795.8 981.3,1804.5 933.2,1831.3" fill="#0d0d0d" stroke="#a4a4a4" stroke-width="1.2" stroke-linejoin="round"/><polygon points="933.4,1796 957.4,1782.6 981.3,1795.8 957.2,1809.2" fill="#0d0d0d" stroke="#a4a4a4" stroke-width="1.2" stroke-linejoin="round"/><polygon points="933.2,1807.3 957.2,1793.9 957.2,1809.2 933.2,1822.6" fill="#fbfada" stroke="#c6c4a6" stroke-width="1.2" stroke-linejoin="round"/><polygon points="933.4,1764 957.2,1777.2 957.2,1809.2 933.4,1796" fill="#0d0d0d" stroke="#a4a4a4" stroke-width="1.2" stroke-linejoin="round"/><polygon points="957.2,1777.2 981.3,1763.8 981.3,1795.8 957.2,1809.2" fill="#0d0d0d" stroke="#a4a4a4" stroke-width="1.2" stroke-linejoin="round"/><polygon points="933.4,1764 957.4,1750.6 981.3,1763.8 957.2,1777.2" fill="#0d0d0d" stroke="#a4a4a4" stroke-width="1.2" stroke-linejoin="round"/><path d="M946.7,1758.5 L946.7,1763.9 A10.6,5.9 0 0 0 967.9,1763.9 L967.9,1758.5 Z" fill="#0d0d0d" stroke="#a4a4a4" stroke-width="1.2"/><ellipse cx="957.3" cy="1758.5" rx="10.6" ry="5.9" fill="#0d0d0d" stroke="#a4a4a4" stroke-width="1.2"/><ellipse cx="957.3" cy="1758.8" rx="6.6" ry="3.7" fill="#5c5c5c" stroke="#a4a4a4" stroke-width="1.2"/><polygon points="669.8,1809.3 812.9,1888.5 812.9,1896.8 669.8,1817.6" fill="#fcfbde" stroke="#c6c4a6" stroke-width="1.2" stroke-linejoin="round"/><polygon points="812.9,1888.5 909.1,1834.8 909.1,1843.1 812.9,1896.8" fill="#fbfada" stroke="#c6c4a6" stroke-width="1.2" stroke-linejoin="round"/><polygon points="669.8,1809.3 766,1755.6 909.1,1834.8 812.9,1888.5" fill="#fcfbde" stroke="#c6c4a6" stroke-width="1.2" stroke-linejoin="round"/><ellipse cx="729.6" cy="1815.7" rx="10.2" ry="5.7" fill="#fcfbde" stroke="#c6c4a6" stroke-width="1.2"/><ellipse cx="729.6" cy="1815.7" rx="7.4" ry="3.9" fill="#ffffff" stroke="#c6c4a6" stroke-width="1"/><ellipse cx="729.6" cy="1817.6" rx="6.9" ry="3.2" fill="#ecebcf"/><ellipse cx="753.5" cy="1828.9" rx="10.2" ry="5.7" fill="#fcfbde" stroke="#c6c4a6" stroke-width="1.2"/><ellipse cx="753.5" cy="1828.9" rx="7.4" ry="3.9" fill="#ffffff" stroke="#c6c4a6" stroke-width="1"/><ellipse cx="753.5" cy="1830.8" rx="6.9" ry="3.2" fill="#ecebcf"/><ellipse cx="777.3" cy="1842.1" rx="10.2" ry="5.7" fill="#fcfbde" stroke="#c6c4a6" stroke-width="1.2"/><ellipse cx="777.3" cy="1842.1" rx="7.4" ry="3.9" fill="#ffffff" stroke="#c6c4a6" stroke-width="1"/><ellipse cx="777.3" cy="1844" rx="6.9" ry="3.2" fill="#ecebcf"/><ellipse cx="801.2" cy="1855.3" rx="10.2" ry="5.7" fill="#fcfbde" stroke="#c6c4a6" stroke-width="1.2"/><ellipse cx="801.2" cy="1855.3" rx="7.4" ry="3.9" fill="#ffffff" stroke="#c6c4a6" stroke-width="1"/><ellipse cx="801.2" cy="1857.2" rx="6.9" ry="3.2" fill="#ecebcf"/><ellipse cx="777.7" cy="1788.8" rx="10.2" ry="5.7" fill="#fcfbde" stroke="#c6c4a6" stroke-width="1.2"/><ellipse cx="777.7" cy="1788.8" rx="7.4" ry="3.9" fill="#ffffff" stroke="#c6c4a6" stroke-width="1"/><ellipse cx="777.7" cy="1790.7" rx="6.9" ry="3.2" fill="#ecebcf"/><ellipse cx="801.6" cy="1802" rx="10.2" ry="5.7" fill="#fcfbde" stroke="#c6c4a6" stroke-width="1.2"/><ellipse cx="801.6" cy="1802" rx="7.4" ry="3.9" fill="#ffffff" stroke="#c6c4a6" stroke-width="1"/><ellipse cx="801.6" cy="1803.9" rx="6.9" ry="3.2" fill="#ecebcf"/><ellipse cx="825.4" cy="1815.2" rx="10.2" ry="5.7" fill="#fcfbde" stroke="#c6c4a6" stroke-width="1.2"/><ellipse cx="825.4" cy="1815.2" rx="7.4" ry="3.9" fill="#ffffff" stroke="#c6c4a6" stroke-width="1"/><ellipse cx="825.4" cy="1817.1" rx="6.9" ry="3.2" fill="#ecebcf"/><ellipse cx="849.3" cy="1828.4" rx="10.2" ry="5.7" fill="#fcfbde" stroke="#c6c4a6" stroke-width="1.2"/><ellipse cx="849.3" cy="1828.4" rx="7.4" ry="3.9" fill="#ffffff" stroke="#c6c4a6" stroke-width="1"/><ellipse cx="849.3" cy="1830.3" rx="6.9" ry="3.2" fill="#ecebcf"/><path d="M767.2,1770.1 L767.2,1775.5 A10.6,5.9 0 0 0 788.4,1775.5 L788.4,1770.1 Z" fill="#fcfbde" stroke="#c6c4a6" stroke-width="1.2"/><ellipse cx="777.8" cy="1770.1" rx="10.6" ry="5.9" fill="#fcfbde" stroke="#c6c4a6" stroke-width="1.2"/><ellipse cx="777.8" cy="1770.4" rx="6.6" ry="3.7" fill="#ecebd2" stroke="#c6c4a6" stroke-width="1.2"/><path d="M743.2,1783.5 L743.2,1788.9 A10.6,5.9 0 0 0 764.4,1788.9 L764.4,1783.5 Z" fill="#fcfbde" stroke="#c6c4a6" stroke-width="1.2"/><ellipse cx="753.8" cy="1783.5" rx="10.6" ry="5.9" fill="#fcfbde" stroke="#c6c4a6" stroke-width="1.2"/><ellipse cx="753.8" cy="1783.8" rx="6.6" ry="3.7" fill="#ecebd2" stroke="#c6c4a6" stroke-width="1.2"/><path d="M791.1,1783.3 L791.1,1788.7 A10.6,5.9 0 0 0 812.3,1788.7 L812.3,1783.3 Z" fill="#fcfbde" stroke="#c6c4a6" stroke-width="1.2"/><ellipse cx="801.7" cy="1783.3" rx="10.6" ry="5.9" fill="#fcfbde" stroke="#c6c4a6" stroke-width="1.2"/><ellipse cx="801.7" cy="1783.6" rx="6.6" ry="3.7" fill="#ecebd2" stroke="#c6c4a6" stroke-width="1.2"/><path d="M719.1,1797 L719.1,1802.4 A10.6,5.9 0 0 0 740.3,1802.4 L740.3,1797 Z" fill="#fcfbde" stroke="#c6c4a6" stroke-width="1.2"/><ellipse cx="729.7" cy="1797" rx="10.6" ry="5.9" fill="#fcfbde" stroke="#c6c4a6" stroke-width="1.2"/><ellipse cx="729.7" cy="1797.3" rx="6.6" ry="3.7" fill="#ecebd2" stroke="#c6c4a6" stroke-width="1.2"/><path d="M767,1796.7 L767,1802.1 A10.6,5.9 0 0 0 788.2,1802.1 L788.2,1796.7 Z" fill="#fcfbde" stroke="#c6c4a6" stroke-width="1.2"/><ellipse cx="777.6" cy="1796.7" rx="10.6" ry="5.9" fill="#fcfbde" stroke="#c6c4a6" stroke-width="1.2"/><ellipse cx="777.6" cy="1797" rx="6.6" ry="3.7" fill="#ecebd2" stroke="#c6c4a6" stroke-width="1.2"/><path d="M814.9,1796.5 L814.9,1801.9 A10.6,5.9 0 0 0 836.1,1801.9 L836.1,1796.5 Z" fill="#fcfbde" stroke="#c6c4a6" stroke-width="1.2"/><ellipse cx="825.5" cy="1796.5" rx="10.6" ry="5.9" fill="#fcfbde" stroke="#c6c4a6" stroke-width="1.2"/><ellipse cx="825.5" cy="1796.8" rx="6.6" ry="3.7" fill="#ecebd2" stroke="#c6c4a6" stroke-width="1.2"/><path d="M695.1,1810.4 L695.1,1815.8 A10.6,5.9 0 0 0 716.3,1815.8 L716.3,1810.4 Z" fill="#fcfbde" stroke="#c6c4a6" stroke-width="1.2"/><ellipse cx="705.7" cy="1810.4" rx="10.6" ry="5.9" fill="#fcfbde" stroke="#c6c4a6" stroke-width="1.2"/><ellipse cx="705.7" cy="1810.7" rx="6.6" ry="3.7" fill="#ecebd2" stroke="#c6c4a6" stroke-width="1.2"/><path d="M743,1810.2 L743,1815.6 A10.6,5.9 0 0 0 764.2,1815.6 L764.2,1810.2 Z" fill="#fcfbde" stroke="#c6c4a6" stroke-width="1.2"/><ellipse cx="753.6" cy="1810.2" rx="10.6" ry="5.9" fill="#fcfbde" stroke="#c6c4a6" stroke-width="1.2"/><ellipse cx="753.6" cy="1810.5" rx="6.6" ry="3.7" fill="#ecebd2" stroke="#c6c4a6" stroke-width="1.2"/><path d="M790.9,1809.9 L790.9,1815.3 A10.6,5.9 0 0 0 812.1,1815.3 L812.1,1809.9 Z" fill="#fcfbde" stroke="#c6c4a6" stroke-width="1.2"/><ellipse cx="801.5" cy="1809.9" rx="10.6" ry="5.9" fill="#fcfbde" stroke="#c6c4a6" stroke-width="1.2"/><ellipse cx="801.5" cy="1810.2" rx="6.6" ry="3.7" fill="#ecebd2" stroke="#c6c4a6" stroke-width="1.2"/><path d="M838.8,1809.7 L838.8,1815.1 A10.6,5.9 0 0 0 860,1815.1 L860,1809.7 Z" fill="#fcfbde" stroke="#c6c4a6" stroke-width="1.2"/><ellipse cx="849.4" cy="1809.7" rx="10.6" ry="5.9" fill="#fcfbde" stroke="#c6c4a6" stroke-width="1.2"/><ellipse cx="849.4" cy="1810" rx="6.6" ry="3.7" fill="#ecebd2" stroke="#c6c4a6" stroke-width="1.2"/><path d="M718.9,1823.6 L718.9,1829 A10.6,5.9 0 0 0 740.1,1829 L740.1,1823.6 Z" fill="#fcfbde" stroke="#c6c4a6" stroke-width="1.2"/><ellipse cx="729.5" cy="1823.6" rx="10.6" ry="5.9" fill="#fcfbde" stroke="#c6c4a6" stroke-width="1.2"/><ellipse cx="729.5" cy="1823.9" rx="6.6" ry="3.7" fill="#ecebd2" stroke="#c6c4a6" stroke-width="1.2"/><path d="M766.8,1823.4 L766.8,1828.8 A10.6,5.9 0 0 0 788,1828.8 L788,1823.4 Z" fill="#fcfbde" stroke="#c6c4a6" stroke-width="1.2"/><ellipse cx="777.4" cy="1823.4" rx="10.6" ry="5.9" fill="#fcfbde" stroke="#c6c4a6" stroke-width="1.2"/><ellipse cx="777.4" cy="1823.7" rx="6.6" ry="3.7" fill="#ecebd2" stroke="#c6c4a6" stroke-width="1.2"/><path d="M814.7,1823.1 L814.7,1828.5 A10.6,5.9 0 0 0 835.9,1828.5 L835.9,1823.1 Z" fill="#fcfbde" stroke="#c6c4a6" stroke-width="1.2"/><ellipse cx="825.3" cy="1823.1" rx="10.6" ry="5.9" fill="#fcfbde" stroke="#c6c4a6" stroke-width="1.2"/><ellipse cx="825.3" cy="1823.4" rx="6.6" ry="3.7" fill="#ecebd2" stroke="#c6c4a6" stroke-width="1.2"/><path d="M862.6,1822.9 L862.6,1828.3 A10.6,5.9 0 0 0 883.8,1828.3 L883.8,1822.9 Z" fill="#fcfbde" stroke="#c6c4a6" stroke-width="1.2"/><ellipse cx="873.2" cy="1822.9" rx="10.6" ry="5.9" fill="#fcfbde" stroke="#c6c4a6" stroke-width="1.2"/><ellipse cx="873.2" cy="1823.2" rx="6.6" ry="3.7" fill="#ecebd2" stroke="#c6c4a6" stroke-width="1.2"/><path d="M742.8,1836.8 L742.8,1842.2 A10.6,5.9 0 0 0 764,1842.2 L764,1836.8 Z" fill="#fcfbde" stroke="#c6c4a6" stroke-width="1.2"/><ellipse cx="753.4" cy="1836.8" rx="10.6" ry="5.9" fill="#fcfbde" stroke="#c6c4a6" stroke-width="1.2"/><ellipse cx="753.4" cy="1837.1" rx="6.6" ry="3.7" fill="#ecebd2" stroke="#c6c4a6" stroke-width="1.2"/><path d="M790.7,1836.6 L790.7,1842 A10.6,5.9 0 0 0 811.9,1842 L811.9,1836.6 Z" fill="#fcfbde" stroke="#c6c4a6" stroke-width="1.2"/><ellipse cx="801.3" cy="1836.6" rx="10.6" ry="5.9" fill="#fcfbde" stroke="#c6c4a6" stroke-width="1.2"/><ellipse cx="801.3" cy="1836.9" rx="6.6" ry="3.7" fill="#ecebd2" stroke="#c6c4a6" stroke-width="1.2"/><path d="M838.6,1836.3 L838.6,1841.7 A10.6,5.9 0 0 0 859.8,1841.7 L859.8,1836.3 Z" fill="#fcfbde" stroke="#c6c4a6" stroke-width="1.2"/><ellipse cx="849.2" cy="1836.3" rx="10.6" ry="5.9" fill="#fcfbde" stroke="#c6c4a6" stroke-width="1.2"/><ellipse cx="849.2" cy="1836.6" rx="6.6" ry="3.7" fill="#ecebd2" stroke="#c6c4a6" stroke-width="1.2"/><path d="M766.6,1850 L766.6,1855.4 A10.6,5.9 0 0 0 787.8,1855.4 L787.8,1850 Z" fill="#fcfbde" stroke="#c6c4a6" stroke-width="1.2"/><ellipse cx="777.2" cy="1850" rx="10.6" ry="5.9" fill="#fcfbde" stroke="#c6c4a6" stroke-width="1.2"/><ellipse cx="777.2" cy="1850.3" rx="6.6" ry="3.7" fill="#ecebd2" stroke="#c6c4a6" stroke-width="1.2"/><path d="M814.5,1849.8 L814.5,1855.2 A10.6,5.9 0 0 0 835.7,1855.2 L835.7,1849.8 Z" fill="#fcfbde" stroke="#c6c4a6" stroke-width="1.2"/><ellipse cx="825.1" cy="1849.8" rx="10.6" ry="5.9" fill="#fcfbde" stroke="#c6c4a6" stroke-width="1.2"/><ellipse cx="825.1" cy="1850.1" rx="6.6" ry="3.7" fill="#ecebd2" stroke="#c6c4a6" stroke-width="1.2"/><path d="M790.5,1863.2 L790.5,1868.6 A10.6,5.9 0 0 0 811.7,1868.6 L811.7,1863.2 Z" fill="#fcfbde" stroke="#c6c4a6" stroke-width="1.2"/><ellipse cx="801.1" cy="1863.2" rx="10.6" ry="5.9" fill="#fcfbde" stroke="#c6c4a6" stroke-width="1.2"/><ellipse cx="801.1" cy="1863.5" rx="6.6" ry="3.7" fill="#ecebd2" stroke="#c6c4a6" stroke-width="1.2"/><polygon points="729.4,1834 753.3,1847.2 753.3,1855.5 729.4,1842.3" fill="#fcfbde" stroke="#c6c4a6" stroke-width="1.2" stroke-linejoin="round"/><polygon points="753.3,1847.2 849.5,1793.5 849.5,1801.8 753.3,1855.5" fill="#fbfada" stroke="#c6c4a6" stroke-width="1.2" stroke-linejoin="round"/><polygon points="729.4,1834 825.6,1780.3 849.5,1793.5 753.3,1847.2" fill="#fcfbde" stroke="#c6c4a6" stroke-width="1.2" stroke-linejoin="round"/><path d="M814.9,1788.2 L814.9,1793.6 A10.6,5.9 0 0 0 836.1,1793.6 L836.1,1788.2 Z" fill="#fcfbde" stroke="#c6c4a6" stroke-width="1.2"/><ellipse cx="825.5" cy="1788.2" rx="10.6" ry="5.9" fill="#fcfbde" stroke="#c6c4a6" stroke-width="1.2"/><path d="M790.9,1801.6 L790.9,1807 A10.6,5.9 0 0 0 812.1,1807 L812.1,1801.6 Z" fill="#fcfbde" stroke="#c6c4a6" stroke-width="1.2"/><ellipse cx="801.5" cy="1801.6" rx="10.6" ry="5.9" fill="#fcfbde" stroke="#c6c4a6" stroke-width="1.2"/><path d="M766.8,1815.1 L766.8,1820.5 A10.6,5.9 0 0 0 788,1820.5 L788,1815.1 Z" fill="#fcfbde" stroke="#c6c4a6" stroke-width="1.2"/><ellipse cx="777.4" cy="1815.1" rx="10.6" ry="5.9" fill="#fcfbde" stroke="#c6c4a6" stroke-width="1.2"/><path d="M742.8,1828.5 L742.8,1833.9 A10.6,5.9 0 0 0 764,1833.9 L764,1828.5 Z" fill="#fcfbde" stroke="#c6c4a6" stroke-width="1.2"/><ellipse cx="753.4" cy="1828.5" rx="10.6" ry="5.9" fill="#fcfbde" stroke="#c6c4a6" stroke-width="1.2"/><polygon points="753.3,1847.2 801,1873.6 801,1881.9 753.3,1855.5" fill="#fcfbde" stroke="#c6c4a6" stroke-width="1.2" stroke-linejoin="round"/><polygon points="801,1873.6 825,1860.2 825,1868.5 801,1881.9" fill="#fbfada" stroke="#c6c4a6" stroke-width="1.2" stroke-linejoin="round"/><polygon points="753.3,1847.2 777.3,1833.8 825,1860.2 801,1873.6" fill="#fcfbde" stroke="#c6c4a6" stroke-width="1.2" stroke-linejoin="round"/><path d="M766.6,1841.7 L766.6,1847.1 A10.6,5.9 0 0 0 787.8,1847.1 L787.8,1841.7 Z" fill="#fcfbde" stroke="#c6c4a6" stroke-width="1.2"/><ellipse cx="777.2" cy="1841.7" rx="10.6" ry="5.9" fill="#fcfbde" stroke="#c6c4a6" stroke-width="1.2"/><path d="M790.5,1854.9 L790.5,1860.3 A10.6,5.9 0 0 0 811.7,1860.3 L811.7,1854.9 Z" fill="#fcfbde" stroke="#c6c4a6" stroke-width="1.2"/><ellipse cx="801.1" cy="1854.9" rx="10.6" ry="5.9" fill="#fcfbde" stroke="#c6c4a6" stroke-width="1.2"/><polygon points="621.7,1824.1 764.8,1903.3 764.8,1911.6 621.7,1832.4" fill="#fcfbde" stroke="#c6c4a6" stroke-width="1.2" stroke-linejoin="round"/><polygon points="764.8,1903.3 812.9,1876.4 812.9,1884.7 764.8,1911.6" fill="#fbfada" stroke="#c6c4a6" stroke-width="1.2" stroke-linejoin="round"/><polygon points="621.7,1824.1 669.8,1797.2 812.9,1876.4 764.8,1903.3" fill="#fcfbde"/><polyline points="645.6,1837.3 621.7,1824.1 669.8,1797.2 812.9,1876.4 764.8,1903.3 741,1890.1" fill="none" stroke="#c6c4a6" stroke-width="1.2"/><path d="M659.1,1805.2 L659.1,1810.6 A10.6,5.9 0 0 0 680.3,1810.6 L680.3,1805.2 Z" fill="#fcfbde" stroke="#c6c4a6" stroke-width="1.2"/><ellipse cx="669.7" cy="1805.2" rx="10.6" ry="5.9" fill="#fcfbde" stroke="#c6c4a6" stroke-width="1.2"/><path d="M635,1818.6 L635,1824 A10.6,5.9 0 0 0 656.2,1824 L656.2,1818.6 Z" fill="#fcfbde" stroke="#c6c4a6" stroke-width="1.2"/><ellipse cx="645.6" cy="1818.6" rx="10.6" ry="5.9" fill="#fcfbde" stroke="#c6c4a6" stroke-width="1.2"/><path d="M682.9,1818.4 L682.9,1823.8 A10.6,5.9 0 0 0 704.1,1823.8 L704.1,1818.4 Z" fill="#fcfbde" stroke="#c6c4a6" stroke-width="1.2"/><ellipse cx="693.5" cy="1818.4" rx="10.6" ry="5.9" fill="#fcfbde" stroke="#c6c4a6" stroke-width="1.2"/><path d="M658.9,1831.8 L658.9,1837.2 A10.6,5.9 0 0 0 680.1,1837.2 L680.1,1831.8 Z" fill="#fcfbde" stroke="#c6c4a6" stroke-width="1.2"/><ellipse cx="669.5" cy="1831.8" rx="10.6" ry="5.9" fill="#fcfbde" stroke="#c6c4a6" stroke-width="1.2"/><path d="M706.8,1831.6 L706.8,1837 A10.6,5.9 0 0 0 728,1837 L728,1831.6 Z" fill="#fcfbde" stroke="#c6c4a6" stroke-width="1.2"/><ellipse cx="717.4" cy="1831.6" rx="10.6" ry="5.9" fill="#fcfbde" stroke="#c6c4a6" stroke-width="1.2"/><path d="M682.8,1845 L682.8,1850.4 A10.6,5.9 0 0 0 704,1850.4 L704,1845 Z" fill="#fcfbde" stroke="#c6c4a6" stroke-width="1.2"/><ellipse cx="693.4" cy="1845" rx="10.6" ry="5.9" fill="#fcfbde" stroke="#c6c4a6" stroke-width="1.2"/><path d="M730.6,1844.8 L730.6,1850.2 A10.6,5.9 0 0 0 751.9,1850.2 L751.9,1844.8 Z" fill="#fcfbde" stroke="#c6c4a6" stroke-width="1.2"/><ellipse cx="741.2" cy="1844.8" rx="10.6" ry="5.9" fill="#fcfbde" stroke="#c6c4a6" stroke-width="1.2"/><path d="M706.6,1858.2 L706.6,1863.6 A10.6,5.9 0 0 0 727.8,1863.6 L727.8,1858.2 Z" fill="#fcfbde" stroke="#c6c4a6" stroke-width="1.2"/><ellipse cx="717.2" cy="1858.2" rx="10.6" ry="5.9" fill="#fcfbde" stroke="#c6c4a6" stroke-width="1.2"/><path d="M754.5,1858 L754.5,1863.4 A10.6,5.9 0 0 0 775.7,1863.4 L775.7,1858 Z" fill="#fcfbde" stroke="#c6c4a6" stroke-width="1.2"/><ellipse cx="765.1" cy="1858" rx="10.6" ry="5.9" fill="#fcfbde" stroke="#c6c4a6" stroke-width="1.2"/><path d="M730.5,1871.4 L730.5,1876.8 A10.6,5.9 0 0 0 751.7,1876.8 L751.7,1871.4 Z" fill="#fcfbde" stroke="#c6c4a6" stroke-width="1.2"/><ellipse cx="741.1" cy="1871.4" rx="10.6" ry="5.9" fill="#fcfbde" stroke="#c6c4a6" stroke-width="1.2"/><path d="M778.4,1871.2 L778.4,1876.6 A10.6,5.9 0 0 0 799.6,1876.6 L799.6,1871.2 Z" fill="#fcfbde" stroke="#c6c4a6" stroke-width="1.2"/><ellipse cx="789" cy="1871.2" rx="10.6" ry="5.9" fill="#fcfbde" stroke="#c6c4a6" stroke-width="1.2"/><path d="M754.3,1884.6 L754.3,1890 A10.6,5.9 0 0 0 775.5,1890 L775.5,1884.6 Z" fill="#fcfbde" stroke="#c6c4a6" stroke-width="1.2"/><ellipse cx="764.9" cy="1884.6" rx="10.6" ry="5.9" fill="#fcfbde" stroke="#c6c4a6" stroke-width="1.2"/><polygon points="764.8,1911.6 790.8,1897.1 790.8,1911.2 764.8,1925.7" fill="#fbfada" stroke="#c6c4a6" stroke-width="1.2" stroke-linejoin="round"/><polygon points="786,1880.2 790.8,1882.8 790.8,1911.2 786,1908.6" fill="#fcfbde" stroke="#c6c4a6" stroke-width="1.2" stroke-linejoin="round"/><polygon points="790.8,1882.8 935.1,1802.2 935.1,1830.6 790.8,1911.2" fill="#fbfada" stroke="#c6c4a6" stroke-width="1.2" stroke-linejoin="round"/><polygon points="786,1880.2 930.3,1799.5 935.1,1802.2 790.8,1882.8" fill="#fcfbde" stroke="#c6c4a6" stroke-width="1.2" stroke-linejoin="round"/><ellipse cx="802.3" cy="1890.7" rx="7.3" ry="11.6" transform="rotate(27 802.3 1890.7)" fill="#fcfbde" stroke="#c6c4a6" stroke-width="1.2"/><ellipse cx="803.5" cy="1891" rx="4.4" ry="7.8" transform="rotate(27 803.5 1891)" fill="#fcfbde" stroke="#c6c4a6" stroke-width="1.2"/><polyline points="805.5,1885.2 801.5,1896.9" fill="none" stroke="#c6c4a6" stroke-width="1.2"/><ellipse cx="826.4" cy="1877.2" rx="7.3" ry="11.6" transform="rotate(27 826.4 1877.2)" fill="#fcfbde" stroke="#c6c4a6" stroke-width="1.2"/><ellipse cx="827.6" cy="1877.5" rx="4.4" ry="7.8" transform="rotate(27 827.6 1877.5)" fill="#fcfbde" stroke="#c6c4a6" stroke-width="1.2"/><polyline points="829.6,1871.7 825.6,1883.4" fill="none" stroke="#c6c4a6" stroke-width="1.2"/><ellipse cx="850.4" cy="1863.8" rx="7.3" ry="11.6" transform="rotate(27 850.4 1863.8)" fill="#fcfbde" stroke="#c6c4a6" stroke-width="1.2"/><ellipse cx="851.6" cy="1864.1" rx="4.4" ry="7.8" transform="rotate(27 851.6 1864.1)" fill="#fcfbde" stroke="#c6c4a6" stroke-width="1.2"/><polyline points="853.6,1858.3 849.6,1870" fill="none" stroke="#c6c4a6" stroke-width="1.2"/><ellipse cx="874.5" cy="1850.3" rx="7.3" ry="11.6" transform="rotate(27 874.5 1850.3)" fill="#fcfbde" stroke="#c6c4a6" stroke-width="1.2"/><ellipse cx="875.7" cy="1850.6" rx="4.4" ry="7.8" transform="rotate(27 875.7 1850.6)" fill="#fcfbde" stroke="#c6c4a6" stroke-width="1.2"/><polyline points="877.7,1844.8 873.7,1856.5" fill="none" stroke="#c6c4a6" stroke-width="1.2"/><ellipse cx="898.5" cy="1836.9" rx="7.3" ry="11.6" transform="rotate(27 898.5 1836.9)" fill="#fcfbde" stroke="#c6c4a6" stroke-width="1.2"/><ellipse cx="899.7" cy="1837.2" rx="4.4" ry="7.8" transform="rotate(27 899.7 1837.2)" fill="#fcfbde" stroke="#c6c4a6" stroke-width="1.2"/><polyline points="901.7,1831.4 897.7,1843.1" fill="none" stroke="#c6c4a6" stroke-width="1.2"/><ellipse cx="922.6" cy="1823.5" rx="7.3" ry="11.6" transform="rotate(27 922.6 1823.5)" fill="#fcfbde" stroke="#c6c4a6" stroke-width="1.2"/><ellipse cx="923.8" cy="1823.8" rx="4.4" ry="7.8" transform="rotate(27 923.8 1823.8)" fill="#fcfbde" stroke="#c6c4a6" stroke-width="1.2"/><polyline points="925.8,1818 921.8,1829.7" fill="none" stroke="#c6c4a6" stroke-width="1.2"/><polygon points="909.3,1784.6 933.2,1797.8 933.2,1807.3 909.3,1794.1" fill="#0d0d0d" stroke="#a4a4a4" stroke-width="1.2" stroke-linejoin="round"/><polygon points="933.2,1797.8 957.2,1784.4 957.2,1793.9 933.2,1807.3" fill="#0d0d0d" stroke="#a4a4a4" stroke-width="1.2" stroke-linejoin="round"/><polygon points="909.3,1784.6 933.4,1771.2 957.2,1784.4 933.2,1797.8" fill="#0d0d0d" stroke="#a4a4a4" stroke-width="1.2" stroke-linejoin="round"/><polygon points="933.2,1797.8 939.1,1801.1 939.1,1827.6 933.2,1824.3" fill="#0d0d0d" stroke="#a4a4a4" stroke-width="1.2" stroke-linejoin="round"/><polygon points="939.1,1801.1 963.2,1787.7 963.2,1814.2 939.1,1827.6" fill="#0d0d0d" stroke="#a4a4a4" stroke-width="1.2" stroke-linejoin="round"/><polygon points="933.2,1797.8 957.2,1784.4 963.2,1787.7 939.1,1801.1" fill="#0d0d0d" stroke="#a4a4a4" stroke-width="1.2" stroke-linejoin="round"/><path d="M922.6,1779.1 L922.6,1784.5 A10.6,5.9 0 0 0 943.9,1784.5 L943.9,1779.1 Z" fill="#0d0d0d" stroke="#a4a4a4" stroke-width="1.2"/><ellipse cx="933.2" cy="1779.1" rx="10.6" ry="5.9" fill="#0d0d0d" stroke="#a4a4a4" stroke-width="1.2"/><ellipse cx="933.2" cy="1779.4" rx="6.6" ry="3.7" fill="#5c5c5c" stroke="#a4a4a4" stroke-width="1.2"/><ellipse cx="952.6" cy="1812.1" rx="6.2" ry="9.2" transform="rotate(27 952.6 1812.1)" fill="#0d0d0d" stroke="#a4a4a4" stroke-width="1.2"/><ellipse cx="954.3" cy="1812.8" rx="5.6" ry="8.6" transform="rotate(27 954.3 1812.8)" fill="#0d0d0d" stroke="#a4a4a4" stroke-width="1.2"/><ellipse cx="954.3" cy="1812.8" rx="3.2" ry="5.2" transform="rotate(27 954.3 1812.8)" fill="#5c5c5c" stroke="#a4a4a4" stroke-width="1.2"/><polygon points="594.6,1833.6 572,1821 578,1810.2 600.7,1822.7" fill="#fcfbde" stroke="#c6c4a6" stroke-width="1.2" stroke-linejoin="round"/><polyline points="597.6,1828.2 575,1815.6" fill="none" stroke="#c6c4a6" stroke-width="1.2"/><polyline points="596.1,1830.9 573.5,1818.3" fill="none" stroke="#c6c4a6" stroke-width="1"/><polyline points="599.2,1825.4 576.5,1812.9" fill="none" stroke="#c6c4a6" stroke-width="1"/><ellipse cx="575" cy="1815.6" rx="2.6" ry="6.2" transform="rotate(29 575 1815.6)" fill="#fcfbde" stroke="#c6c4a6" stroke-width="1.2"/><polygon points="573.6,1828.6 597.5,1841.8 597.5,1886.6 573.6,1873.4" fill="#fcfbde" stroke="#c6c4a6" stroke-width="1.2" stroke-linejoin="round"/><polygon points="597.5,1841.8 645.6,1814.9 645.6,1859.7 597.5,1886.6" fill="#fbfada" stroke="#c6c4a6" stroke-width="1.2" stroke-linejoin="round"/><polygon points="573.6,1828.6 621.7,1801.7 645.6,1814.9 597.5,1841.8" fill="#fcfbde" stroke="#c6c4a6" stroke-width="1.2" stroke-linejoin="round"/><path d="M611,1809.6 L611,1815 A10.6,5.9 0 0 0 632.2,1815 L632.2,1809.6 Z" fill="#fcfbde" stroke="#c6c4a6" stroke-width="1.2"/><ellipse cx="621.6" cy="1809.6" rx="10.6" ry="5.9" fill="#fcfbde" stroke="#c6c4a6" stroke-width="1.2"/><ellipse cx="621.6" cy="1809.9" rx="6.6" ry="3.7" fill="#ecebd2" stroke="#c6c4a6" stroke-width="1.2"/><path d="M586.9,1823.1 L586.9,1828.5 A10.6,5.9 0 0 0 608.1,1828.5 L608.1,1823.1 Z" fill="#fcfbde" stroke="#c6c4a6" stroke-width="1.2"/><ellipse cx="597.5" cy="1823.1" rx="10.6" ry="5.9" fill="#fcfbde" stroke="#c6c4a6" stroke-width="1.2"/><ellipse cx="597.5" cy="1823.4" rx="6.6" ry="3.7" fill="#ecebd2" stroke="#c6c4a6" stroke-width="1.2"/><ellipse cx="622.7" cy="1841.7" rx="6.4" ry="10.6" transform="rotate(25 622.7 1841.7)" fill="#fcfbde" stroke="#c6c4a6" stroke-width="1.6"/><polygon points="597.5,1872.5 692.9,1925.3 692.9,1939.4 597.5,1886.6" fill="#fcfbde" stroke="#c6c4a6" stroke-width="1.2" stroke-linejoin="round"/><polygon points="692.9,1925.3 741,1898.4 741,1912.5 692.9,1939.4" fill="#fbfada" stroke="#c6c4a6" stroke-width="1.2" stroke-linejoin="round"/><polygon points="597.5,1872.5 645.6,1845.6 741,1898.4 692.9,1925.3" fill="#fcfbde" stroke="#c6c4a6" stroke-width="1.2" stroke-linejoin="round"/><polygon points="597.5,1864.2 692.9,1917 692.9,1925.3 597.5,1872.5" fill="#fcfbde" stroke="#c6c4a6" stroke-width="1.2" stroke-linejoin="round"/><polygon points="597.5,1864.2 645.6,1837.3 741,1890.1 692.9,1917" fill="#fcfbde"/><polyline points="645.6,1837.3 597.5,1864.2 692.9,1917" fill="none" stroke="#c6c4a6" stroke-width="1.2"/><path d="M634.9,1845.2 L634.9,1850.6 A10.6,5.9 0 0 0 656.1,1850.6 L656.1,1845.2 Z" fill="#fcfbde" stroke="#c6c4a6" stroke-width="1.2"/><ellipse cx="645.5" cy="1845.2" rx="10.6" ry="5.9" fill="#fcfbde" stroke="#c6c4a6" stroke-width="1.2"/><path d="M610.8,1858.7 L610.8,1864.1 A10.6,5.9 0 0 0 632,1864.1 L632,1858.7 Z" fill="#fcfbde" stroke="#c6c4a6" stroke-width="1.2"/><ellipse cx="621.4" cy="1858.7" rx="10.6" ry="5.9" fill="#fcfbde" stroke="#c6c4a6" stroke-width="1.2"/><path d="M658.7,1858.4 L658.7,1863.8 A10.6,5.9 0 0 0 679.9,1863.8 L679.9,1858.4 Z" fill="#fcfbde" stroke="#c6c4a6" stroke-width="1.2"/><ellipse cx="669.3" cy="1858.4" rx="10.6" ry="5.9" fill="#fcfbde" stroke="#c6c4a6" stroke-width="1.2"/><path d="M634.6,1871.9 L634.6,1877.3 A10.6,5.9 0 0 0 655.9,1877.3 L655.9,1871.9 Z" fill="#fcfbde" stroke="#c6c4a6" stroke-width="1.2"/><ellipse cx="645.2" cy="1871.9" rx="10.6" ry="5.9" fill="#fcfbde" stroke="#c6c4a6" stroke-width="1.2"/><path d="M682.6,1871.6 L682.6,1877 A10.6,5.9 0 0 0 703.8,1877 L703.8,1871.6 Z" fill="#fcfbde" stroke="#c6c4a6" stroke-width="1.2"/><ellipse cx="693.2" cy="1871.6" rx="10.6" ry="5.9" fill="#fcfbde" stroke="#c6c4a6" stroke-width="1.2"/><path d="M658.5,1885.1 L658.5,1890.5 A10.6,5.9 0 0 0 679.7,1890.5 L679.7,1885.1 Z" fill="#fcfbde" stroke="#c6c4a6" stroke-width="1.2"/><ellipse cx="669.1" cy="1885.1" rx="10.6" ry="5.9" fill="#fcfbde" stroke="#c6c4a6" stroke-width="1.2"/><path d="M706.4,1884.8 L706.4,1890.2 A10.6,5.9 0 0 0 727.6,1890.2 L727.6,1884.8 Z" fill="#fcfbde" stroke="#c6c4a6" stroke-width="1.2"/><ellipse cx="717" cy="1884.8" rx="10.6" ry="5.9" fill="#fcfbde" stroke="#c6c4a6" stroke-width="1.2"/><path d="M682.4,1898.3 L682.4,1903.7 A10.6,5.9 0 0 0 703.6,1903.7 L703.6,1898.3 Z" fill="#fcfbde" stroke="#c6c4a6" stroke-width="1.2"/><ellipse cx="693" cy="1898.3" rx="10.6" ry="5.9" fill="#fcfbde" stroke="#c6c4a6" stroke-width="1.2"/><polygon points="621.5,1842.5 645.4,1855.7 645.4,1864 621.5,1850.8" fill="#0d0d0d" stroke="#a4a4a4" stroke-width="1.2" stroke-linejoin="round"/><polygon points="645.4,1855.7 669.4,1842.2 669.4,1850.5 645.4,1864" fill="#0d0d0d" stroke="#a4a4a4" stroke-width="1.2" stroke-linejoin="round"/><polygon points="621.5,1842.5 645.6,1829 669.4,1842.2 645.4,1855.7" fill="#0d0d0d" stroke="#a4a4a4" stroke-width="1.2" stroke-linejoin="round"/><path d="M634.9,1836.9 L634.9,1842.3 A10.6,5.9 0 0 0 656.1,1842.3 L656.1,1836.9 Z" fill="#0d0d0d" stroke="#a4a4a4" stroke-width="1.2"/><ellipse cx="645.5" cy="1836.9" rx="10.6" ry="5.9" fill="#0d0d0d" stroke="#a4a4a4" stroke-width="1.2"/><polygon points="621.3,1869.1 645.2,1882.3 645.2,1890.6 621.3,1877.4" fill="#0d0d0d" stroke="#a4a4a4" stroke-width="1.2" stroke-linejoin="round"/><polygon points="645.2,1882.3 693.2,1855.4 693.2,1863.7 645.2,1890.6" fill="#0d0d0d" stroke="#a4a4a4" stroke-width="1.2" stroke-linejoin="round"/><polygon points="621.3,1869.1 669.4,1842.2 693.2,1855.4 645.2,1882.3" fill="#0d0d0d" stroke="#a4a4a4" stroke-width="1.2" stroke-linejoin="round"/><path d="M658.7,1850.1 L658.7,1855.5 A10.6,5.9 0 0 0 679.9,1855.5 L679.9,1850.1 Z" fill="#0d0d0d" stroke="#a4a4a4" stroke-width="1.2"/><ellipse cx="669.3" cy="1850.1" rx="10.6" ry="5.9" fill="#0d0d0d" stroke="#a4a4a4" stroke-width="1.2"/><ellipse cx="669.3" cy="1850.4" rx="6.6" ry="3.7" fill="#5c5c5c" stroke="#a4a4a4" stroke-width="1.2"/><polygon points="641.7,1851.2 651.7,1856.7 651.7,1871.2 641.7,1865.7" fill="#0d0d0d" stroke="#a4a4a4" stroke-width="1.2" stroke-linejoin="round"/><polygon points="651.7,1856.7 657.5,1853.5 657.5,1868 651.7,1871.2" fill="#0d0d0d" stroke="#a4a4a4" stroke-width="1.2" stroke-linejoin="round"/><polygon points="641.7,1851.2 647.5,1847.9 657.5,1853.5 651.7,1856.7" fill="#0d0d0d" stroke="#a4a4a4" stroke-width="1.2" stroke-linejoin="round"/><polygon points="630.9,1857.2 640.9,1862.8 640.9,1877.3 630.9,1871.7" fill="#0d0d0d" stroke="#a4a4a4" stroke-width="1.2" stroke-linejoin="round"/><polygon points="640.9,1862.8 646.6,1859.5 646.6,1874 640.9,1877.3" fill="#0d0d0d" stroke="#a4a4a4" stroke-width="1.2" stroke-linejoin="round"/><polygon points="630.9,1857.2 636.6,1854 646.6,1859.5 640.9,1862.8" fill="#0d0d0d" stroke="#a4a4a4" stroke-width="1.2" stroke-linejoin="round"/><polygon points="645.2,1882.3 669,1895.5 669,1903.8 645.2,1890.6" fill="#0d0d0d" stroke="#a4a4a4" stroke-width="1.2" stroke-linejoin="round"/><polygon points="669,1895.5 717.1,1868.6 717.1,1876.9 669,1903.8" fill="#0d0d0d" stroke="#a4a4a4" stroke-width="1.2" stroke-linejoin="round"/><polygon points="645.2,1882.3 693.2,1855.4 717.1,1868.6 669,1895.5" fill="#0d0d0d" stroke="#a4a4a4" stroke-width="1.2" stroke-linejoin="round"/><path d="M682.6,1863.3 L682.6,1868.7 A10.6,5.9 0 0 0 703.8,1868.7 L703.8,1863.3 Z" fill="#0d0d0d" stroke="#a4a4a4" stroke-width="1.2"/><ellipse cx="693.2" cy="1863.3" rx="10.6" ry="5.9" fill="#0d0d0d" stroke="#a4a4a4" stroke-width="1.2"/><ellipse cx="693.2" cy="1863.6" rx="6.6" ry="3.7" fill="#5c5c5c" stroke="#a4a4a4" stroke-width="1.2"/><polygon points="665.5,1864.4 675.5,1869.9 675.5,1884.4 665.5,1878.9" fill="#0d0d0d" stroke="#a4a4a4" stroke-width="1.2" stroke-linejoin="round"/><polygon points="675.5,1869.9 681.3,1866.7 681.3,1881.2 675.5,1884.4" fill="#0d0d0d" stroke="#a4a4a4" stroke-width="1.2" stroke-linejoin="round"/><polygon points="665.5,1864.4 671.3,1861.1 681.3,1866.7 675.5,1869.9" fill="#0d0d0d" stroke="#a4a4a4" stroke-width="1.2" stroke-linejoin="round"/><polygon points="654.7,1870.4 664.7,1876 664.7,1890.5 654.7,1884.9" fill="#0d0d0d" stroke="#a4a4a4" stroke-width="1.2" stroke-linejoin="round"/><polygon points="664.7,1876 670.5,1872.7 670.5,1887.2 664.7,1890.5" fill="#0d0d0d" stroke="#a4a4a4" stroke-width="1.2" stroke-linejoin="round"/><polygon points="654.7,1870.4 660.5,1867.2 670.5,1872.7 664.7,1876" fill="#0d0d0d" stroke="#a4a4a4" stroke-width="1.2" stroke-linejoin="round"/><polygon points="693,1883.7 716.9,1896.9 716.9,1903.6 693,1890.4" fill="#0d0d0d" stroke="#a4a4a4" stroke-width="1.2" stroke-linejoin="round"/><polygon points="716.9,1896.9 727.7,1890.9 727.7,1897.5 716.9,1903.6" fill="#0d0d0d" stroke="#a4a4a4" stroke-width="1.2" stroke-linejoin="round"/><polygon points="693,1883.7 703.9,1877.7 727.7,1890.9 716.9,1896.9" fill="#0d0d0d" stroke="#a4a4a4" stroke-width="1.2" stroke-linejoin="round"/><ellipse cx="717" cy="1877.3" rx="10" ry="5.5" fill="#0c0c0c"/><polygon points="692.9,1894.6 716.7,1907.8 716.7,1952.6 692.9,1939.4" fill="#fcfbde" stroke="#c6c4a6" stroke-width="1.2" stroke-linejoin="round"/><polygon points="716.7,1907.8 764.8,1880.9 764.8,1925.7 716.7,1952.6" fill="#fbfada" stroke="#c6c4a6" stroke-width="1.2" stroke-linejoin="round"/><polygon points="692.9,1894.6 741,1867.7 764.8,1880.9 716.7,1907.8" fill="#fcfbde" stroke="#c6c4a6" stroke-width="1.2" stroke-linejoin="round"/><path d="M730.3,1875.6 L730.3,1881 A10.6,5.9 0 0 0 751.5,1881 L751.5,1875.6 Z" fill="#fcfbde" stroke="#c6c4a6" stroke-width="1.2"/><ellipse cx="740.9" cy="1875.6" rx="10.6" ry="5.9" fill="#fcfbde" stroke="#c6c4a6" stroke-width="1.2"/><ellipse cx="740.9" cy="1875.9" rx="6.6" ry="3.7" fill="#ecebd2" stroke="#c6c4a6" stroke-width="1.2"/><path d="M706.2,1889.1 L706.2,1894.5 A10.6,5.9 0 0 0 727.4,1894.5 L727.4,1889.1 Z" fill="#fcfbde" stroke="#c6c4a6" stroke-width="1.2"/><ellipse cx="716.8" cy="1889.1" rx="10.6" ry="5.9" fill="#fcfbde" stroke="#c6c4a6" stroke-width="1.2"/><ellipse cx="716.8" cy="1889.4" rx="6.6" ry="3.7" fill="#ecebd2" stroke="#c6c4a6" stroke-width="1.2"/><polygon points="737.7,1913.3 764,1927.8 770,1917 743.8,1902.4" fill="#fcfbde" stroke="#c6c4a6" stroke-width="1.2" stroke-linejoin="round"/><polyline points="740.8,1907.9 767,1922.4" fill="none" stroke="#c6c4a6" stroke-width="1.2"/><polyline points="739.2,1910.6 765.5,1925.1" fill="none" stroke="#c6c4a6" stroke-width="1"/><polyline points="742.3,1905.1 768.5,1919.7" fill="none" stroke="#c6c4a6" stroke-width="1"/><ellipse cx="767" cy="1922.4" rx="2.6" ry="6.2" transform="rotate(29 767 1922.4)" fill="#fcfbde" stroke="#c6c4a6" stroke-width="1.2"/><polygon points="501.5,1911.9 525.3,1925.1 525.3,1933.4 501.5,1920.2" fill="#0d0d0d" stroke="#a4a4a4" stroke-width="1.2" stroke-linejoin="round"/><polygon points="525.3,1925.1 597.5,1884.8 597.5,1893.1 525.3,1933.4" fill="#0d0d0d" stroke="#a4a4a4" stroke-width="1.2" stroke-linejoin="round"/><polygon points="501.5,1911.9 573.6,1871.6 597.5,1884.8 525.3,1925.1" fill="#0d0d0d" stroke="#a4a4a4" stroke-width="1.2" stroke-linejoin="round"/><path d="M562.9,1879.5 L562.9,1884.9 A10.6,5.9 0 0 0 584.1,1884.9 L584.1,1879.5 Z" fill="#0d0d0d" stroke="#a4a4a4" stroke-width="1.2"/><ellipse cx="573.5" cy="1879.5" rx="10.6" ry="5.9" fill="#0d0d0d" stroke="#a4a4a4" stroke-width="1.2"/><ellipse cx="573.5" cy="1879.8" rx="6.6" ry="3.7" fill="#5c5c5c" stroke="#a4a4a4" stroke-width="1.2"/><path d="M538.8,1893 L538.8,1898.4 A10.6,5.9 0 0 0 560,1898.4 L560,1893 Z" fill="#0d0d0d" stroke="#a4a4a4" stroke-width="1.2"/><ellipse cx="549.4" cy="1893" rx="10.6" ry="5.9" fill="#0d0d0d" stroke="#a4a4a4" stroke-width="1.2"/><ellipse cx="549.4" cy="1893.3" rx="6.6" ry="3.7" fill="#5c5c5c" stroke="#a4a4a4" stroke-width="1.2"/><path d="M514.8,1906.4 L514.8,1911.8 A10.6,5.9 0 0 0 536,1911.8 L536,1906.4 Z" fill="#0d0d0d" stroke="#a4a4a4" stroke-width="1.2"/><ellipse cx="525.4" cy="1906.4" rx="10.6" ry="5.9" fill="#0d0d0d" stroke="#a4a4a4" stroke-width="1.2"/><ellipse cx="525.4" cy="1906.7" rx="6.6" ry="3.7" fill="#5c5c5c" stroke="#a4a4a4" stroke-width="1.2"/><polygon points="549.6,1877.5 692.7,1956.7 692.7,1965 549.6,1885.8" fill="#0d0d0d" stroke="#a4a4a4" stroke-width="1.2" stroke-linejoin="round"/><polygon points="692.7,1956.7 716.7,1943.3 716.7,1951.6 692.7,1965" fill="#0d0d0d" stroke="#a4a4a4" stroke-width="1.2" stroke-linejoin="round"/><polygon points="549.6,1877.5 573.6,1864.1 716.7,1943.3 692.7,1956.7" fill="#0d0d0d" stroke="#a4a4a4" stroke-width="1.2" stroke-linejoin="round"/><path d="M562.9,1872 L562.9,1877.4 A10.6,5.9 0 0 0 584.1,1877.4 L584.1,1872 Z" fill="#0d0d0d" stroke="#a4a4a4" stroke-width="1.2"/><ellipse cx="573.5" cy="1872" rx="10.6" ry="5.9" fill="#0d0d0d" stroke="#a4a4a4" stroke-width="1.2"/><path d="M586.8,1885.2 L586.8,1890.6 A10.6,5.9 0 0 0 608,1890.6 L608,1885.2 Z" fill="#0d0d0d" stroke="#a4a4a4" stroke-width="1.2"/><ellipse cx="597.4" cy="1885.2" rx="10.6" ry="5.9" fill="#0d0d0d" stroke="#a4a4a4" stroke-width="1.2"/><path d="M610.6,1898.4 L610.6,1903.8 A10.6,5.9 0 0 0 631.8,1903.8 L631.8,1898.4 Z" fill="#0d0d0d" stroke="#a4a4a4" stroke-width="1.2"/><ellipse cx="621.2" cy="1898.4" rx="10.6" ry="5.9" fill="#0d0d0d" stroke="#a4a4a4" stroke-width="1.2"/><path d="M634.5,1911.6 L634.5,1917 A10.6,5.9 0 0 0 655.7,1917 L655.7,1911.6 Z" fill="#0d0d0d" stroke="#a4a4a4" stroke-width="1.2"/><ellipse cx="645.1" cy="1911.6" rx="10.6" ry="5.9" fill="#0d0d0d" stroke="#a4a4a4" stroke-width="1.2"/><path d="M658.3,1924.8 L658.3,1930.2 A10.6,5.9 0 0 0 679.5,1930.2 L679.5,1924.8 Z" fill="#0d0d0d" stroke="#a4a4a4" stroke-width="1.2"/><ellipse cx="668.9" cy="1924.8" rx="10.6" ry="5.9" fill="#0d0d0d" stroke="#a4a4a4" stroke-width="1.2"/><path d="M682.1,1938 L682.1,1943.4 A10.6,5.9 0 0 0 703.4,1943.4 L703.4,1938 Z" fill="#0d0d0d" stroke="#a4a4a4" stroke-width="1.2"/><ellipse cx="692.8" cy="1938" rx="10.6" ry="5.9" fill="#0d0d0d" stroke="#a4a4a4" stroke-width="1.2"/>
<text x="889.4" y="1296" font-size="29.6" font-weight="normal" fill="#ffffff" text-anchor="start" textLength="175" lengthAdjust="spacingAndGlyphs">stemviet.com</text><text x="890.4" y="1297" font-size="29.6" font-weight="normal" fill="#777777" text-anchor="start" textLength="175" lengthAdjust="spacingAndGlyphs">stemviet.com</text>
<polygon points="50.9,1357.8 73.9,1369.8 73.9,1378.6 50.9,1366.6" fill="#0d0d0d" stroke="#a4a4a4" stroke-width="1.2" stroke-linejoin="round"/><polygon points="73.9,1369.8 217.3,1291.2 217.3,1300 73.9,1378.6" fill="#0d0d0d" stroke="#a4a4a4" stroke-width="1.2" stroke-linejoin="round"/><polygon points="50.9,1357.8 194.3,1279.2 217.3,1291.2 73.9,1369.8" fill="#0d0d0d" stroke="#a4a4a4" stroke-width="1.2" stroke-linejoin="round"/><path d="M183.2,1286.3 L183.2,1291.8 A10.6,5.9 0 0 0 204.4,1291.8 L204.4,1286.3 Z" fill="#0d0d0d" stroke="#a4a4a4" stroke-width="1.2"/><ellipse cx="193.8" cy="1286.3" rx="10.6" ry="5.9" fill="#0d0d0d" stroke="#a4a4a4" stroke-width="1.2"/><path d="M159.3,1299.4 L159.3,1304.8 A10.6,5.9 0 0 0 180.5,1304.8 L180.5,1299.4 Z" fill="#0d0d0d" stroke="#a4a4a4" stroke-width="1.2"/><ellipse cx="169.9" cy="1299.4" rx="10.6" ry="5.9" fill="#0d0d0d" stroke="#a4a4a4" stroke-width="1.2"/><path d="M135.4,1312.5 L135.4,1318 A10.6,5.9 0 0 0 156.6,1318 L156.6,1312.5 Z" fill="#0d0d0d" stroke="#a4a4a4" stroke-width="1.2"/><ellipse cx="146" cy="1312.5" rx="10.6" ry="5.9" fill="#0d0d0d" stroke="#a4a4a4" stroke-width="1.2"/><path d="M111.6,1325.6 L111.6,1331 A10.6,5.9 0 0 0 132.8,1331 L132.8,1325.6 Z" fill="#0d0d0d" stroke="#a4a4a4" stroke-width="1.2"/><ellipse cx="122.2" cy="1325.6" rx="10.6" ry="5.9" fill="#0d0d0d" stroke="#a4a4a4" stroke-width="1.2"/><path d="M87.7,1338.7 L87.7,1344.1 A10.6,5.9 0 0 0 108.8,1344.1 L108.8,1338.7 Z" fill="#0d0d0d" stroke="#a4a4a4" stroke-width="1.2"/><ellipse cx="98.2" cy="1338.7" rx="10.6" ry="5.9" fill="#0d0d0d" stroke="#a4a4a4" stroke-width="1.2"/><path d="M63.7,1351.8 L63.7,1357.2 A10.6,5.9 0 0 0 84.9,1357.2 L84.9,1351.8 Z" fill="#0d0d0d" stroke="#a4a4a4" stroke-width="1.2"/><ellipse cx="74.3" cy="1351.8" rx="10.6" ry="5.9" fill="#0d0d0d" stroke="#a4a4a4" stroke-width="1.2"/>
<polygon points="153.5,1344 199.5,1368 199.5,1376.8 153.5,1352.8" fill="#0d0d0d" stroke="#a4a4a4" stroke-width="1.2" stroke-linejoin="round"/><polygon points="199.5,1368 295.1,1315.6 295.1,1324.4 199.5,1376.8" fill="#0d0d0d" stroke="#a4a4a4" stroke-width="1.2" stroke-linejoin="round"/><polygon points="153.5,1344 249.1,1291.6 295.1,1315.6 199.5,1368" fill="#0d0d0d" stroke="#a4a4a4" stroke-width="1.2" stroke-linejoin="round"/><path d="M238,1298.8 L238,1304.2 A10.6,5.9 0 0 0 259.2,1304.2 L259.2,1298.8 Z" fill="#0d0d0d" stroke="#a4a4a4" stroke-width="1.2"/><ellipse cx="248.6" cy="1298.8" rx="10.6" ry="5.9" fill="#0d0d0d" stroke="#a4a4a4" stroke-width="1.2"/><path d="M214.2,1311.8 L214.2,1317.2 A10.6,5.9 0 0 0 235.3,1317.2 L235.3,1311.8 Z" fill="#0d0d0d" stroke="#a4a4a4" stroke-width="1.2"/><ellipse cx="224.8" cy="1311.8" rx="10.6" ry="5.9" fill="#0d0d0d" stroke="#a4a4a4" stroke-width="1.2"/><path d="M261,1310.8 L261,1316.2 A10.6,5.9 0 0 0 282.2,1316.2 L282.2,1310.8 Z" fill="#0d0d0d" stroke="#a4a4a4" stroke-width="1.2"/><ellipse cx="271.6" cy="1310.8" rx="10.6" ry="5.9" fill="#0d0d0d" stroke="#a4a4a4" stroke-width="1.2"/><path d="M190.2,1324.9 L190.2,1330.3 A10.6,5.9 0 0 0 211.4,1330.3 L211.4,1324.9 Z" fill="#0d0d0d" stroke="#a4a4a4" stroke-width="1.2"/><ellipse cx="200.8" cy="1324.9" rx="10.6" ry="5.9" fill="#0d0d0d" stroke="#a4a4a4" stroke-width="1.2"/><path d="M237.2,1323.8 L237.2,1329.2 A10.6,5.9 0 0 0 258.4,1329.2 L258.4,1323.8 Z" fill="#0d0d0d" stroke="#a4a4a4" stroke-width="1.2"/><ellipse cx="247.8" cy="1323.8" rx="10.6" ry="5.9" fill="#0d0d0d" stroke="#a4a4a4" stroke-width="1.2"/><path d="M166.3,1338 L166.3,1343.5 A10.6,5.9 0 0 0 187.5,1343.5 L187.5,1338 Z" fill="#0d0d0d" stroke="#a4a4a4" stroke-width="1.2"/><ellipse cx="176.9" cy="1338" rx="10.6" ry="5.9" fill="#0d0d0d" stroke="#a4a4a4" stroke-width="1.2"/><path d="M213.2,1336.9 L213.2,1342.3 A10.6,5.9 0 0 0 234.4,1342.3 L234.4,1336.9 Z" fill="#0d0d0d" stroke="#a4a4a4" stroke-width="1.2"/><ellipse cx="223.8" cy="1336.9" rx="10.6" ry="5.9" fill="#0d0d0d" stroke="#a4a4a4" stroke-width="1.2"/><path d="M189.3,1350 L189.3,1355.5 A10.6,5.9 0 0 0 210.5,1355.5 L210.5,1350 Z" fill="#0d0d0d" stroke="#a4a4a4" stroke-width="1.2"/><ellipse cx="199.9" cy="1350" rx="10.6" ry="5.9" fill="#0d0d0d" stroke="#a4a4a4" stroke-width="1.2"/>
<polygon points="300.2,1331.8 323.1,1344.1 323.1,1376.1 300.2,1363.8" fill="#0d0d0d" stroke="#a4a4a4" stroke-width="1.2" stroke-linejoin="round"/><polygon points="323.1,1344.1 345.9,1331.9 345.9,1363.9 323.1,1376.1" fill="#0d0d0d" stroke="#a4a4a4" stroke-width="1.2" stroke-linejoin="round"/><polygon points="300.2,1331.8 323,1319.6 345.9,1331.9 323.1,1344.1" fill="#0d0d0d" stroke="#a4a4a4" stroke-width="1.2" stroke-linejoin="round"/><path d="M312.4,1326.5 L312.4,1331.9 A10.6,5.9 0 0 0 333.6,1331.9 L333.6,1326.5 Z" fill="#0d0d0d" stroke="#a4a4a4" stroke-width="1.2"/><ellipse cx="323" cy="1326.5" rx="10.6" ry="5.9" fill="#0d0d0d" stroke="#a4a4a4" stroke-width="1.2"/><ellipse cx="323" cy="1326.8" rx="6.6" ry="3.7" fill="#5c5c5c" stroke="#a4a4a4" stroke-width="1.2"/>
<polygon points="60.1,1428 83.1,1440 83.1,1445.5 60.1,1433.5" fill="#0d0d0d" stroke="#a4a4a4" stroke-width="1.2" stroke-linejoin="round"/><polygon points="83.1,1440 178.7,1387.6 178.7,1393.1 83.1,1445.5" fill="#0d0d0d" stroke="#a4a4a4" stroke-width="1.2" stroke-linejoin="round"/><polygon points="60.1,1428 155.7,1375.6 178.7,1387.6 83.1,1440" fill="#0d0d0d" stroke="#a4a4a4" stroke-width="1.2" stroke-linejoin="round"/><path d="M144.7,1382.8 L144.7,1388.2 A10.6,5.9 0 0 0 165.8,1388.2 L165.8,1382.8 Z" fill="#0d0d0d" stroke="#a4a4a4" stroke-width="1.2"/><ellipse cx="155.2" cy="1382.8" rx="10.6" ry="5.9" fill="#0d0d0d" stroke="#a4a4a4" stroke-width="1.2"/><ellipse cx="155.2" cy="1383" rx="6.6" ry="3.7" fill="#5c5c5c" stroke="#a4a4a4" stroke-width="1.2"/><path d="M120.8,1395.8 L120.8,1401.2 A10.6,5.9 0 0 0 141.9,1401.2 L141.9,1395.8 Z" fill="#0d0d0d" stroke="#a4a4a4" stroke-width="1.2"/><ellipse cx="131.3" cy="1395.8" rx="10.6" ry="5.9" fill="#0d0d0d" stroke="#a4a4a4" stroke-width="1.2"/><ellipse cx="131.3" cy="1396.1" rx="6.6" ry="3.7" fill="#5c5c5c" stroke="#a4a4a4" stroke-width="1.2"/><path d="M96.8,1408.9 L96.8,1414.3 A10.6,5.9 0 0 0 118,1414.3 L118,1408.9 Z" fill="#0d0d0d" stroke="#a4a4a4" stroke-width="1.2"/><ellipse cx="107.4" cy="1408.9" rx="10.6" ry="5.9" fill="#0d0d0d" stroke="#a4a4a4" stroke-width="1.2"/><ellipse cx="107.4" cy="1409.2" rx="6.6" ry="3.7" fill="#5c5c5c" stroke="#a4a4a4" stroke-width="1.2"/><path d="M73,1422 L73,1427.5 A10.6,5.9 0 0 0 94.1,1427.5 L94.1,1422 Z" fill="#0d0d0d" stroke="#a4a4a4" stroke-width="1.2"/><ellipse cx="83.5" cy="1422" rx="10.6" ry="5.9" fill="#0d0d0d" stroke="#a4a4a4" stroke-width="1.2"/><ellipse cx="83.5" cy="1422.3" rx="6.6" ry="3.7" fill="#5c5c5c" stroke="#a4a4a4" stroke-width="1.2"/>
<polygon points="152.6,1421.9 175.6,1433.9 175.6,1440.4 152.6,1428.4" fill="#0d0d0d" stroke="#a4a4a4" stroke-width="1.2" stroke-linejoin="round"/><polygon points="175.6,1433.9 223.4,1407.7 223.4,1414.2 175.6,1440.4" fill="#0d0d0d" stroke="#a4a4a4" stroke-width="1.2" stroke-linejoin="round"/><polygon points="152.6,1421.9 200.4,1395.7 223.4,1407.7 175.6,1433.9" fill="#0d0d0d" stroke="#a4a4a4" stroke-width="1.2" stroke-linejoin="round"/><path d="M189.3,1402.8 L189.3,1408.2 A10.6,5.9 0 0 0 210.5,1408.2 L210.5,1402.8 Z" fill="#0d0d0d" stroke="#a4a4a4" stroke-width="1.2"/><ellipse cx="199.9" cy="1402.8" rx="10.6" ry="5.9" fill="#0d0d0d" stroke="#a4a4a4" stroke-width="1.2"/><ellipse cx="199.9" cy="1403.1" rx="6.6" ry="3.7" fill="#5c5c5c" stroke="#a4a4a4" stroke-width="1.2"/><polygon points="172.6,1403.8 182.3,1408.8 182.3,1423.3 172.6,1418.3" fill="#0d0d0d" stroke="#a4a4a4" stroke-width="1.2" stroke-linejoin="round"/><polygon points="182.3,1408.8 188,1405.7 188,1420.2 182.3,1423.3" fill="#0d0d0d" stroke="#a4a4a4" stroke-width="1.2" stroke-linejoin="round"/><polygon points="172.6,1403.8 178.4,1400.7 188,1405.7 182.3,1408.8" fill="#0d0d0d" stroke="#a4a4a4" stroke-width="1.2" stroke-linejoin="round"/><polygon points="161.9,1409.7 171.5,1414.7 171.5,1429.2 161.9,1424.2" fill="#0d0d0d" stroke="#a4a4a4" stroke-width="1.2" stroke-linejoin="round"/><polygon points="171.5,1414.7 177.3,1411.6 177.3,1426.1 171.5,1429.2" fill="#0d0d0d" stroke="#a4a4a4" stroke-width="1.2" stroke-linejoin="round"/><polygon points="161.9,1409.7 167.6,1406.5 177.3,1411.6 171.5,1414.7" fill="#0d0d0d" stroke="#a4a4a4" stroke-width="1.2" stroke-linejoin="round"/>
<polygon points="251.9,1422 257.2,1424.8 257.2,1451.8 251.9,1449" fill="#0d0d0d" stroke="#a4a4a4" stroke-width="1.2" stroke-linejoin="round"/><polygon points="257.2,1424.8 280,1412.6 280,1439.6 257.2,1451.8" fill="#0d0d0d" stroke="#a4a4a4" stroke-width="1.2" stroke-linejoin="round"/><polygon points="251.9,1422 274.7,1409.8 280,1412.6 257.2,1424.8" fill="#0d0d0d" stroke="#a4a4a4" stroke-width="1.2" stroke-linejoin="round"/><polygon points="229,1409.7 257.2,1424.8 257.2,1433.4 229,1418.3" fill="#0d0d0d" stroke="#a4a4a4" stroke-width="1.2" stroke-linejoin="round"/><polygon points="257.2,1424.8 280,1412.6 280,1421.2 257.2,1433.4" fill="#0d0d0d" stroke="#a4a4a4" stroke-width="1.2" stroke-linejoin="round"/><polygon points="229,1409.7 251.8,1397.5 280,1412.6 257.2,1424.8" fill="#0d0d0d" stroke="#a4a4a4" stroke-width="1.2" stroke-linejoin="round"/><path d="M242,1404.4 L242,1409.8 A9.8,5.5 0 0 0 261.6,1409.8 L261.6,1404.4 Z" fill="#0d0d0d" stroke="#a4a4a4" stroke-width="1.2"/><ellipse cx="251.8" cy="1404.4" rx="9.8" ry="5.5" fill="#0d0d0d" stroke="#a4a4a4" stroke-width="1.2"/><ellipse cx="251.8" cy="1404.7" rx="6.1" ry="3.4" fill="#5c5c5c" stroke="#a4a4a4" stroke-width="1.2"/><ellipse cx="269.1" cy="1436.2" rx="5.6" ry="8.6" transform="rotate(27 269.1 1436.2)" fill="#0d0d0d" stroke="#a4a4a4" stroke-width="1.2"/><ellipse cx="271.6" cy="1437.4" rx="5.4" ry="8.2" transform="rotate(27 271.6 1437.4)" fill="#0d0d0d" stroke="#a4a4a4" stroke-width="1.2"/><ellipse cx="271.6" cy="1437.4" rx="3.1" ry="5" transform="rotate(27 271.6 1437.4)" fill="#5c5c5c" stroke="#a4a4a4" stroke-width="1"/>
<polygon points="289.2,1425 312.1,1437.3 312.1,1444.9 289.2,1432.6" fill="#0d0d0d" stroke="#a4a4a4" stroke-width="1.2" stroke-linejoin="round"/><polygon points="312.1,1437.3 334.9,1425.1 334.9,1432.7 312.1,1444.9" fill="#0d0d0d" stroke="#a4a4a4" stroke-width="1.2" stroke-linejoin="round"/><polygon points="289.2,1425 312,1412.8 334.9,1425.1 312.1,1437.3" fill="#0d0d0d" stroke="#a4a4a4" stroke-width="1.2" stroke-linejoin="round"/><path d="M301.4,1419.7 L301.4,1425.1 A10.6,5.9 0 0 0 322.6,1425.1 L322.6,1419.7 Z" fill="#0d0d0d" stroke="#a4a4a4" stroke-width="1.2"/><ellipse cx="312" cy="1419.7" rx="10.6" ry="5.9" fill="#0d0d0d" stroke="#a4a4a4" stroke-width="1.2"/>
<text x="99.2" y="1383.8" font-size="16.9" font-weight="bold" fill="#3a3a3a" text-anchor="start">X1</text>
<text x="224.4" y="1383.8" font-size="16.9" font-weight="bold" fill="#3a3a3a" text-anchor="start">X1</text>
<text x="311.5" y="1397.6" font-size="16.9" font-weight="bold" fill="#3a3a3a" text-anchor="start">X2</text>
<text x="83.9" y="1464.8" font-size="16.9" font-weight="bold" fill="#3a3a3a" text-anchor="start">X2</text>
<text x="166.4" y="1464.8" font-size="16.9" font-weight="bold" fill="#3a3a3a" text-anchor="start">X2</text>
<text x="265.7" y="1464.8" font-size="16.9" font-weight="bold" fill="#3a3a3a" text-anchor="start">X2</text>
<text x="320.7" y="1464.8" font-size="16.9" font-weight="bold" fill="#3a3a3a" text-anchor="start">X2</text>
<rect x="476.2" y="1502.6" width="248.6" height="214.2" rx="12" fill="none" stroke="#7c7c7c" stroke-width="1.4"/>
<polygon points="482.8,1624.8 506.9,1638.4 506.9,1643.9 482.8,1630.3" fill="#0d0d0d" stroke="#a4a4a4" stroke-width="1.2" stroke-linejoin="round"/><polygon points="506.9,1638.4 600.1,1586.4 600.1,1591.9 506.9,1643.9" fill="#0d0d0d" stroke="#a4a4a4" stroke-width="1.2" stroke-linejoin="round"/><polygon points="482.8,1624.8 576,1572.8 600.1,1586.4 506.9,1638.4" fill="#0d0d0d" stroke="#a4a4a4" stroke-width="1.2" stroke-linejoin="round"/><path d="M565.8,1580.7 L565.8,1586.1 A10.6,5.9 0 0 0 587,1586.1 L587,1580.7 Z" fill="#0d0d0d" stroke="#a4a4a4" stroke-width="1.2"/><ellipse cx="576.4" cy="1580.7" rx="10.6" ry="5.9" fill="#0d0d0d" stroke="#a4a4a4" stroke-width="1.2"/><ellipse cx="576.4" cy="1581" rx="6.6" ry="3.7" fill="#5c5c5c" stroke="#a4a4a4" stroke-width="1.2"/><path d="M542.5,1593.7 L542.5,1599.1 A10.6,5.9 0 0 0 563.7,1599.1 L563.7,1593.7 Z" fill="#0d0d0d" stroke="#a4a4a4" stroke-width="1.2"/><ellipse cx="553.1" cy="1593.7" rx="10.6" ry="5.9" fill="#0d0d0d" stroke="#a4a4a4" stroke-width="1.2"/><ellipse cx="553.1" cy="1594" rx="6.6" ry="3.7" fill="#5c5c5c" stroke="#a4a4a4" stroke-width="1.2"/><path d="M519.2,1606.7 L519.2,1612.1 A10.6,5.9 0 0 0 540.4,1612.1 L540.4,1606.7 Z" fill="#0d0d0d" stroke="#a4a4a4" stroke-width="1.2"/><ellipse cx="529.8" cy="1606.7" rx="10.6" ry="5.9" fill="#0d0d0d" stroke="#a4a4a4" stroke-width="1.2"/><ellipse cx="529.8" cy="1607" rx="6.6" ry="3.7" fill="#5c5c5c" stroke="#a4a4a4" stroke-width="1.2"/><path d="M495.9,1619.7 L495.9,1625.1 A10.6,5.9 0 0 0 517.1,1625.1 L517.1,1619.7 Z" fill="#0d0d0d" stroke="#a4a4a4" stroke-width="1.2"/><ellipse cx="506.5" cy="1619.7" rx="10.6" ry="5.9" fill="#0d0d0d" stroke="#a4a4a4" stroke-width="1.2"/><ellipse cx="506.5" cy="1620" rx="6.6" ry="3.7" fill="#5c5c5c" stroke="#a4a4a4" stroke-width="1.2"/>
<polygon points="602.6,1694.8 626.7,1708.4 626.7,1713.9 602.6,1700.3" fill="#0d0d0d" stroke="#a4a4a4" stroke-width="1.2" stroke-linejoin="round"/><polygon points="626.7,1708.4 719.9,1656.4 719.9,1661.9 626.7,1713.9" fill="#0d0d0d" stroke="#a4a4a4" stroke-width="1.2" stroke-linejoin="round"/><polygon points="602.6,1694.8 695.8,1642.8 719.9,1656.4 626.7,1708.4" fill="#0d0d0d" stroke="#a4a4a4" stroke-width="1.2" stroke-linejoin="round"/><path d="M685.6,1650.7 L685.6,1656.1 A10.6,5.9 0 0 0 706.8,1656.1 L706.8,1650.7 Z" fill="#0d0d0d" stroke="#a4a4a4" stroke-width="1.2"/><ellipse cx="696.2" cy="1650.7" rx="10.6" ry="5.9" fill="#0d0d0d" stroke="#a4a4a4" stroke-width="1.2"/><ellipse cx="696.2" cy="1651" rx="6.6" ry="3.7" fill="#5c5c5c" stroke="#a4a4a4" stroke-width="1.2"/><path d="M662.3,1663.7 L662.3,1669.1 A10.6,5.9 0 0 0 683.5,1669.1 L683.5,1663.7 Z" fill="#0d0d0d" stroke="#a4a4a4" stroke-width="1.2"/><ellipse cx="672.9" cy="1663.7" rx="10.6" ry="5.9" fill="#0d0d0d" stroke="#a4a4a4" stroke-width="1.2"/><ellipse cx="672.9" cy="1664" rx="6.6" ry="3.7" fill="#5c5c5c" stroke="#a4a4a4" stroke-width="1.2"/><path d="M639,1676.7 L639,1682.1 A10.6,5.9 0 0 0 660.2,1682.1 L660.2,1676.7 Z" fill="#0d0d0d" stroke="#a4a4a4" stroke-width="1.2"/><ellipse cx="649.6" cy="1676.7" rx="10.6" ry="5.9" fill="#0d0d0d" stroke="#a4a4a4" stroke-width="1.2"/><ellipse cx="649.6" cy="1677" rx="6.6" ry="3.7" fill="#5c5c5c" stroke="#a4a4a4" stroke-width="1.2"/><path d="M615.7,1689.7 L615.7,1695.1 A10.6,5.9 0 0 0 636.9,1695.1 L636.9,1689.7 Z" fill="#0d0d0d" stroke="#a4a4a4" stroke-width="1.2"/><ellipse cx="626.3" cy="1689.7" rx="10.6" ry="5.9" fill="#0d0d0d" stroke="#a4a4a4" stroke-width="1.2"/><ellipse cx="626.3" cy="1690" rx="6.6" ry="3.7" fill="#5c5c5c" stroke="#a4a4a4" stroke-width="1.2"/>
<polyline points="550.7,1546 550.7,1583" fill="none" stroke="#555" stroke-width="1.2"/><path d="M550.7,1588 L546.5,1579 L550.7,1582.4 L554.9,1579 Z" fill="#555"/>
<polygon points="529.5,1521.1 673.9,1602.7 673.9,1612.2 529.5,1530.6" fill="#0d0d0d" stroke="#a4a4a4" stroke-width="1.2" stroke-linejoin="round"/><polygon points="673.9,1602.7 697.2,1589.7 697.2,1599.2 673.9,1612.2" fill="#0d0d0d" stroke="#a4a4a4" stroke-width="1.2" stroke-linejoin="round"/><polygon points="529.5,1521.1 552.8,1508.1 697.2,1589.7 673.9,1602.7" fill="#0d0d0d" stroke="#a4a4a4" stroke-width="1.2" stroke-linejoin="round"/><path d="M542.6,1516 L542.6,1521.4 A10.6,5.9 0 0 0 563.8,1521.4 L563.8,1516 Z" fill="#0d0d0d" stroke="#a4a4a4" stroke-width="1.2"/><ellipse cx="553.2" cy="1516" rx="10.6" ry="5.9" fill="#0d0d0d" stroke="#a4a4a4" stroke-width="1.2"/><path d="M566.7,1529.6 L566.7,1535 A10.6,5.9 0 0 0 587.9,1535 L587.9,1529.6 Z" fill="#0d0d0d" stroke="#a4a4a4" stroke-width="1.2"/><ellipse cx="577.3" cy="1529.6" rx="10.6" ry="5.9" fill="#0d0d0d" stroke="#a4a4a4" stroke-width="1.2"/><path d="M590.7,1543.2 L590.7,1548.6 A10.6,5.9 0 0 0 611.9,1548.6 L611.9,1543.2 Z" fill="#0d0d0d" stroke="#a4a4a4" stroke-width="1.2"/><ellipse cx="601.3" cy="1543.2" rx="10.6" ry="5.9" fill="#0d0d0d" stroke="#a4a4a4" stroke-width="1.2"/><path d="M614.8,1556.8 L614.8,1562.2 A10.6,5.9 0 0 0 636,1562.2 L636,1556.8 Z" fill="#0d0d0d" stroke="#a4a4a4" stroke-width="1.2"/><ellipse cx="625.4" cy="1556.8" rx="10.6" ry="5.9" fill="#0d0d0d" stroke="#a4a4a4" stroke-width="1.2"/><path d="M638.9,1570.4 L638.9,1575.8 A10.6,5.9 0 0 0 660.1,1575.8 L660.1,1570.4 Z" fill="#0d0d0d" stroke="#a4a4a4" stroke-width="1.2"/><ellipse cx="649.5" cy="1570.4" rx="10.6" ry="5.9" fill="#0d0d0d" stroke="#a4a4a4" stroke-width="1.2"/><path d="M662.9,1584 L662.9,1589.4 A10.6,5.9 0 0 0 684.1,1589.4 L684.1,1584 Z" fill="#0d0d0d" stroke="#a4a4a4" stroke-width="1.2"/><ellipse cx="673.5" cy="1584" rx="10.6" ry="5.9" fill="#0d0d0d" stroke="#a4a4a4" stroke-width="1.2"/>
<polyline points="673.1,1611 673.1,1648" fill="none" stroke="#555" stroke-width="1.2"/><path d="M673.1,1653 L668.9,1644 L673.1,1647.4 L677.3,1644 Z" fill="#555"/>
<rect x="742.3" y="1557.4" width="67.9" height="64" rx="10" fill="none" stroke="#7c7c7c" stroke-width="1.4"/>
<rect x="814.3" y="1555.8" width="68.3" height="66.8" rx="10" fill="none" stroke="#7c7c7c" stroke-width="1.4"/>
<polygon points="770.2,1589.3 775.5,1592.1 775.5,1619.1 770.2,1616.3" fill="#0d0d0d" stroke="#a4a4a4" stroke-width="1.2" stroke-linejoin="round"/><polygon points="775.5,1592.1 798.3,1579.9 798.3,1606.9 775.5,1619.1" fill="#0d0d0d" stroke="#a4a4a4" stroke-width="1.2" stroke-linejoin="round"/><polygon points="770.2,1589.3 793,1577.1 798.3,1579.9 775.5,1592.1" fill="#0d0d0d" stroke="#a4a4a4" stroke-width="1.2" stroke-linejoin="round"/><polygon points="747.3,1577 775.5,1592.1 775.5,1600.7 747.3,1585.6" fill="#0d0d0d" stroke="#a4a4a4" stroke-width="1.2" stroke-linejoin="round"/><polygon points="775.5,1592.1 798.3,1579.9 798.3,1588.5 775.5,1600.7" fill="#0d0d0d" stroke="#a4a4a4" stroke-width="1.2" stroke-linejoin="round"/><polygon points="747.3,1577 770.1,1564.8 798.3,1579.9 775.5,1592.1" fill="#0d0d0d" stroke="#a4a4a4" stroke-width="1.2" stroke-linejoin="round"/><path d="M760.4,1571.7 L760.4,1577.1 A9.8,5.5 0 0 0 779.9,1577.1 L779.9,1571.7 Z" fill="#0d0d0d" stroke="#a4a4a4" stroke-width="1.2"/><ellipse cx="770.1" cy="1571.7" rx="9.8" ry="5.5" fill="#0d0d0d" stroke="#a4a4a4" stroke-width="1.2"/><ellipse cx="770.1" cy="1572" rx="6.1" ry="3.4" fill="#5c5c5c" stroke="#a4a4a4" stroke-width="1.2"/><ellipse cx="787.4" cy="1603.5" rx="5.6" ry="8.6" transform="rotate(27 787.4 1603.5)" fill="#0d0d0d" stroke="#a4a4a4" stroke-width="1.2"/><ellipse cx="789.9" cy="1604.7" rx="5.4" ry="8.2" transform="rotate(27 789.9 1604.7)" fill="#0d0d0d" stroke="#a4a4a4" stroke-width="1.2"/><ellipse cx="789.9" cy="1604.7" rx="3.1" ry="5" transform="rotate(27 789.9 1604.7)" fill="#5c5c5c" stroke="#a4a4a4" stroke-width="1"/>
<polygon points="824.4,1573.1 847.3,1585.4 847.3,1617.4 824.4,1605.1" fill="#0d0d0d" stroke="#a4a4a4" stroke-width="1.2" stroke-linejoin="round"/><polygon points="847.3,1585.4 870.1,1573.2 870.1,1605.2 847.3,1617.4" fill="#0d0d0d" stroke="#a4a4a4" stroke-width="1.2" stroke-linejoin="round"/><polygon points="824.4,1573.1 847.2,1560.9 870.1,1573.2 847.3,1585.4" fill="#0d0d0d" stroke="#a4a4a4" stroke-width="1.2" stroke-linejoin="round"/><path d="M836.6,1567.8 L836.6,1573.2 A10.6,5.9 0 0 0 857.9,1573.2 L857.9,1567.8 Z" fill="#0d0d0d" stroke="#a4a4a4" stroke-width="1.2"/><ellipse cx="847.2" cy="1567.8" rx="10.6" ry="5.9" fill="#0d0d0d" stroke="#a4a4a4" stroke-width="1.2"/><ellipse cx="847.2" cy="1568" rx="6.6" ry="3.7" fill="#5c5c5c" stroke="#a4a4a4" stroke-width="1.2"/>
<polyline points="797.4,1621.4 797.4,1699.7" fill="none" stroke="#333" stroke-width="1.3"/><path d="M797.4,1705.5 L792.6,1695 L797.4,1699 L802.2,1695 Z" fill="#333"/>
<polyline points="833.1,1622.6 833.1,1673.7" fill="none" stroke="#333" stroke-width="1.3"/><path d="M833.1,1679.5 L828.3,1669 L833.1,1673 L837.9,1669 Z" fill="#333"/>
<polyline points="556.8,1717 556.8,1863.7" fill="none" stroke="#333" stroke-width="1.3"/><path d="M556.8,1869.5 L552,1859 L556.8,1863 L561.6,1859 Z" fill="#333"/>
<polyline points="987,1921 987,1882.3 733,1882.3" fill="none" stroke="#333" stroke-width="1.3"/>
<polyline points="745,1882.3 731.3,1882.3" fill="none" stroke="#333" stroke-width="1.3"/><path d="M725.5,1882.3 L736,1877.7 L732,1882.3 L736,1886.9 Z" fill="#333"/>
<rect x="0" y="0" width="1.6" height="1920" fill="#111"/>
<rect x="1078.2" y="0" width="1.8" height="1920" fill="#111"/>
<rect x="0" y="358.4" width="1080" height="2" fill="#111"/>
<rect x="0" y="1198" width="1080" height="2" fill="#111"/>
</svg>
</body></html>
